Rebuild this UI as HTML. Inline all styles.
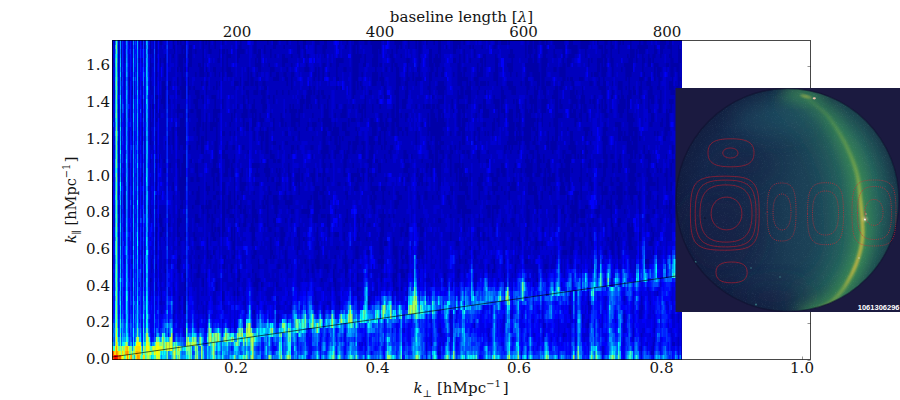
<!DOCTYPE html>
<html><head><meta charset="utf-8"><title>power spectrum</title>
<style>
html,body{margin:0;padding:0;background:#fff;}
body{width:900px;height:400px;overflow:hidden;}
svg{display:block;}
text{font-family:"DejaVu Serif","Liberation Serif",serif;font-size:14px;fill:#141414;}
.lb{font-size:14.5px;}
.it{font-style:italic;}
.sm{font-size:9.8px;}
.id{font-family:"Liberation Sans","DejaVu Sans",sans-serif;font-size:7.5px;fill:#fff;font-weight:bold;}
</style></head><body>
<svg width="900" height="400" viewBox="0 0 900 400">
<defs>
<filter id="hb" x="0" y="0" width="100%" height="100%" filterUnits="userSpaceOnUse"><feGaussianBlur stdDeviation="0.3 0.5"/></filter>
<filter id="b6" x="-30%" y="-30%" width="160%" height="160%"><feGaussianBlur stdDeviation="6"/></filter>
<filter id="b3" x="-30%" y="-30%" width="160%" height="160%"><feGaussianBlur stdDeviation="2.5"/></filter>
<filter id="b2" x="-30%" y="-30%" width="160%" height="160%"><feGaussianBlur stdDeviation="1.6"/></filter>
<filter id="b1" x="-30%" y="-30%" width="160%" height="160%"><feGaussianBlur stdDeviation="1"/></filter>
<filter id="b12" x="-50%" y="-50%" width="200%" height="200%"><feGaussianBlur stdDeviation="12"/></filter>
<filter id="grain" x="0" y="0" width="100%" height="100%">
<feTurbulence type="fractalNoise" baseFrequency="0.9" numOctaves="2" seed="3" result="t"/>
<feColorMatrix in="t" type="matrix" values="0 0 0 0 0.55  0 0 0 0 0.8  0 0 0 0 0.85  0 0 0 1.1 -0.62"/>
</filter>
<linearGradient id="coreg" gradientUnits="userSpaceOnUse" x1="0" y1="95" x2="0" y2="318">
<stop offset="0" stop-color="#6aa84a" stop-opacity="0.25"/><stop offset="0.3" stop-color="#8cb244" stop-opacity="0.7"/><stop offset="0.5" stop-color="#a8b840" stop-opacity="0.95"/><stop offset="0.8" stop-color="#a8b840" stop-opacity="0.9"/><stop offset="1" stop-color="#7aa848" stop-opacity="0.4"/>
</linearGradient>
<linearGradient id="hotg" gradientUnits="userSpaceOnUse" x1="0" y1="176" x2="0" y2="290">
<stop offset="0" stop-color="#dcb040" stop-opacity="0"/><stop offset="0.35" stop-color="#dcb040" stop-opacity="0.85"/><stop offset="0.8" stop-color="#dcb040" stop-opacity="0.8"/><stop offset="1" stop-color="#dcb040" stop-opacity="0"/>
</linearGradient>
<linearGradient id="glow1" gradientUnits="userSpaceOnUse" x1="0" y1="90" x2="0" y2="318">
<stop offset="0" stop-color="#2c7a5c" stop-opacity="0.28"/><stop offset="0.45" stop-color="#2c7a5c" stop-opacity="0.55"/><stop offset="1" stop-color="#2c7a5c" stop-opacity="0.5"/>
</linearGradient>
<linearGradient id="glow2" gradientUnits="userSpaceOnUse" x1="0" y1="90" x2="0" y2="318">
<stop offset="0" stop-color="#3f9052" stop-opacity="0.45"/><stop offset="0.45" stop-color="#3f9052" stop-opacity="0.78"/><stop offset="1" stop-color="#3f9052" stop-opacity="0.7"/>
</linearGradient>
<clipPath id="sky"><circle cx="787.5" cy="200" r="111.5"/></clipPath>
<clipPath id="inset"><rect x="675.5" y="88" width="224.5" height="224"/></clipPath>
<clipPath id="hm"><rect x="112" y="40" width="570" height="320"/></clipPath>
<linearGradient id="skyl" gradientUnits="userSpaceOnUse" x1="676" y1="0" x2="900" y2="0">
<stop offset="0" stop-color="#14234a"/><stop offset="0.33" stop-color="#172f4e"/><stop offset="0.62" stop-color="#1c4458"/><stop offset="0.82" stop-color="#20565e"/><stop offset="1" stop-color="#1c4a58"/>
</linearGradient>
<radialGradient id="skyg" gradientUnits="userSpaceOnUse" cx="787.5" cy="200" r="112">
<stop offset="0" stop-color="#101838" stop-opacity="0"/><stop offset="0.8" stop-color="#101838" stop-opacity="0"/><stop offset="1" stop-color="#101838" stop-opacity="0.55"/>
</radialGradient>
</defs>
<rect width="900" height="400" fill="#fff"/>
<g clip-path="url(#hm)">
<rect x="112" y="40" width="570" height="320" fill="#0000bd"/>
<g fill="none" filter="url(#hb)">
<g stroke-width="1.1">
<path stroke="#0000a8" d="M114.5 90v5M121.5 49v9M121.5 77v4M121.5 109v4M121.5 118v4M124.5 195v5M124.5 205v4M129.5 77v13M129.5 163v5M129.5 182v4M132.5 86v9M132.5 127v9M142.5 40v5M142.5 99v19M142.5 127v18M142.5 173v4M142.5 259v5M142.5 273v5M150.5 40v14M150.5 58v32M150.5 104v41M150.5 159v4M150.5 209v5M150.5 278v4M152.5 104v5M153.5 104v14M155.5 95v4M155.5 241v5M156.5 40v46M156.5 95v18M156.5 118v4M156.5 131v23M156.5 159v32M156.5 195v5M156.5 205v4M156.5 218v5M156.5 227v28M156.5 264v5M157.5 95v4M159.5 109v9M159.5 154v9M159.5 214v9M160.5 40v5M160.5 58v9M160.5 214v13M160.5 232v5M161.5 40v5M161.5 99v5M161.5 218v9M161.5 232v5"/>
<path stroke="#0000d1" d="M113.5 58v9M114.5 49v14M114.5 67v14M114.5 104v9M114.5 122v14M114.5 141v4M114.5 150v41M114.5 205v9M114.5 227v19M114.5 255v14M114.5 273v5M118.5 67v5M118.5 77v9M118.5 99v10M118.5 113v9M118.5 131v5M118.5 145v5M118.5 159v14M118.5 177v32M118.5 214v4M118.5 223v23M118.5 250v5M118.5 264v5M119.5 45v13M119.5 118v9M119.5 154v9M119.5 205v18M121.5 81v9M121.5 131v5M121.5 150v13M121.5 182v4M121.5 191v9M121.5 205v4M121.5 218v19M121.5 246v9M121.5 269v4M121.5 291v5M123.5 163v5M123.5 173v13M123.5 195v10M124.5 40v9M124.5 63v9M124.5 90v19M124.5 122v5M124.5 136v18M124.5 159v18M124.5 214v13M124.5 241v5M124.5 259v5M125.5 54v9M125.5 113v5M125.5 122v5M125.5 177v5M125.5 186v32M128.5 77v9M128.5 163v5M129.5 40v9M129.5 54v18M129.5 99v5M129.5 118v4M129.5 127v4M129.5 154v5M129.5 200v18M129.5 227v5M129.5 246v4M129.5 264v9M129.5 291v5M131.5 40v14M131.5 67v5M131.5 90v28M131.5 168v9M131.5 259v5M132.5 72v9M132.5 145v5M132.5 191v4M132.5 214v9M132.5 227v5M132.5 246v4M132.5 255v4M132.5 264v5M132.5 278v4M132.5 291v5M132.5 305v5M134.5 72v5M134.5 81v18M134.5 141v13M134.5 214v9M134.5 227v10M136.5 63v9M136.5 173v4M136.5 182v4M136.5 195v5M138.5 58v5M138.5 77v4M139.5 49v9M139.5 63v14M139.5 90v9M139.5 104v18M139.5 141v13M139.5 159v32M139.5 209v14M139.5 232v5M139.5 241v5M139.5 250v5M141.5 40v5M141.5 58v5M141.5 81v9M141.5 99v5M141.5 122v32M141.5 168v9M141.5 182v4M141.5 195v10M141.5 250v5M142.5 63v4M142.5 191v4M142.5 200v5M142.5 209v5M142.5 218v5M142.5 227v5M142.5 237v9M142.5 264v5M142.5 287v23M142.5 319v9M144.5 40v5M144.5 99v23M144.5 131v19M144.5 154v19M144.5 191v4M144.5 200v9M144.5 241v14M145.5 40v18M145.5 63v4M145.5 113v9M145.5 131v19M145.5 154v19M145.5 191v4M145.5 205v4M148.5 45v13M148.5 118v13M148.5 136v5M148.5 186v5M148.5 200v5M148.5 214v4M148.5 223v18M149.5 45v9M149.5 67v10M149.5 90v55M149.5 186v5M150.5 223v4M150.5 237v4M150.5 246v32M150.5 296v5M151.5 40v9M151.5 54v9M151.5 77v4M151.5 95v27M151.5 127v4M151.5 150v4M151.5 159v27M151.5 191v9M151.5 205v9M151.5 218v5M151.5 246v4M151.5 255v4M151.5 273v5M151.5 282v9M152.5 40v9M152.5 58v5M152.5 67v19M152.5 95v4M152.5 127v14M152.5 150v36M152.5 205v18M152.5 232v5M152.5 241v14M152.5 259v5M152.5 269v27M153.5 58v5M153.5 67v19M153.5 127v14M153.5 145v5M153.5 186v46M153.5 237v9M153.5 250v9M153.5 269v4M155.5 127v4M155.5 145v9M155.5 159v4M155.5 168v14M155.5 195v10M155.5 209v18M155.5 255v9M155.5 278v4M155.5 291v5M155.5 301v4M156.5 278v4M156.5 291v5M156.5 301v4M157.5 54v4M157.5 63v9M157.5 77v18M157.5 122v37M157.5 163v23M157.5 191v18M157.5 214v13M157.5 232v23M157.5 269v13M157.5 287v9M158.5 113v5M159.5 168v5M159.5 177v18M159.5 200v5M159.5 227v5M159.5 246v4M159.5 282v5M159.5 291v5M159.5 301v4M160.5 81v14M160.5 154v14M160.5 177v5M160.5 186v9M160.5 200v5M160.5 291v10M160.5 305v9M161.5 63v4M161.5 77v4M161.5 113v5M161.5 159v23M161.5 186v5M161.5 195v10M161.5 237v13M161.5 269v4M161.5 282v5M161.5 305v5"/>
<path stroke="#0000e6" d="M112.5 58v5M112.5 81v5M112.5 90v5M112.5 154v5M113.5 40v18M113.5 67v55M113.5 127v32M113.5 163v10M113.5 177v5M113.5 205v22M113.5 237v4M113.5 255v9M114.5 191v14M114.5 246v9M114.5 269v4M114.5 278v23M118.5 246v4M118.5 255v9M118.5 269v18M119.5 40v5M119.5 58v37M119.5 104v14M119.5 127v27M119.5 163v19M119.5 186v9M119.5 200v5M119.5 232v14M121.5 255v14M121.5 273v5M121.5 287v4M121.5 296v9M123.5 40v59M123.5 118v23M123.5 145v18M123.5 168v5M123.5 186v9M123.5 205v9M123.5 218v14M124.5 232v9M124.5 255v4M124.5 264v5M124.5 287v4M125.5 40v14M125.5 63v32M125.5 99v14M125.5 118v4M125.5 127v18M125.5 150v9M125.5 163v14M125.5 182v4M125.5 218v14M125.5 259v5M128.5 40v5M128.5 49v14M128.5 67v10M128.5 86v18M128.5 113v5M128.5 127v36M128.5 168v50M128.5 237v4M129.5 223v4M129.5 237v9M129.5 250v14M129.5 273v9M129.5 287v4M129.5 296v18M129.5 319v4M131.5 54v13M131.5 72v18M131.5 118v23M131.5 154v14M131.5 177v9M131.5 195v5M131.5 205v13M131.5 232v23M132.5 296v9M132.5 310v9M134.5 40v23M134.5 67v5M134.5 77v4M134.5 99v14M134.5 118v23M134.5 154v14M134.5 173v41M134.5 223v4M134.5 237v27M134.5 287v9M136.5 45v4M136.5 54v9M136.5 72v27M136.5 109v32M136.5 168v5M136.5 177v5M136.5 186v9M136.5 200v5M136.5 209v14M136.5 269v4M138.5 40v18M138.5 63v14M138.5 81v14M138.5 118v13M138.5 136v27M138.5 168v5M138.5 177v9M138.5 191v4M138.5 209v5M138.5 223v4M138.5 246v4M139.5 246v4M139.5 255v14M139.5 282v5M141.5 45v13M141.5 63v18M141.5 90v9M141.5 104v18M141.5 154v14M141.5 186v9M141.5 205v13M141.5 232v5M141.5 241v9M141.5 255v9M141.5 273v14M142.5 310v4M142.5 328v9M144.5 49v23M144.5 77v22M144.5 122v9M144.5 150v4M144.5 173v18M144.5 195v5M144.5 209v5M144.5 227v14M144.5 255v18M145.5 58v5M145.5 67v37M145.5 109v4M145.5 122v9M145.5 150v4M145.5 173v18M145.5 195v10M145.5 209v5M145.5 227v5M145.5 246v4M145.5 273v9M148.5 40v5M148.5 58v14M148.5 81v5M148.5 90v28M148.5 131v5M148.5 141v22M148.5 168v18M148.5 191v9M148.5 218v5M148.5 241v5M148.5 269v18M149.5 40v5M149.5 54v13M149.5 77v13M149.5 145v41M149.5 191v41M149.5 237v4M149.5 246v9M149.5 269v18M149.5 291v10M150.5 173v4M150.5 301v13M150.5 319v14M151.5 186v5M151.5 200v5M151.5 232v14M151.5 250v5M151.5 291v5M151.5 314v23M152.5 186v19M152.5 223v9M152.5 237v4M152.5 296v32M152.5 333v4M153.5 246v4M153.5 259v10M153.5 273v55M153.5 333v4M155.5 296v5M155.5 305v9M155.5 333v4M156.5 191v4M156.5 296v5M156.5 305v5M157.5 186v5M157.5 209v5M157.5 255v14M157.5 282v5M158.5 49v5M158.5 72v9M158.5 95v4M158.5 145v9M158.5 159v4M158.5 195v5M158.5 218v5M159.5 287v4M159.5 296v5M159.5 305v18M160.5 314v14M161.5 314v5"/>
<path stroke="#0000fa" d="M112.5 54v4M112.5 63v18M112.5 86v4M112.5 95v23M112.5 136v18M112.5 159v18M112.5 191v27M112.5 227v5M112.5 246v4M112.5 264v5M113.5 159v4M113.5 173v4M113.5 182v23M113.5 227v10M113.5 241v14M113.5 264v5M113.5 273v9M114.5 301v13M118.5 95v4M118.5 287v18M118.5 310v9M119.5 99v5M119.5 223v9M119.5 246v13M119.5 264v9M121.5 186v5M121.5 282v5M121.5 305v9M123.5 99v5M123.5 113v5M123.5 141v4M123.5 214v4M123.5 232v9M123.5 246v18M123.5 287v4M123.5 296v5M124.5 269v18M124.5 291v19M124.5 314v5M125.5 95v4M125.5 145v5M125.5 159v4M125.5 232v14M125.5 255v4M125.5 264v5M128.5 45v4M128.5 63v4M128.5 109v4M128.5 118v9M128.5 218v14M128.5 241v14M128.5 259v19M128.5 287v4M128.5 296v5M129.5 49v5M129.5 104v5M129.5 122v5M129.5 218v5M129.5 232v5M129.5 314v5M129.5 328v5M130.5 77v4M130.5 127v4M131.5 141v4M131.5 150v4M131.5 186v9M131.5 200v5M131.5 218v14M131.5 255v4M131.5 264v27M131.5 305v5M132.5 319v4M132.5 337v5M134.5 63v4M134.5 113v5M134.5 168v5M134.5 264v23M134.5 296v5M134.5 314v5M136.5 40v5M136.5 49v5M136.5 99v10M136.5 141v4M136.5 150v18M136.5 205v4M136.5 223v9M136.5 237v22M136.5 264v5M136.5 273v18M136.5 296v5M138.5 95v23M138.5 131v5M138.5 163v5M138.5 173v4M138.5 186v5M138.5 195v14M138.5 214v9M138.5 227v14M138.5 250v5M138.5 259v10M139.5 99v5M139.5 301v4M139.5 319v4M140.5 72v14M140.5 122v14M140.5 141v4M140.5 150v4M140.5 177v5M141.5 223v9M141.5 237v4M141.5 264v9M141.5 287v27M141.5 319v9M142.5 49v9M142.5 67v14M142.5 186v5M142.5 205v4M142.5 314v5M142.5 337v5M144.5 223v4M144.5 273v9M144.5 287v4M145.5 104v5M145.5 218v9M145.5 232v14M145.5 250v5M145.5 264v9M145.5 282v14M148.5 163v5M148.5 246v4M148.5 255v14M148.5 287v4M148.5 296v5M149.5 232v5M149.5 241v5M149.5 255v14M149.5 287v4M149.5 301v4M149.5 310v4M149.5 319v4M150.5 227v10M150.5 241v5M150.5 314v5M151.5 154v5M151.5 296v9M151.5 310v4M151.5 337v5M152.5 328v5M153.5 328v5M155.5 154v5M155.5 163v5M155.5 314v5M155.5 323v10M156.5 310v9M157.5 296v14M157.5 314v5M158.5 40v9M158.5 54v18M158.5 81v14M158.5 99v14M158.5 118v27M158.5 154v5M158.5 163v10M158.5 177v5M158.5 191v4M158.5 200v18M158.5 223v18M158.5 250v5M158.5 259v19M158.5 287v4M159.5 173v4M159.5 323v10M160.5 168v9M160.5 182v4M161.5 67v10M161.5 182v4M161.5 319v9"/>
<path stroke="#000fff" d="M112.5 40v5M112.5 122v5M112.5 131v5M112.5 177v5M112.5 186v5M112.5 218v9M112.5 232v14M112.5 250v14M112.5 269v4M112.5 287v4M113.5 269v4M113.5 282v9M113.5 296v23M114.5 314v5M118.5 305v5M118.5 319v9M119.5 95v4M119.5 182v4M119.5 259v5M119.5 273v5M119.5 282v9M119.5 310v4M121.5 314v5M122.5 122v5M122.5 145v5M122.5 163v5M122.5 173v9M123.5 264v23M123.5 291v5M123.5 301v9M124.5 246v9M124.5 310v4M125.5 269v22M128.5 232v5M128.5 255v4M128.5 278v9M128.5 291v5M128.5 301v9M128.5 319v4M129.5 282v5M129.5 323v5M129.5 333v4M130.5 40v9M130.5 54v23M130.5 81v41M130.5 131v14M130.5 163v23M130.5 218v5M130.5 227v5M130.5 241v14M130.5 259v10M131.5 291v10M131.5 310v4M132.5 323v5M132.5 342v4M134.5 305v9M134.5 319v9M135.5 49v5M135.5 67v5M135.5 95v4M135.5 131v10M135.5 173v4M135.5 191v18M135.5 214v9M136.5 259v5M136.5 291v5M138.5 241v5M138.5 255v4M138.5 278v9M138.5 291v5M139.5 291v5M140.5 40v9M140.5 58v14M140.5 86v4M140.5 95v14M140.5 113v9M140.5 136v5M140.5 145v5M140.5 154v9M140.5 168v9M140.5 182v27M140.5 223v4M140.5 250v5M141.5 314v5M144.5 72v5M144.5 282v5M144.5 291v5M145.5 214v4M145.5 296v5M145.5 310v9M148.5 72v9M148.5 86v4M148.5 291v5M148.5 305v5M149.5 305v5M150.5 333v4M151.5 223v9M151.5 305v5M152.5 337v5M153.5 337v5M154.5 104v5M154.5 150v4M155.5 191v4M155.5 319v4M156.5 319v9M157.5 319v9M158.5 173v4M158.5 182v9M158.5 241v9M158.5 255v4M158.5 278v9M158.5 291v5"/>
<path stroke="#0024ff" d="M112.5 45v9M112.5 127v4M112.5 273v14M112.5 291v10M112.5 310v4M113.5 122v5M113.5 291v5M113.5 319v4M114.5 319v4M119.5 195v5M119.5 305v5M119.5 314v5M121.5 278v4M121.5 319v4M121.5 333v4M122.5 40v27M122.5 72v5M122.5 86v13M122.5 113v9M122.5 127v9M122.5 141v4M122.5 150v4M122.5 168v5M122.5 182v4M122.5 209v5M122.5 223v4M123.5 104v9M123.5 241v5M123.5 310v9M124.5 319v4M125.5 291v19M125.5 314v9M128.5 104v5M128.5 310v9M128.5 323v5M130.5 49v5M130.5 122v5M130.5 145v18M130.5 186v14M130.5 205v13M130.5 223v4M130.5 232v9M130.5 255v4M130.5 269v22M130.5 305v9M131.5 145v5M131.5 301v4M131.5 314v9M132.5 328v9M134.5 328v5M134.5 337v5M135.5 45v4M135.5 54v13M135.5 72v5M135.5 81v14M135.5 99v32M135.5 141v18M135.5 163v10M135.5 177v14M135.5 209v5M135.5 223v36M135.5 269v4M135.5 278v4M135.5 296v5M136.5 145v5M136.5 232v5M136.5 301v4M138.5 269v9M138.5 287v4M138.5 296v9M139.5 269v13M139.5 287v4M139.5 305v14M140.5 49v9M140.5 90v5M140.5 163v5M140.5 209v9M140.5 227v23M140.5 255v4M140.5 264v5M140.5 287v4M141.5 218v5M141.5 328v9M142.5 342v4M143.5 109v4M143.5 127v4M143.5 136v5M143.5 159v4M144.5 214v9M144.5 296v5M144.5 319v4M145.5 301v9M145.5 319v9M148.5 250v5M148.5 301v4M148.5 310v4M148.5 319v4M149.5 314v5M149.5 323v5M150.5 337v5M154.5 40v9M154.5 72v14M154.5 109v18M154.5 136v5M154.5 145v5M154.5 182v9M154.5 232v5M154.5 250v5M154.5 273v5M158.5 296v14M158.5 314v5M160.5 328v9M161.5 328v5"/>
<path stroke="#0038ff" d="M112.5 118v4M112.5 182v4M112.5 301v9M112.5 314v9M114.5 323v5M114.5 337v5M118.5 328v9M119.5 278v4M119.5 319v9M121.5 328v5M122.5 67v5M122.5 77v9M122.5 99v5M122.5 136v5M122.5 154v9M122.5 186v23M122.5 214v9M122.5 227v28M122.5 269v4M122.5 301v4M124.5 323v5M125.5 246v9M125.5 310v4M127.5 49v5M127.5 77v4M127.5 131v5M127.5 145v5M128.5 328v5M129.5 337v5M130.5 291v14M130.5 314v5M131.5 328v9M134.5 333v4M135.5 40v5M135.5 159v4M135.5 259v10M135.5 273v5M135.5 282v14M135.5 301v4M135.5 310v4M136.5 305v5M138.5 305v5M138.5 314v5M139.5 296v5M139.5 323v5M140.5 259v5M140.5 273v14M140.5 291v23M141.5 337v5M143.5 40v9M143.5 63v4M143.5 86v9M143.5 99v10M143.5 113v5M143.5 122v5M143.5 131v5M143.5 154v5M143.5 173v13M143.5 200v5M143.5 223v4M143.5 232v5M143.5 241v9M144.5 310v9M144.5 323v10M145.5 255v9M148.5 323v5M149.5 328v5M151.5 342v4M154.5 54v18M154.5 86v18M154.5 127v9M154.5 141v4M154.5 173v9M154.5 205v4M154.5 227v5M154.5 237v13M154.5 255v4M154.5 269v4M154.5 278v4M154.5 291v5M157.5 310v4M158.5 310v4M158.5 319v14M159.5 333v4M161.5 333v4"/>
<path stroke="#004dff" d="M113.5 328v5M114.5 333v4M114.5 342v4M119.5 291v14M119.5 328v9M121.5 337v5M122.5 109v4M122.5 255v14M122.5 273v5M122.5 287v14M122.5 305v9M123.5 319v4M123.5 328v5M124.5 328v5M125.5 323v10M127.5 40v9M127.5 54v9M127.5 67v5M127.5 81v9M127.5 95v23M127.5 122v9M127.5 136v9M127.5 150v18M127.5 177v5M127.5 191v9M127.5 209v23M127.5 237v9M127.5 250v5M127.5 259v5M128.5 333v4M129.5 342v4M130.5 200v5M130.5 319v4M130.5 333v4M131.5 323v5M131.5 337v5M134.5 301v4M135.5 77v4M135.5 305v5M135.5 323v10M136.5 310v13M138.5 310v4M138.5 319v9M139.5 328v5M140.5 109v4M140.5 218v5M140.5 314v9M143.5 49v14M143.5 67v5M143.5 118v4M143.5 141v13M143.5 163v10M143.5 186v14M143.5 205v4M143.5 227v5M143.5 237v4M143.5 250v14M144.5 301v4M145.5 328v5M148.5 314v5M149.5 333v4M154.5 49v5M154.5 154v19M154.5 200v5M154.5 214v13M154.5 259v10M154.5 282v9M154.5 296v18M154.5 333v4M155.5 337v5"/>
<path stroke="#0061ff" d="M113.5 323v5M113.5 337v5M114.5 328v5M117.5 63v9M117.5 95v9M117.5 109v4M117.5 168v9M117.5 191v9M121.5 323v5M121.5 342v4M122.5 104v5M122.5 278v9M123.5 323v5M125.5 333v4M127.5 63v4M127.5 72v5M127.5 90v5M127.5 118v4M127.5 168v9M127.5 182v9M127.5 200v9M127.5 232v5M127.5 246v4M127.5 255v4M128.5 342v4M130.5 323v10M133.5 45v4M133.5 141v4M135.5 314v9M135.5 333v4M136.5 323v5M139.5 333v4M140.5 269v4M140.5 323v5M142.5 346v5M143.5 95v4M143.5 209v14M143.5 264v23M144.5 305v5M144.5 333v4M148.5 328v5M154.5 195v5M154.5 209v5M154.5 323v5M154.5 337v5M156.5 328v5M157.5 328v5"/>
<path stroke="#0075ff" d="M112.5 323v19M113.5 333v4M115.5 40v5M117.5 45v4M117.5 54v9M117.5 72v5M117.5 81v5M117.5 90v5M117.5 104v5M117.5 113v18M117.5 141v4M117.5 150v4M117.5 159v4M117.5 177v14M117.5 205v9M117.5 223v4M117.5 232v5M122.5 314v5M123.5 333v4M126.5 45v4M126.5 77v4M126.5 150v4M126.5 186v5M127.5 264v14M127.5 282v9M130.5 337v5M133.5 72v5M133.5 81v18M133.5 131v10M133.5 200v5M133.5 269v9M134.5 342v4M135.5 337v5M136.5 328v5M137.5 150v4M143.5 72v14M143.5 287v4M144.5 337v5M147.5 49v5M147.5 95v4M147.5 163v5M147.5 186v5M147.5 232v5M154.5 191v4M154.5 314v9M154.5 328v5M156.5 333v4"/>
<path stroke="#008aff" d="M113.5 342v4M115.5 49v5M115.5 122v9M115.5 145v5M117.5 40v5M117.5 49v5M117.5 77v4M117.5 86v4M117.5 145v5M117.5 154v5M117.5 163v5M117.5 200v5M117.5 214v9M117.5 227v5M117.5 241v23M117.5 278v4M118.5 337v5M120.5 49v5M120.5 77v9M120.5 90v5M120.5 205v4M122.5 319v4M124.5 333v4M126.5 40v5M126.5 49v9M126.5 86v4M126.5 104v5M126.5 118v9M126.5 136v5M126.5 168v5M126.5 182v4M126.5 209v9M126.5 255v4M127.5 278v4M127.5 301v13M128.5 337v5M132.5 346v5M133.5 40v5M133.5 49v9M133.5 109v4M133.5 122v9M133.5 145v9M133.5 159v9M133.5 177v5M133.5 195v5M133.5 209v5M133.5 241v5M133.5 250v5M133.5 291v5M136.5 333v4M137.5 58v5M137.5 86v4M137.5 109v4M137.5 136v5M137.5 145v5M137.5 159v4M137.5 168v18M137.5 191v4M140.5 328v5M141.5 342v4M143.5 291v5M143.5 301v4M146.5 45v4M146.5 54v4M146.5 122v5M146.5 136v5M147.5 40v5M147.5 58v5M147.5 67v10M147.5 109v4M147.5 118v4M147.5 127v4M147.5 136v5M147.5 159v4M147.5 177v5M147.5 205v4M147.5 214v4M147.5 223v4M147.5 241v5M150.5 342v4M153.5 342v4M160.5 337v5M161.5 355v5"/>
<path stroke="#009eff" d="M115.5 90v9M115.5 136v9M115.5 150v9M115.5 177v5M115.5 237v4M115.5 259v5M117.5 136v5M117.5 237v4M117.5 264v14M117.5 282v5M117.5 291v23M119.5 337v9M120.5 40v9M120.5 54v4M120.5 67v5M120.5 86v4M120.5 109v9M120.5 122v5M120.5 159v4M120.5 173v4M120.5 195v5M120.5 209v14M120.5 232v14M120.5 255v4M122.5 323v10M123.5 337v5M125.5 337v5M126.5 58v5M126.5 67v5M126.5 81v5M126.5 99v5M126.5 109v9M126.5 127v9M126.5 141v4M126.5 154v5M126.5 163v5M126.5 173v4M126.5 195v14M126.5 218v5M126.5 227v5M126.5 237v9M127.5 328v5M130.5 342v4M131.5 342v4M133.5 63v9M133.5 77v4M133.5 99v5M133.5 154v5M133.5 168v5M133.5 182v13M133.5 214v4M133.5 227v14M133.5 259v10M133.5 278v4M133.5 287v4M133.5 323v5M137.5 49v9M137.5 63v9M137.5 81v5M137.5 95v4M137.5 104v5M137.5 127v9M137.5 141v4M137.5 154v5M137.5 195v5M137.5 209v9M137.5 223v4M137.5 269v18M138.5 328v9M143.5 305v9M145.5 333v9M146.5 81v5M146.5 90v9M146.5 104v5M146.5 127v4M146.5 150v4M146.5 186v9M146.5 227v5M146.5 246v4M147.5 45v4M147.5 54v4M147.5 63v4M147.5 81v5M147.5 99v5M147.5 113v5M147.5 122v5M147.5 131v5M147.5 154v5M147.5 168v9M147.5 182v4M147.5 200v5M147.5 209v5M147.5 218v5M147.5 227v5M147.5 237v4M147.5 246v4M147.5 255v4M147.5 273v5M147.5 282v9M152.5 342v4M158.5 333v4"/>
<path stroke="#00b2ff" d="M115.5 45v4M115.5 54v4M115.5 67v10M115.5 99v14M115.5 118v4M115.5 182v13M115.5 200v14M115.5 218v9M115.5 255v4M115.5 287v4M117.5 131v5M117.5 287v4M117.5 314v5M120.5 58v5M120.5 104v5M120.5 118v4M120.5 131v10M120.5 145v5M120.5 154v5M120.5 168v5M120.5 177v5M120.5 191v4M120.5 250v5M120.5 264v5M120.5 273v5M120.5 291v5M122.5 333v4M124.5 337v5M126.5 63v4M126.5 72v5M126.5 90v9M126.5 145v5M126.5 177v5M126.5 191v4M126.5 223v4M126.5 232v5M126.5 246v4M126.5 259v14M126.5 278v4M127.5 291v5M127.5 314v14M133.5 58v5M133.5 104v5M133.5 113v9M133.5 173v4M133.5 205v4M133.5 218v9M133.5 255v4M133.5 282v5M133.5 296v18M133.5 319v4M134.5 355v5M137.5 40v9M137.5 72v9M137.5 99v5M137.5 113v14M137.5 186v5M137.5 205v4M137.5 218v5M137.5 227v5M137.5 255v4M137.5 264v5M137.5 287v9M139.5 337v5M143.5 296v5M146.5 40v5M146.5 49v5M146.5 58v9M146.5 77v4M146.5 86v4M146.5 109v13M146.5 131v5M146.5 141v9M146.5 154v14M146.5 195v32M146.5 232v5M146.5 259v5M146.5 273v5M146.5 287v4M147.5 77v4M147.5 104v5M147.5 141v13M147.5 191v9M147.5 259v10M147.5 278v4M147.5 291v5M148.5 333v4M157.5 333v4"/>
<path stroke="#00c7ff" d="M115.5 58v9M115.5 77v13M115.5 113v5M115.5 131v5M115.5 159v18M115.5 214v4M115.5 227v10M115.5 264v9M115.5 282v5M115.5 296v5M117.5 319v9M118.5 342v4M120.5 63v4M120.5 72v5M120.5 95v9M120.5 141v4M120.5 163v5M120.5 200v5M120.5 223v9M120.5 246v4M120.5 259v5M120.5 269v4M120.5 282v9M120.5 296v5M122.5 337v5M126.5 159v4M126.5 250v5M126.5 273v5M126.5 287v4M126.5 314v5M127.5 296v5M133.5 246v4M133.5 314v5M137.5 90v5M137.5 163v5M137.5 246v4M137.5 259v5M137.5 310v4M140.5 333v4M142.5 351v4M143.5 319v4M146.5 67v10M146.5 168v9M146.5 182v4M146.5 255v4M146.5 282v5M147.5 90v5M147.5 269v4M147.5 296v18M151.5 355v5M154.5 342v4M161.5 337v5M161.5 351v4"/>
<path stroke="#00dbff" d="M115.5 195v5M115.5 241v14M115.5 273v9M120.5 127v4M120.5 305v14M126.5 282v5M126.5 310v4M126.5 319v4M127.5 333v4M133.5 337v5M137.5 232v5M137.5 250v5M137.5 296v5M137.5 305v5M137.5 314v9M140.5 337v5M143.5 323v5M144.5 342v4M146.5 99v5M146.5 237v9M146.5 264v9M146.5 278v4M146.5 291v5M147.5 86v4M147.5 319v4M160.5 355v5"/>
<path stroke="#00f0ff" d="M115.5 291v5M115.5 301v9M120.5 150v4M120.5 186v5M120.5 278v4M120.5 301v4M120.5 328v5M122.5 342v4M126.5 301v9M126.5 328v9M133.5 342v4M137.5 200v5M137.5 237v4M143.5 314v5M143.5 333v4M145.5 342v4M146.5 177v5M146.5 250v5M146.5 296v9M146.5 314v5M147.5 250v5M147.5 323v5M149.5 337v5M152.5 355v5M153.5 355v5M159.5 337v5"/>
<path stroke="#05fffa" d="M112.5 342v4M115.5 319v4M117.5 333v4M120.5 182v4M123.5 342v4M126.5 291v5M126.5 323v5M127.5 337v5M133.5 328v9M135.5 342v4M137.5 241v5M137.5 301v4M137.5 323v5M143.5 337v5M146.5 305v9M146.5 323v5"/>
<path stroke="#1affe5" d="M113.5 346v5M114.5 346v5M115.5 310v9M117.5 328v5M120.5 319v9M124.5 342v4M126.5 296v5M141.5 355v5M143.5 328v5M145.5 355v5M146.5 319v4M147.5 314v5M160.5 351v4"/>
<path stroke="#2effd1" d="M115.5 323v10M116.5 54v4M116.5 168v5M120.5 333v9M126.5 337v5M132.5 351v4M141.5 346v5M155.5 355v5"/>
<path stroke="#42ffbd" d="M115.5 333v4M116.5 118v4M116.5 232v5M120.5 342v4M124.5 355v5M141.5 351v4M143.5 342v4M145.5 351v4M146.5 328v5M147.5 328v5M150.5 346v5M151.5 346v5M152.5 351v4"/>
<path stroke="#57ffa8" d="M115.5 337v5M116.5 40v5M116.5 67v10M116.5 99v5M116.5 122v5M116.5 182v4M116.5 209v5M116.5 218v5M116.5 259v5M117.5 337v5M119.5 346v5M121.5 346v5M125.5 355v5M129.5 355v5M132.5 355v5M133.5 346v5M137.5 328v5M142.5 355v5M150.5 355v5M153.5 351v4M157.5 337v5"/>
<path stroke="#6bff94" d="M115.5 342v4M116.5 49v5M116.5 58v9M116.5 77v4M116.5 86v9M116.5 104v9M116.5 150v9M116.5 186v5M116.5 195v14M116.5 214v4M116.5 227v5M116.5 237v4M116.5 255v4M116.5 264v5M116.5 273v5M118.5 346v5M125.5 342v4M127.5 342v4M129.5 351v4M130.5 351v4M131.5 346v5M133.5 355v5M136.5 337v5M137.5 333v4M144.5 346v9M145.5 346v5M146.5 355v5M154.5 355v5M155.5 342v4M158.5 337v5"/>
<path stroke="#80ff80" d="M116.5 45v4M116.5 81v5M116.5 95v4M116.5 113v5M116.5 127v4M116.5 136v14M116.5 159v9M116.5 173v9M116.5 191v4M116.5 223v4M116.5 241v14M116.5 269v4M116.5 278v18M116.5 301v4M121.5 351v4M123.5 346v5M129.5 346v5M130.5 346v5M134.5 346v5M140.5 355v5M149.5 342v4M149.5 355v5M151.5 351v4M156.5 337v5M160.5 342v4M161.5 342v4"/>
<path stroke="#94ff6b" d="M116.5 131v5M116.5 296v5M116.5 305v18M134.5 351v4M135.5 355v5M146.5 333v4M148.5 337v5M159.5 342v4"/>
<path stroke="#a8ff57" d="M117.5 342v4M120.5 346v5M124.5 346v9M138.5 337v5M143.5 351v4M146.5 351v4M147.5 333v4M147.5 351v9M152.5 346v5"/>
<path stroke="#bdff42" d="M112.5 346v5M116.5 323v5M126.5 342v4M131.5 351v4M133.5 351v4M143.5 346v5M146.5 337v5M148.5 355v5M149.5 346v9M155.5 346v9"/>
<path stroke="#d1ff2e" d="M116.5 328v5M122.5 346v5M123.5 355v5M137.5 337v5M140.5 342v4M147.5 337v5M148.5 342v4M154.5 346v5M158.5 355v5M159.5 355v5M160.5 346v5"/>
<path stroke="#e5ff1a" d="M116.5 333v4M117.5 346v5M119.5 351v4M120.5 351v4M123.5 351v4M128.5 346v5M136.5 342v4M146.5 342v4M147.5 342v4M148.5 351v4M150.5 351v4M153.5 346v5M156.5 342v4M156.5 355v5M157.5 342v4M157.5 355v5M158.5 342v4M158.5 351v4M159.5 346v9M161.5 346v5"/>
<path stroke="#faff05" d="M115.5 346v5M122.5 355v5M126.5 355v5M128.5 355v5M139.5 342v4M147.5 346v5M148.5 346v5M154.5 351v4M156.5 346v9M157.5 346v9M158.5 346v5"/>
<path stroke="#fff000" d="M116.5 337v5M135.5 346v5M137.5 342v4M138.5 342v4M140.5 346v5M146.5 346v5"/>
<path stroke="#ffdb00" d="M114.5 351v4M115.5 351v4M116.5 342v4M118.5 351v4M121.5 355v5M122.5 351v4M125.5 346v5M135.5 351v4M136.5 346v5M136.5 355v5M137.5 346v5M138.5 346v5M139.5 346v5M140.5 351v4M143.5 355v5M144.5 355v5"/>
<path stroke="#ffc700" d="M126.5 346v5M128.5 351v4M130.5 355v5M138.5 351v4M139.5 351v4"/>
<path stroke="#ffb300" d="M125.5 351v4M127.5 346v5M136.5 351v4M137.5 351v4M139.5 355v5"/>
<path stroke="#ff9e00" d="M116.5 346v5M117.5 351v4M126.5 351v4M131.5 355v5M137.5 355v5M138.5 355v5"/>
<path stroke="#ff8a00" d="M116.5 351v4M118.5 355v5M127.5 351v9"/>
<path stroke="#ff7500" d="M112.5 355v5"/>
<path stroke="#ff6100" d="M112.5 351v4M113.5 351v4M119.5 355v5M120.5 355v5"/>
<path stroke="#ff4c00" d="M113.5 355v5"/>
<path stroke="#ff2400" d="M117.5 355v5"/>
<path stroke="#ff0f00" d="M114.5 355v5M116.5 355v5"/>
<path stroke="#fa0000" d="M115.5 355v5"/>
</g>
<g stroke-width="1.6">
<path stroke="#0000a8" d="M162.8 81v23M162.8 227v5M164.2 58v19M164.2 81v28M164.2 159v4M164.2 168v5M165.8 54v23M165.8 86v4M165.8 141v4M165.8 168v5M165.8 269v4M168.8 81v9M168.8 95v9M168.8 136v9M168.8 223v4M170.2 81v5M170.2 163v5M173.2 40v9M173.2 54v4M173.2 127v23M173.2 182v9M173.2 195v5M174.8 45v9M177.8 40v5M177.8 67v5M177.8 77v9M177.8 90v5M177.8 104v14M177.8 127v9M177.8 159v9M177.8 218v19M177.8 259v10M179.2 54v13M179.2 90v5M179.2 104v9M179.2 127v23M179.2 159v32M179.2 209v18M179.2 232v5M179.2 241v5M179.2 255v18M179.2 296v5M180.8 40v5M180.8 54v18M180.8 86v4M180.8 109v4M180.8 118v27M180.8 177v23M180.8 205v4M180.8 218v5M180.8 237v4M180.8 259v5M182.2 45v54M182.2 109v4M182.2 118v27M182.2 163v46M183.8 45v4M183.8 54v4M183.8 77v22M183.8 109v41M183.8 154v46M185.2 40v23M185.2 67v5M185.2 81v18M185.2 127v23M185.2 154v32M185.2 232v5M185.2 273v18M185.2 296v18M188.2 54v4M188.2 63v9M188.2 77v18M188.2 113v5M189.8 45v22M189.8 86v4M189.8 145v5M191.2 45v22M191.2 109v4M191.2 159v4M191.2 177v5M191.2 264v5M192.8 109v4M192.8 177v5M192.8 191v4M192.8 205v4M194.2 86v4M194.2 99v5M194.2 127v4M194.2 232v9M195.8 49v5M195.8 72v5M195.8 90v5M195.8 99v10M195.8 163v10M195.8 200v5M195.8 214v9M195.8 237v4M197.2 90v28M197.2 122v14M197.2 141v9M197.2 163v19M197.2 191v14M197.2 214v9M197.2 246v4M197.2 273v5M198.8 63v4M198.8 90v9M198.8 109v36M198.8 177v5M198.8 186v19M198.8 218v5M198.8 246v4M198.8 255v4M198.8 264v14M200.2 63v14M200.2 109v18M201.8 67v10M201.8 81v5M201.8 95v4M201.8 136v18M201.8 205v4M203.2 40v37M203.2 95v9M203.2 122v9M203.2 136v18M203.2 159v4M203.2 205v9M203.2 278v9M206.2 40v5M206.2 67v5M206.2 81v14M206.2 113v28M206.2 182v9M206.2 200v9M206.2 273v5M207.8 72v5M207.8 81v5M207.8 186v9M207.8 205v18M207.8 237v22M209.2 40v14M209.2 186v5M209.2 200v9M209.2 214v4M210.8 49v5M210.8 122v9M210.8 200v9M210.8 255v4M212.2 95v4M212.2 122v9M212.2 168v9M212.2 214v23M213.8 67v5M213.8 86v4M213.8 95v4M213.8 109v18M213.8 159v32M213.8 195v5M213.8 218v5M213.8 232v9M213.8 250v5M215.2 40v9M215.2 67v10M215.2 95v23M215.2 122v5M215.2 141v32M215.2 195v5M215.2 205v9M215.2 227v5M215.2 237v4M216.8 81v9M216.8 109v54M216.8 168v5M216.8 177v5M216.8 191v4M216.8 282v9M218.2 58v5M218.2 109v4M218.2 118v4M218.2 168v18M218.2 191v4M218.2 200v9M218.2 227v5M219.8 49v14M219.8 72v5M219.8 81v5M219.8 109v4M219.8 200v5M219.8 227v10M222.8 40v5M222.8 49v32M222.8 99v10M222.8 131v5M222.8 150v9M222.8 182v55M222.8 291v10M224.2 49v5M224.2 131v5M224.2 150v9M224.2 173v4M224.2 182v13M224.2 200v32M224.2 255v14M225.8 145v5M225.8 154v23M225.8 255v4M227.2 49v28M227.2 141v9M227.2 154v23M227.2 209v5M228.8 54v4M228.8 67v10M228.8 159v9M228.8 195v19M230.2 54v4M230.2 67v10M230.2 122v5M230.2 131v5M230.2 191v18M230.2 214v4M231.8 72v5M231.8 113v9M231.8 163v14M231.8 205v4M231.8 214v4M231.8 227v14M231.8 264v9M233.2 145v5M233.2 159v4M233.2 168v9M233.2 214v4M233.2 241v9M233.2 255v4M234.8 81v9M234.8 109v9M234.8 131v5M234.8 145v5M234.8 154v9M234.8 177v32M234.8 218v5M234.8 227v32M234.8 291v5M236.2 81v5M237.8 49v14M237.8 81v5M237.8 104v5M237.8 127v4M237.8 195v5M237.8 278v4M237.8 287v9M239.2 45v13M239.2 205v4M239.2 223v4M239.2 269v13M240.8 40v14M240.8 77v9M240.8 173v18M240.8 200v14M242.2 49v5M242.2 113v5M242.2 145v5M242.2 168v9M242.2 182v13M243.8 49v5M243.8 86v4M243.8 95v32M243.8 145v5M243.8 182v9M243.8 209v5M243.8 223v4M245.2 81v5M245.2 104v14M245.2 182v4M245.2 205v22M246.8 81v5M246.8 90v5M246.8 109v9M246.8 122v9M246.8 214v4M248.2 67v19M248.2 90v14M248.2 122v9M248.2 150v4M251.2 72v14M251.2 109v4M251.2 223v9M252.8 77v9M252.8 104v27M252.8 163v5M252.8 200v46M252.8 255v4M252.8 269v4M254.2 40v14M254.2 90v5M254.2 99v14M254.2 118v9M254.2 131v10M254.2 163v5M254.2 191v4M254.2 200v18M254.2 227v14M254.2 250v9M254.2 282v5M254.2 310v4M255.8 40v14M255.8 58v9M255.8 81v5M255.8 90v5M255.8 109v18M255.8 163v5M255.8 173v4M255.8 182v4M255.8 209v14M255.8 250v5M255.8 273v14M257.2 54v4M257.2 63v4M257.2 72v5M257.2 81v14M257.2 163v14M257.2 182v4M257.2 214v9M257.2 278v13M258.8 49v23M258.8 163v5M258.8 173v4M258.8 182v4M258.8 259v10M258.8 278v4M260.2 49v23M260.2 113v9M260.2 127v9M261.8 90v5M261.8 99v5M261.8 118v9M261.8 131v19M261.8 282v5M263.2 81v5M263.2 90v23M263.2 118v4M263.2 131v10M263.2 200v9M264.8 45v9M264.8 81v32M264.8 168v5M264.8 195v5M264.8 205v4M264.8 223v4M266.2 86v4M266.2 104v5M266.2 131v23M266.2 163v14M266.2 200v5M266.2 259v5M267.8 40v5M267.8 127v27M267.8 159v23M267.8 195v32M269.2 63v4M269.2 95v4M269.2 168v9M269.2 186v9M269.2 227v5M270.8 49v9M270.8 67v10M270.8 113v5M270.8 150v9M270.8 191v4M270.8 227v5M270.8 237v22M272.2 67v5M272.2 154v5M272.2 177v5M272.2 250v5M273.8 40v9M273.8 67v5M273.8 77v4M273.8 95v9M273.8 118v13M273.8 141v4M273.8 154v9M273.8 177v5M273.8 195v10M273.8 218v5M273.8 255v4M275.2 40v9M275.2 54v4M275.2 77v4M275.2 141v4M275.2 159v4M275.2 195v19M275.2 218v9M275.2 232v5M276.8 40v5M276.8 72v9M276.8 90v5M276.8 168v5M276.8 182v9M276.8 195v23M276.8 282v5M278.2 72v9M278.2 159v4M278.2 173v4M278.2 182v4M278.2 200v5M278.2 264v5M279.8 145v5M279.8 159v4M279.8 168v18M279.8 264v5M281.2 113v14M281.2 227v19M282.8 54v13M282.8 90v5M282.8 118v9M282.8 227v19M284.2 45v4M284.2 54v13M284.2 72v5M284.2 195v5M284.2 232v5M285.8 58v5M285.8 72v9M285.8 109v4M285.8 122v5M285.8 131v5M285.8 141v4M285.8 191v14M285.8 218v5M285.8 250v14M287.2 40v5M287.2 58v5M287.2 67v5M287.2 77v9M287.2 131v5M287.2 141v4M287.2 200v5M287.2 264v5M288.8 90v5M288.8 154v5M288.8 163v14M288.8 200v9M290.2 104v9M290.2 173v18M290.2 195v10M291.8 54v4M291.8 63v4M291.8 72v18M291.8 109v18M291.8 145v9M291.8 195v10M291.8 209v5M291.8 218v5M293.2 72v5M293.2 104v23M293.2 136v5M293.2 145v5M293.2 209v5M294.8 109v22M296.2 109v4M296.2 118v4M296.2 127v4M296.2 173v13M297.8 40v14M297.8 118v4M297.8 145v5M297.8 173v9M297.8 227v10M297.8 246v9M299.2 45v13M299.2 109v18M299.2 131v10M299.2 168v27M299.2 227v23M300.8 99v14M302.2 95v18M302.2 173v9M302.2 209v5M303.8 40v9M303.8 99v5M303.8 209v5M303.8 237v4M305.2 40v5M305.2 49v9M305.2 67v5M305.2 209v5M305.2 259v5M306.8 63v9M306.8 95v14M306.8 127v4M306.8 209v5M308.2 54v4M308.2 67v5M308.2 90v19M308.2 122v5M308.2 200v18M308.2 269v4M309.8 86v18M309.8 200v5M309.8 209v5M311.2 90v5M311.2 104v5M311.2 145v5M311.2 173v4M311.2 195v5M312.8 113v5M312.8 122v5M312.8 136v5M312.8 145v5M312.8 154v5M312.8 173v9M312.8 264v9M314.2 72v9M314.2 86v9M314.2 122v9M314.2 168v18M314.2 191v32M315.8 40v14M315.8 67v10M315.8 122v5M315.8 186v37M315.8 246v4M315.8 259v5M317.2 40v5M317.2 95v4M317.2 186v37M317.2 227v23M317.2 255v14M318.8 40v5M318.8 67v14M318.8 90v19M318.8 118v4M318.8 173v4M318.8 186v5M318.8 200v14M318.8 241v28M320.2 173v4M320.2 191v4M320.2 205v4M321.8 90v5M321.8 150v4M321.8 191v4M321.8 214v4M321.8 278v4M323.2 45v9M323.2 63v18M323.2 90v9M323.2 118v91M323.2 214v4M324.8 40v18M324.8 63v4M324.8 95v4M324.8 104v55M324.8 163v14M324.8 186v5M324.8 195v14M324.8 214v4M324.8 264v5M326.2 40v9M326.2 109v18M326.2 131v5M326.2 145v9M326.2 255v4M326.2 264v5M327.8 99v28M327.8 145v9M327.8 177v5M327.8 214v13M327.8 264v9M329.2 72v5M329.2 95v4M329.2 118v13M329.2 154v5M329.2 177v5M329.2 200v5M329.2 214v23M330.8 63v4M330.8 118v13M330.8 136v5M330.8 163v5M332.2 131v5M333.8 127v9M333.8 269v13M335.2 113v5M335.2 122v23M335.2 150v9M335.2 209v5M335.2 232v5M335.2 255v4M335.2 264v5M335.2 278v13M336.8 58v23M336.8 86v4M336.8 104v5M336.8 127v27M336.8 232v5M336.8 246v4M338.2 58v9M338.2 77v4M338.2 127v9M338.2 145v9M338.2 182v4M338.2 232v5M338.2 246v4M339.8 58v5M339.8 136v14M339.8 182v4M339.8 301v4M341.2 58v5M341.2 86v4M341.2 113v5M342.8 58v5M342.8 109v9M342.8 122v9M342.8 136v5M344.2 67v5M344.2 104v14M344.2 122v9M344.2 150v27M344.2 223v4M344.2 232v9M344.2 259v5M345.8 45v4M345.8 67v5M345.8 104v14M345.8 122v14M345.8 154v14M345.8 173v4M345.8 182v4M345.8 191v4M345.8 218v5M345.8 250v28M347.2 40v5M347.2 131v5M347.2 150v9M347.2 191v9M347.2 209v14M347.2 264v9M348.8 118v9M348.8 131v5M348.8 141v13M350.2 141v4M351.8 118v4M351.8 173v9M353.2 45v54M353.2 104v5M353.2 118v4M353.2 141v13M353.2 163v5M353.2 173v9M353.2 259v5M354.8 40v55M354.8 118v4M354.8 141v13M354.8 173v4M354.8 186v5M356.2 40v5M356.2 54v27M356.2 127v4M356.2 136v14M356.2 173v4M356.2 182v9M356.2 246v13M357.8 40v50M357.8 131v14M357.8 168v23M357.8 214v9M357.8 232v9M357.8 246v13M357.8 273v9M357.8 287v4M359.2 54v9M359.2 104v9M359.2 173v9M359.2 218v14M359.2 237v4M360.8 54v4M360.8 81v5M360.8 109v4M360.8 118v4M360.8 177v5M362.2 72v5M362.2 86v4M362.2 104v18M362.2 141v4M362.2 150v9M362.2 168v5M362.2 214v4M363.8 63v4M363.8 104v5M363.8 141v18M363.8 168v14M363.8 214v13M365.2 40v5M365.2 54v13M365.2 95v23M366.8 40v5M366.8 237v4M368.2 159v4M368.2 168v14M368.2 223v4M368.2 250v5M368.2 301v4M369.8 90v5M369.8 136v9M369.8 150v18M369.8 173v4M369.8 223v4M371.2 40v5M371.2 90v5M371.2 118v9M371.2 136v32M371.2 173v18M371.2 195v10M372.8 40v14M372.8 58v9M372.8 72v14M372.8 104v9M372.8 118v41M372.8 177v5M372.8 186v9M372.8 200v9M374.2 40v27M374.2 72v14M374.2 122v14M374.2 141v4M374.2 186v28M375.8 40v46M375.8 122v14M375.8 159v4M375.8 173v4M375.8 186v5M375.8 195v5M377.2 40v27M377.2 72v9M377.2 99v5M377.2 159v4M377.2 186v5M378.8 40v9M378.8 136v9M378.8 163v10M378.8 259v5M380.2 40v14M380.2 63v4M380.2 77v4M380.2 104v5M380.2 113v14M380.2 131v14M380.2 163v10M380.2 214v4M380.2 223v4M380.2 232v23M380.2 259v5M381.8 63v4M381.8 72v14M381.8 113v18M381.8 145v5M381.8 186v5M381.8 214v55M381.8 273v9M383.2 77v9M383.2 122v9M383.2 186v19M383.2 209v28M383.2 250v5M383.2 259v5M384.8 86v13M384.8 127v23M384.8 154v5M384.8 186v5M384.8 200v5M384.8 214v4M384.8 241v5M386.2 67v5M386.2 95v4M386.2 118v13M386.2 141v4M386.2 159v4M386.2 177v5M386.2 241v5M387.8 113v5M387.8 122v5M389.2 150v4M389.2 191v4M389.2 214v4M389.2 223v4M390.8 54v4M390.8 145v14M392.2 49v23M392.2 109v27M392.2 145v5M393.8 58v5M393.8 104v32M393.8 214v4M393.8 237v18M393.8 273v14M395.2 40v5M395.2 63v4M395.2 90v5M395.2 118v4M395.2 200v9M395.2 246v13M395.2 264v5M395.2 273v5M396.8 40v14M396.8 63v64M396.8 191v4M396.8 200v9M396.8 246v36M396.8 287v4M398.2 40v9M398.2 67v69M398.2 191v14M399.8 40v5M399.8 77v9M399.8 127v4M399.8 195v5M401.2 40v9M401.2 54v4M401.2 113v5M401.2 127v4M401.2 195v5M401.2 227v10M401.2 250v9M401.2 269v9M401.2 287v4M402.8 99v10M402.8 131v5M402.8 177v5M402.8 227v5M402.8 246v9M402.8 259v5M402.8 269v9M404.2 99v10M404.2 150v13M404.2 168v5M404.2 218v5M404.2 273v5M405.8 81v5M405.8 90v19M405.8 113v9M405.8 127v4M405.8 150v9M405.8 163v10M405.8 186v5M405.8 232v5M405.8 255v4M407.2 58v41M407.2 113v5M407.2 127v9M407.2 154v5M407.2 163v10M407.2 177v5M407.2 223v14M407.2 250v14M407.2 269v4M408.8 40v9M408.8 58v5M408.8 77v4M408.8 163v5M408.8 173v9M408.8 223v4M411.8 154v5M413.2 72v9M416.2 40v9M416.2 77v9M416.2 104v5M416.2 131v14M416.2 173v4M417.8 67v5M417.8 77v4M417.8 168v9M417.8 182v4M417.8 191v9M417.8 223v4M417.8 255v4M419.2 40v41M419.2 177v9M419.2 195v14M419.2 223v4M419.2 241v18M420.8 40v14M420.8 58v5M420.8 77v4M420.8 173v9M420.8 218v19M420.8 241v14M422.2 122v5M422.2 159v4M422.2 173v13M422.2 218v5M422.2 227v10M422.2 241v18M423.8 104v5M423.8 227v5M423.8 250v5M425.2 191v9M426.8 40v5M426.8 104v5M426.8 163v10M426.8 182v4M426.8 191v9M428.2 86v4M428.2 104v5M428.2 113v23M428.2 141v9M428.2 163v5M429.8 49v18M429.8 72v23M429.8 104v5M429.8 127v4M429.8 145v14M431.2 49v32M431.2 109v32M431.2 150v9M431.2 163v14M432.8 63v9M432.8 95v4M432.8 104v32M432.8 154v14M432.8 195v5M434.2 40v5M434.2 58v5M434.2 104v5M434.2 113v23M435.8 54v13M435.8 72v5M435.8 118v50M437.2 54v23M437.2 86v4M437.2 104v5M437.2 122v55M437.2 191v4M438.8 40v14M438.8 58v9M438.8 81v14M438.8 99v42M438.8 145v5M438.8 163v28M438.8 195v5M438.8 218v5M440.2 40v23M440.2 81v14M440.2 99v5M440.2 109v45M440.2 159v27M440.2 218v5M441.8 72v5M441.8 81v14M441.8 99v5M441.8 109v4M441.8 118v18M441.8 141v4M441.8 150v4M441.8 159v4M443.2 67v10M443.2 81v23M443.2 113v14M443.2 131v5M443.2 141v4M443.2 150v9M444.8 86v4M444.8 122v5M444.8 273v9M446.2 45v4M447.8 195v5M449.2 154v5M449.2 195v10M450.8 131v5M450.8 145v32M450.8 186v5M450.8 200v9M450.8 214v4M450.8 232v9M452.2 99v10M452.2 150v4M452.2 186v9M453.8 40v14M453.8 58v5M453.8 72v5M453.8 109v4M455.2 40v14M455.2 58v5M455.2 145v5M455.2 163v10M456.8 40v9M456.8 163v19M456.8 241v5M458.2 40v5M458.2 63v23M458.2 90v37M458.2 131v5M458.2 163v5M458.2 195v19M458.2 218v5M458.2 241v5M458.2 269v9M459.8 40v9M459.8 54v32M459.8 95v4M459.8 104v32M459.8 141v9M459.8 154v37M459.8 195v19M459.8 255v9M459.8 269v4M461.2 72v27M461.2 104v5M461.2 127v4M461.2 168v14M461.2 186v5M461.2 195v14M462.8 77v4M462.8 86v13M462.8 104v9M462.8 118v27M462.8 150v4M462.8 163v10M462.8 177v14M462.8 195v23M464.2 40v5M464.2 49v14M464.2 67v14M464.2 104v41M464.2 150v4M464.2 173v18M464.2 195v37M465.8 67v5M465.8 77v4M465.8 90v5M465.8 118v4M465.8 177v18M465.8 205v9M465.8 250v5M465.8 259v5M467.2 77v18M467.2 104v5M467.2 118v4M467.2 150v4M467.2 177v5M467.2 186v14M467.2 209v5M468.8 86v18M468.8 150v9M468.8 195v5M468.8 209v5M468.8 218v5M470.2 45v4M470.2 58v5M470.2 81v23M470.2 173v9M470.2 209v5M470.2 246v4M473.2 45v4M474.8 49v9M474.8 77v4M474.8 131v14M474.8 200v5M474.8 250v9M476.2 77v9M476.2 113v5M476.2 200v5M477.8 63v23M477.8 90v5M477.8 127v4M477.8 150v9M477.8 182v4M477.8 227v10M479.2 72v5M479.2 86v4M479.2 104v9M479.2 127v14M479.2 150v13M479.2 177v23M479.2 214v9M479.2 227v23M480.8 58v5M480.8 67v10M480.8 81v5M480.8 104v5M480.8 173v18M482.2 45v4M482.2 58v19M482.2 81v5M482.2 173v9M482.2 186v5M483.8 54v4M483.8 81v5M483.8 99v19M483.8 122v5M483.8 218v5M483.8 232v9M485.2 54v13M485.2 81v5M485.2 90v5M485.2 99v19M485.2 122v5M485.2 131v5M486.8 109v9M486.8 159v4M486.8 205v4M488.2 81v5M488.2 109v9M488.2 131v5M488.2 150v4M488.2 159v4M488.2 191v9M488.2 205v13M488.2 237v4M488.2 264v9M489.8 195v5M489.8 205v13M491.2 173v4M492.8 122v14M492.8 173v18M492.8 205v22M492.8 269v4M494.2 45v4M494.2 72v9M494.2 95v9M494.2 118v13M494.2 177v5M494.2 186v9M494.2 205v4M494.2 227v5M494.2 259v14M495.8 40v9M495.8 54v27M495.8 99v10M495.8 177v5M495.8 186v5M495.8 205v4M497.2 40v5M497.2 58v28M497.2 99v10M497.2 118v4M497.2 168v23M497.2 195v19M498.8 99v28M498.8 168v9M498.8 182v4M498.8 195v5M498.8 205v4M501.8 40v5M501.8 86v27M501.8 163v10M501.8 186v5M501.8 223v4M503.2 40v5M503.2 90v14M503.2 109v4M503.2 163v14M503.2 218v5M504.8 40v5M504.8 95v4M504.8 109v9M504.8 145v9M504.8 168v9M504.8 191v4M504.8 223v4M504.8 259v5M504.8 273v5M506.2 40v5M506.2 145v5M507.8 63v4M507.8 81v5M507.8 141v4M509.2 40v5M509.2 54v4M509.2 63v9M509.2 81v9M509.2 109v41M509.2 182v4M509.2 191v9M510.8 49v9M510.8 63v14M510.8 81v9M510.8 109v36M510.8 150v4M510.8 186v5M512.2 49v23M512.2 81v14M512.2 109v41M512.2 182v9M512.2 218v5M512.2 237v4M513.8 54v4M513.8 86v9M513.8 99v5M513.8 122v23M513.8 168v5M513.8 177v14M513.8 218v9M515.2 86v9M515.2 141v4M515.2 163v5M515.2 182v9M515.2 205v9M515.2 264v9M516.8 72v5M516.8 99v19M516.8 122v5M516.8 131v14M518.2 104v9M518.2 122v9M518.2 136v5M518.2 150v4M518.2 237v4M518.2 255v4M519.8 109v41M519.8 232v14M521.2 81v5M521.2 136v5M521.2 168v5M521.2 177v5M524.2 127v14M525.8 40v18M525.8 63v4M525.8 77v9M525.8 99v46M525.8 159v4M525.8 168v5M525.8 259v5M527.2 63v32M527.2 109v41M527.2 154v23M527.2 200v41M527.2 259v5M528.8 45v9M528.8 58v19M528.8 81v9M528.8 113v37M528.8 159v18M528.8 182v13M528.8 200v5M528.8 209v18M530.2 40v32M530.2 95v9M530.2 109v32M530.2 150v4M530.2 163v32M531.8 40v14M531.8 58v14M531.8 95v18M531.8 118v9M531.8 150v4M531.8 159v36M533.2 63v14M533.2 99v5M533.2 118v13M533.2 141v4M533.2 150v9M533.2 182v4M533.2 191v4M534.8 40v9M534.8 54v27M534.8 86v27M534.8 118v4M534.8 127v4M534.8 136v9M534.8 182v23M536.2 40v41M536.2 90v23M536.2 131v5M536.2 145v5M536.2 173v4M536.2 186v23M536.2 237v13M537.8 40v5M537.8 63v32M537.8 118v23M537.8 145v32M537.8 195v19M537.8 218v5M537.8 241v5M537.8 278v4M539.2 72v14M539.2 154v23M540.8 159v4M540.8 168v5M540.8 205v4M542.2 40v5M542.2 58v32M542.2 99v28M542.2 191v9M542.2 227v5M542.2 241v5M543.8 40v55M543.8 99v14M543.8 154v9M543.8 177v9M543.8 227v5M545.2 45v32M545.2 86v27M545.2 168v23M545.2 264v5M546.8 40v5M546.8 49v5M546.8 58v9M546.8 81v5M546.8 99v5M546.8 141v4M546.8 163v5M546.8 264v5M548.2 81v5M548.2 131v19M548.2 159v14M548.2 177v9M549.8 81v5M549.8 122v5M549.8 159v27M549.8 191v4M551.2 141v9M551.2 177v5M551.2 186v9M552.8 95v4M552.8 136v18M552.8 173v9M554.2 40v5M554.2 49v9M554.2 67v5M554.2 90v9M554.2 118v9M554.2 141v9M554.2 173v9M554.2 186v5M554.2 205v4M554.2 214v4M555.8 40v9M555.8 54v4M555.8 67v5M555.8 86v64M555.8 205v18M555.8 255v4M557.2 40v9M557.2 86v55M558.8 40v9M558.8 113v5M560.2 40v9M560.2 67v10M560.2 86v4M560.2 99v10M560.2 113v5M560.2 159v4M560.2 168v14M560.2 186v9M561.8 40v9M561.8 67v10M561.8 81v9M561.8 104v5M561.8 113v5M561.8 163v32M561.8 209v5M563.2 40v46M563.2 150v9M563.2 168v5M563.2 182v13M563.2 205v9M563.2 241v5M563.2 250v5M564.8 45v13M564.8 63v18M564.8 150v4M564.8 159v4M564.8 168v9M564.8 186v9M564.8 214v9M564.8 232v14M564.8 250v5M566.2 154v28M566.2 250v5M567.8 58v9M567.8 77v4M567.8 127v4M567.8 154v28M567.8 195v10M569.2 40v9M569.2 54v13M569.2 145v5M569.2 154v37M570.8 40v9M570.8 54v9M570.8 77v4M570.8 90v9M570.8 104v14M570.8 131v19M570.8 154v9M570.8 205v4M570.8 214v4M570.8 246v9M570.8 259v5M570.8 310v4M572.2 40v18M572.2 77v9M572.2 90v19M572.2 113v5M572.2 131v23M572.2 168v5M572.2 200v27M572.2 232v23M573.8 45v13M573.8 81v23M573.8 109v9M573.8 141v13M573.8 205v18M573.8 232v18M575.2 45v9M575.2 95v9M575.2 109v18M575.2 145v14M575.2 191v23M576.8 45v9M576.8 90v5M576.8 99v10M576.8 118v4M576.8 191v32M578.2 154v5M578.2 191v4M578.2 214v4M579.8 77v4M579.8 113v5M579.8 177v5M579.8 241v5M581.2 40v9M581.2 77v4M581.2 95v27M581.2 150v9M581.2 163v37M581.2 209v9M581.2 223v4M581.2 241v14M582.8 40v9M582.8 77v4M582.8 86v18M582.8 209v9M582.8 223v4M584.2 40v9M584.2 95v18M584.2 127v4M584.2 209v9M584.2 223v4M584.2 232v5M585.8 40v18M585.8 104v9M585.8 127v14M585.8 145v14M585.8 205v4M587.2 40v9M587.2 113v9M587.2 127v9M587.2 150v4M587.2 173v4M587.2 205v4M588.8 40v5M588.8 58v9M588.8 127v4M588.8 163v5M588.8 301v4M590.2 81v5M590.2 99v5M590.2 141v4M590.2 159v9M590.2 177v9M590.2 223v4M590.2 232v9M591.8 58v5M591.8 72v5M591.8 81v5M591.8 131v5M591.8 182v9M591.8 237v9M593.2 99v5M593.2 218v5M594.8 72v5M594.8 95v14M596.2 72v5M596.2 209v5M597.8 40v5M597.8 58v19M597.8 81v5M597.8 209v9M599.2 45v4M599.2 58v14M599.2 77v13M599.2 104v5M599.2 163v5M599.2 182v4M599.2 205v9M600.8 45v4M600.8 58v5M600.8 86v4M600.8 163v5M600.8 182v4M602.2 45v32M602.2 86v9M602.2 99v14M602.2 136v5M602.2 177v28M603.8 54v4M603.8 67v32M603.8 109v4M603.8 127v32M603.8 163v19M603.8 191v4M605.2 40v37M605.2 81v37M605.2 122v55M605.2 186v9M605.2 223v4M605.2 250v5M606.8 40v5M606.8 49v5M606.8 58v5M606.8 67v5M606.8 104v5M606.8 113v5M606.8 127v4M606.8 136v9M606.8 154v14M606.8 186v9M606.8 200v9M606.8 250v5M608.2 200v9M608.2 237v4M609.8 205v4M611.2 40v27M611.2 95v4M611.2 109v4M611.2 154v5M611.2 177v9M611.2 195v32M611.2 241v9M612.8 45v4M612.8 58v19M612.8 81v5M612.8 90v9M612.8 154v5M612.8 163v10M612.8 182v4M612.8 191v4M612.8 223v32M614.2 163v5M614.2 191v4M615.8 122v5M615.8 232v9M617.2 122v5M617.2 177v5M617.2 186v9M617.2 200v5M617.2 232v5M617.2 241v5M618.8 40v14M618.8 81v9M618.8 95v4M618.8 104v9M618.8 122v19M618.8 159v14M618.8 177v5M618.8 186v23M618.8 218v9M618.8 237v22M620.2 40v5M620.2 81v9M620.2 99v19M620.2 122v19M620.2 154v19M620.2 182v27M620.2 218v5M621.8 67v5M621.8 81v37M621.8 131v5M621.8 163v5M621.8 182v23M623.2 40v5M623.2 95v18M623.2 136v5M624.8 63v4M624.8 99v10M624.8 131v10M624.8 191v4M624.8 209v5M626.2 63v18M626.2 86v4M626.2 136v5M627.8 54v4M627.8 63v14M627.8 95v27M627.8 136v18M627.8 223v9M629.2 58v51M629.2 113v41M629.2 159v9M629.2 173v9M629.2 186v9M629.2 223v27M630.8 40v37M630.8 90v9M630.8 113v23M630.8 141v59M630.8 227v23M632.2 49v23M632.2 113v28M632.2 145v14M632.2 163v42M632.2 223v14M632.2 246v4M633.8 49v9M633.8 86v9M633.8 118v4M633.8 127v4M633.8 136v14M633.8 163v32M633.8 232v5M635.2 90v5M635.2 127v32M635.2 163v10M635.2 177v5M635.2 186v9M636.8 49v14M636.8 127v27M636.8 191v4M638.2 45v4M638.2 173v4M638.2 195v5M639.8 40v14M639.8 77v4M639.8 86v13M639.8 136v5M639.8 154v5M639.8 173v4M639.8 191v23M639.8 232v9M641.2 45v9M641.2 77v18M641.2 99v5M642.8 45v27M642.8 77v4M644.2 40v14M644.2 58v5M644.2 72v5M644.2 145v9M645.8 40v9M645.8 154v5M645.8 259v5M647.2 45v4M647.2 81v5M647.2 154v5M647.2 168v9M647.2 182v9M647.2 195v10M647.2 214v9M647.2 259v5M648.8 54v13M648.8 77v9M648.8 90v23M648.8 150v59M648.8 214v9M648.8 259v5M650.2 58v9M650.2 77v22M650.2 109v4M650.2 122v5M650.2 154v9M650.2 173v13M650.2 191v9M650.2 241v5M651.8 86v18M651.8 113v14M651.8 177v9M651.8 227v5M651.8 237v9M653.2 54v9M653.2 95v9M653.2 113v9M653.2 182v4M653.2 209v5M653.2 232v9M653.2 250v5M654.8 45v13M654.8 63v18M654.8 131v5M654.8 182v4M654.8 209v5M656.2 49v5M656.2 63v4M656.2 163v5M657.8 63v14M657.8 86v4M657.8 131v5M657.8 168v5M657.8 177v14M657.8 195v14M659.2 67v23M659.2 99v14M660.8 40v18M660.8 67v5M660.8 77v4M660.8 90v23M660.8 122v5M660.8 168v5M660.8 218v5M662.2 40v14M662.2 118v9M663.8 40v9M663.8 136v5M665.2 40v5M665.2 127v14M665.2 173v4M666.8 63v4M666.8 109v27M666.8 154v5M666.8 168v23M666.8 205v4M668.2 45v4M668.2 63v4M668.2 113v18M669.8 40v9M669.8 54v4M669.8 81v9M669.8 99v5M669.8 109v4M669.8 127v4M669.8 200v14M671.2 40v37M671.2 81v14M671.2 99v14M671.2 163v14M671.2 182v9M671.2 200v9M671.2 214v9M672.8 58v37M672.8 99v5M672.8 145v9M672.8 159v4M674.2 63v4M674.2 90v5M675.8 63v4M675.8 195v19M677.2 63v9M677.2 86v18M677.2 109v13M677.2 154v5M677.2 168v18M677.2 195v10M677.2 209v5M678.8 45v96M678.8 154v5M678.8 168v18M678.8 195v28M678.8 232v5M678.8 241v5M678.8 250v5M678.8 269v4M680.2 49v14M680.2 77v4M680.2 109v18M680.2 195v23M680.2 237v4"/>
<path stroke="#0000d1" d="M162.8 45v4M162.8 63v14M162.8 113v5M162.8 182v9M162.8 200v5M162.8 237v45M162.8 287v4M162.8 301v13M164.2 40v5M164.2 49v5M164.2 136v14M164.2 191v14M164.2 218v9M164.2 232v5M164.2 241v18M164.2 273v18M164.2 301v4M165.8 40v5M165.8 49v5M165.8 136v5M165.8 195v10M165.8 218v5M165.8 237v4M165.8 246v13M165.8 287v4M168.8 67v5M168.8 118v4M168.8 159v4M168.8 191v9M168.8 205v4M168.8 250v9M168.8 264v5M168.8 287v9M170.2 40v9M170.2 54v18M170.2 95v4M170.2 118v13M170.2 186v14M170.2 205v9M170.2 227v5M170.2 237v22M170.2 264v5M170.2 291v5M171.8 40v9M171.8 63v4M171.8 95v23M171.8 122v5M171.8 145v9M171.8 168v5M171.8 191v36M171.8 232v14M171.8 250v5M173.2 63v4M173.2 77v9M173.2 95v4M173.2 104v5M173.2 218v5M173.2 259v5M173.2 269v13M173.2 296v5M173.2 305v9M173.2 319v4M173.2 333v4M174.8 77v4M174.8 86v4M174.8 118v4M174.8 177v14M174.8 241v5M174.8 250v5M174.8 259v14M174.8 278v9M174.8 296v14M174.8 314v9M176.2 40v46M176.2 99v10M176.2 113v5M176.2 127v4M176.2 159v4M176.2 195v10M176.2 214v23M176.2 246v4M176.2 264v5M177.8 273v46M179.2 314v14M180.8 301v4M180.8 310v13M182.2 241v32M183.8 241v14M183.8 259v5M183.8 269v4M183.8 278v4M183.8 314v14M183.8 333v4M185.2 209v5M185.2 250v5M185.2 259v10M185.2 319v4M185.2 328v9M188.2 40v9M188.2 122v14M188.2 141v4M188.2 154v14M188.2 218v9M188.2 232v14M188.2 250v14M188.2 278v13M188.2 296v5M188.2 319v4M189.8 95v14M189.8 118v4M189.8 136v5M189.8 154v5M189.8 191v4M189.8 246v9M189.8 264v14M189.8 282v5M191.2 136v5M191.2 168v5M191.2 237v9M191.2 282v5M192.8 77v9M192.8 136v5M192.8 159v4M192.8 168v5M192.8 218v14M192.8 237v4M192.8 246v4M192.8 255v27M192.8 287v9M194.2 54v4M194.2 77v4M194.2 250v5M194.2 259v5M194.2 269v4M194.2 291v19M195.8 269v4M195.8 287v27M197.2 223v4M197.2 310v4M197.2 319v9M198.8 159v4M198.8 227v5M198.8 305v5M198.8 314v9M198.8 328v5M200.2 40v9M200.2 154v9M200.2 173v4M200.2 205v13M200.2 227v5M200.2 237v9M200.2 278v36M201.8 154v5M201.8 173v4M201.8 227v5M201.8 246v4M201.8 264v9M201.8 287v4M201.8 296v5M201.8 305v9M203.2 237v4M203.2 259v14M203.2 296v9M203.2 314v5M204.8 49v9M204.8 63v9M204.8 81v23M204.8 109v13M204.8 145v9M204.8 163v5M204.8 173v32M204.8 214v27M204.8 250v5M204.8 264v5M204.8 273v28M204.8 305v9M206.2 296v5M206.2 319v14M207.8 54v4M207.8 95v4M207.8 104v5M207.8 150v4M207.8 168v5M207.8 269v9M207.8 282v19M207.8 305v5M207.8 314v5M209.2 54v4M209.2 63v9M209.2 77v13M209.2 99v5M209.2 113v9M209.2 150v4M209.2 232v18M209.2 264v5M209.2 296v5M210.8 58v5M210.8 72v5M210.8 150v13M210.8 246v4M210.8 269v13M210.8 291v5M212.2 40v5M212.2 141v4M212.2 241v14M212.2 259v10M212.2 273v5M212.2 291v10M212.2 314v5M213.8 58v5M213.8 241v5M213.8 255v9M213.8 273v5M213.8 305v14M215.2 241v5M215.2 278v4M215.2 305v14M216.8 218v9M216.8 241v5M216.8 250v9M216.8 291v14M216.8 310v4M218.2 90v9M218.2 218v5M218.2 246v32M218.2 291v5M218.2 301v4M219.8 145v5M219.8 159v4M219.8 168v5M219.8 259v5M219.8 269v9M219.8 291v5M221.2 40v5M221.2 49v5M221.2 58v9M221.2 72v9M221.2 99v5M221.2 109v4M221.2 191v4M221.2 200v14M221.2 218v19M221.2 246v9M222.8 269v9M222.8 305v5M222.8 319v4M224.2 77v4M224.2 237v9M224.2 282v9M224.2 301v4M224.2 310v4M225.8 40v5M225.8 72v9M225.8 122v5M225.8 218v9M225.8 237v9M225.8 269v4M225.8 282v9M225.8 305v9M227.2 95v18M227.2 182v13M227.2 218v14M227.2 246v4M227.2 255v4M227.2 291v5M227.2 305v9M228.8 77v4M228.8 99v10M228.8 182v4M228.8 223v4M228.8 232v9M228.8 264v18M230.2 141v4M230.2 177v5M230.2 223v14M230.2 241v18M230.2 273v9M230.2 287v14M230.2 305v23M231.8 45v4M231.8 63v4M231.8 81v5M231.8 95v4M231.8 136v9M231.8 278v4M231.8 287v9M233.2 77v9M233.2 95v4M233.2 104v5M233.2 209v5M233.2 269v4M233.2 296v5M234.8 63v4M234.8 264v9M234.8 301v18M234.8 328v5M236.2 49v14M236.2 67v10M236.2 86v23M236.2 113v5M236.2 122v14M236.2 141v27M236.2 182v4M236.2 191v9M236.2 205v18M236.2 227v19M236.2 250v5M236.2 259v5M236.2 278v18M237.8 86v4M237.8 150v13M237.8 168v5M237.8 177v14M237.8 218v9M237.8 246v4M237.8 255v4M237.8 301v4M237.8 310v9M239.2 154v5M239.2 200v5M239.2 227v10M239.2 246v4M239.2 259v10M239.2 287v4M239.2 296v5M240.8 104v5M240.8 118v4M240.8 131v5M240.8 145v9M240.8 163v5M240.8 214v4M240.8 237v4M240.8 246v9M240.8 269v4M240.8 278v9M240.8 291v10M242.2 67v28M242.2 104v5M242.2 127v9M242.2 214v9M242.2 246v4M242.2 264v18M242.2 287v9M242.2 301v4M243.8 232v5M243.8 241v5M243.8 269v9M243.8 296v5M243.8 305v5M245.2 67v5M245.2 131v5M245.2 154v5M245.2 195v5M245.2 232v5M245.2 241v5M245.2 250v5M245.2 269v9M245.2 291v5M245.2 310v4M246.8 49v5M246.8 99v5M246.8 168v14M246.8 186v5M246.8 227v19M246.8 255v4M246.8 264v5M246.8 273v14M246.8 310v4M248.2 177v5M248.2 200v5M248.2 223v50M249.8 45v22M249.8 104v5M249.8 118v32M249.8 182v13M249.8 200v5M249.8 209v5M249.8 223v4M249.8 232v41M251.2 40v18M251.2 118v9M251.2 131v37M251.2 173v18M251.2 246v4M251.2 264v14M251.2 282v5M252.8 40v5M252.8 67v5M252.8 159v4M252.8 186v5M252.8 287v14M252.8 305v5M252.8 314v5M254.2 72v5M254.2 301v9M254.2 319v9M255.8 127v4M255.8 232v5M255.8 301v18M257.2 122v23M257.2 232v9M257.2 246v4M257.2 296v5M258.8 77v4M258.8 127v4M258.8 223v27M258.8 291v10M258.8 305v5M260.2 86v4M260.2 150v13M260.2 182v23M260.2 214v9M260.2 232v14M260.2 255v9M260.2 269v9M260.2 282v9M261.8 49v14M261.8 72v5M261.8 154v5M261.8 186v14M261.8 209v5M261.8 218v5M261.8 227v14M261.8 255v9M261.8 269v13M261.8 291v10M263.2 54v4M263.2 63v4M263.2 72v5M263.2 154v5M263.2 182v4M263.2 191v4M263.2 227v5M263.2 241v5M263.2 259v5M263.2 269v13M263.2 287v14M263.2 305v5M264.8 127v4M264.8 282v5M264.8 291v5M264.8 301v4M264.8 310v4M266.2 58v5M266.2 72v9M266.2 118v4M266.2 186v5M266.2 227v5M266.2 237v4M266.2 246v4M266.2 282v9M266.2 296v5M266.2 305v5M267.8 72v9M267.8 86v9M267.8 99v14M267.8 118v4M267.8 237v4M267.8 282v5M267.8 301v4M269.2 104v18M269.2 259v14M269.2 301v4M269.2 314v5M270.8 122v5M270.8 264v14M270.8 282v5M270.8 301v4M272.2 40v5M272.2 109v4M272.2 122v5M272.2 131v5M272.2 145v5M272.2 168v5M272.2 205v4M272.2 264v5M272.2 282v5M272.2 301v4M273.8 264v5M273.8 291v5M273.8 301v9M275.2 63v4M275.2 177v5M275.2 237v9M275.2 259v10M275.2 273v5M275.2 282v5M276.8 99v5M276.8 227v5M276.8 246v9M276.8 259v5M276.8 291v5M276.8 301v4M276.8 314v9M278.2 54v4M278.2 150v9M278.2 214v4M278.2 227v5M278.2 237v4M278.2 246v13M278.2 291v5M278.2 310v4M279.8 40v5M279.8 122v5M279.8 195v5M279.8 209v9M279.8 269v18M279.8 291v14M279.8 314v5M281.2 67v5M281.2 209v5M281.2 218v5M281.2 250v9M281.2 269v4M281.2 278v9M281.2 291v10M281.2 305v5M282.8 77v4M282.8 131v5M282.8 141v9M282.8 154v14M282.8 173v4M282.8 182v13M282.8 255v4M282.8 269v27M282.8 305v5M284.2 99v19M284.2 150v13M284.2 168v5M284.2 177v14M284.2 246v4M284.2 264v14M284.2 282v14M284.2 301v13M285.8 177v5M285.8 237v9M285.8 273v14M285.8 310v4M287.2 173v4M287.2 182v13M287.2 209v5M287.2 232v9M287.2 287v4M287.2 296v18M288.8 49v5M288.8 127v9M288.8 191v4M288.8 218v19M288.8 246v13M288.8 269v4M288.8 278v13M288.8 296v5M288.8 305v9M290.2 40v5M290.2 67v5M290.2 131v5M290.2 214v4M290.2 227v5M290.2 246v13M290.2 264v9M290.2 278v27M290.2 310v4M291.8 49v5M291.8 232v32M291.8 278v9M291.8 291v10M291.8 305v5M293.2 95v4M293.2 159v14M293.2 177v5M293.2 186v9M293.2 223v23M293.2 250v28M294.8 67v5M294.8 81v5M294.8 163v5M294.8 191v4M294.8 250v9M296.2 63v4M296.2 72v5M296.2 95v4M296.2 136v5M296.2 150v9M296.2 163v5M296.2 200v5M296.2 209v28M296.2 255v4M296.2 269v18M297.8 58v5M297.8 67v14M297.8 90v5M297.8 99v5M297.8 163v5M297.8 200v5M297.8 209v18M297.8 287v14M299.2 250v5M299.2 259v5M299.2 291v5M300.8 63v4M300.8 72v5M300.8 81v9M300.8 145v5M300.8 182v4M300.8 218v5M300.8 250v5M300.8 282v9M302.2 49v9M302.2 63v4M302.2 77v9M302.2 141v13M302.2 205v4M302.2 269v9M303.8 63v4M303.8 90v5M303.8 113v5M303.8 141v27M303.8 223v4M303.8 232v5M303.8 241v9M303.8 264v18M305.2 90v9M305.2 141v4M305.2 154v5M305.2 163v5M305.2 173v9M305.2 186v5M305.2 232v5M305.2 250v5M305.2 273v5M306.8 49v5M306.8 141v4M306.8 154v9M306.8 168v9M306.8 182v9M306.8 250v5M306.8 287v9M308.2 49v5M308.2 150v4M308.2 159v4M308.2 168v5M308.2 227v5M308.2 237v4M308.2 246v13M308.2 282v9M309.8 45v9M309.8 63v4M309.8 72v9M309.8 118v4M309.8 127v4M309.8 150v4M309.8 159v4M309.8 218v9M309.8 250v5M309.8 259v23M311.2 45v13M311.2 63v9M311.2 77v9M311.2 127v4M311.2 182v9M311.2 205v4M311.2 214v4M311.2 237v4M311.2 250v9M311.2 273v5M312.8 40v32M312.8 186v5M312.8 200v9M312.8 223v14M312.8 241v18M312.8 278v4M314.2 54v4M314.2 154v5M314.2 237v4M314.2 282v5M314.2 296v5M315.8 163v5M315.8 223v9M315.8 269v9M315.8 282v9M315.8 305v9M317.2 54v9M317.2 81v9M317.2 131v5M317.2 168v14M317.2 273v14M317.2 291v10M317.2 305v5M318.8 58v5M318.8 145v9M318.8 273v14M318.8 291v14M320.2 54v13M320.2 81v5M320.2 141v9M320.2 159v14M320.2 227v10M320.2 241v5M320.2 291v10M320.2 346v5M321.8 104v14M321.8 122v5M321.8 168v5M321.8 227v5M321.8 237v4M321.8 246v4M321.8 269v9M321.8 287v4M323.2 241v5M323.2 255v4M323.2 301v4M323.2 314v5M324.8 232v5M324.8 282v23M324.8 310v4M326.2 72v5M326.2 168v5M326.2 227v10M326.2 241v5M326.2 282v14M326.2 301v4M327.8 58v14M327.8 81v5M327.8 131v5M327.8 168v5M327.8 186v5M327.8 278v9M327.8 291v10M329.2 131v5M329.2 141v4M329.2 250v9M329.2 273v9M329.2 291v10M329.2 305v5M330.8 81v5M330.8 200v5M330.8 227v5M330.8 237v9M330.8 269v9M330.8 296v5M332.2 54v9M332.2 81v5M332.2 90v32M332.2 150v13M332.2 182v4M332.2 200v9M332.2 214v9M332.2 232v14M332.2 259v19M332.2 282v5M333.8 40v5M333.8 77v9M333.8 90v19M333.8 118v4M333.8 159v27M333.8 191v4M333.8 205v13M333.8 227v5M333.8 259v5M333.8 287v4M335.2 45v13M335.2 77v9M335.2 191v4M335.2 200v5M335.2 223v9M335.2 296v18M336.8 118v4M336.8 195v5M336.8 214v4M336.8 227v5M336.8 305v5M338.2 168v5M338.2 205v4M338.2 227v5M338.2 255v18M338.2 278v4M338.2 291v5M338.2 305v5M339.8 81v5M339.8 104v5M339.8 168v5M339.8 218v23M339.8 259v10M339.8 278v4M339.8 291v5M341.2 40v18M341.2 81v5M341.2 104v5M341.2 150v4M341.2 159v4M341.2 214v32M341.2 250v19M341.2 273v5M341.2 282v5M342.8 45v4M342.8 72v9M342.8 150v9M342.8 241v5M342.8 250v5M342.8 273v14M342.8 291v5M344.2 81v9M344.2 186v5M344.2 200v5M344.2 269v22M345.8 287v4M347.2 95v4M347.2 168v5M347.2 177v5M347.2 237v4M347.2 250v5M347.2 287v4M348.8 77v4M348.8 95v9M348.8 109v9M348.8 168v5M348.8 182v4M348.8 191v4M348.8 237v22M348.8 269v9M348.8 282v5M350.2 40v14M350.2 58v9M350.2 72v27M350.2 109v4M350.2 159v4M350.2 173v9M350.2 186v9M350.2 223v9M350.2 246v23M351.8 214v4M351.8 227v19M351.8 250v9M351.8 269v4M351.8 287v4M353.2 200v5M353.2 214v4M353.2 232v5M353.2 264v9M353.2 278v4M353.2 287v4M354.8 99v5M354.8 191v4M354.8 200v5M354.8 259v5M354.8 269v4M354.8 282v5M354.8 291v5M356.2 109v9M356.2 205v4M356.2 227v10M356.2 259v37M357.8 122v5M357.8 301v4M359.2 77v4M359.2 122v5M359.2 131v5M359.2 159v4M359.2 200v5M359.2 259v5M359.2 269v4M359.2 282v5M359.2 291v5M359.2 301v9M359.2 342v4M360.8 45v4M360.8 77v4M360.8 95v4M360.8 127v9M360.8 159v9M360.8 173v4M360.8 186v19M360.8 223v4M360.8 241v5M360.8 255v4M360.8 269v4M360.8 282v5M360.8 291v10M362.2 95v4M362.2 127v4M362.2 205v4M362.2 259v14M362.2 282v14M362.2 342v4M363.8 49v5M363.8 77v9M363.8 90v9M363.8 127v4M363.8 250v19M363.8 273v5M365.2 67v10M365.2 81v5M365.2 127v14M365.2 163v5M365.2 173v18M365.2 214v4M365.2 223v9M365.2 246v4M365.2 342v4M366.8 63v9M366.8 77v18M366.8 122v37M366.8 163v28M366.8 209v14M366.8 246v4M368.2 63v4M368.2 81v5M368.2 118v4M368.2 127v4M368.2 195v14M368.2 214v4M368.2 232v5M368.2 264v5M368.2 278v4M369.8 77v4M369.8 99v5M369.8 205v9M369.8 255v14M369.8 273v23M371.2 214v4M371.2 241v5M371.2 269v4M371.2 278v13M371.2 296v5M372.8 95v4M372.8 246v9M372.8 273v9M372.8 291v5M374.2 282v9M374.2 296v5M375.8 113v5M375.8 136v5M375.8 214v13M375.8 259v10M375.8 291v5M377.2 113v5M377.2 136v5M377.2 150v4M377.2 205v13M377.2 223v9M377.2 237v4M377.2 264v5M377.2 278v4M378.8 90v9M378.8 118v4M378.8 127v4M378.8 182v4M378.8 205v4M378.8 218v5M378.8 227v10M378.8 273v5M380.2 186v5M380.2 205v4M380.2 282v14M381.8 86v9M381.8 159v4M381.8 287v4M383.2 40v5M383.2 58v14M383.2 95v9M383.2 269v4M383.2 278v9M384.8 45v18M384.8 173v4M384.8 209v5M384.8 246v18M384.8 273v5M386.2 49v5M386.2 58v5M386.2 77v4M386.2 246v27M386.2 282v9M387.8 54v4M387.8 77v13M387.8 104v5M387.8 173v4M387.8 182v4M387.8 232v5M387.8 246v13M387.8 273v5M387.8 287v4M389.2 40v9M389.2 58v5M389.2 67v5M389.2 86v4M389.2 104v5M389.2 118v4M389.2 131v5M389.2 177v9M389.2 209v5M389.2 232v5M389.2 255v4M389.2 282v5M390.8 86v9M390.8 104v5M390.8 118v4M390.8 177v9M390.8 200v14M390.8 232v27M390.8 273v5M392.2 177v5M392.2 218v9M392.2 264v9M392.2 282v5M392.2 296v5M393.8 154v9M393.8 177v5M393.8 186v14M393.8 223v9M393.8 291v5M395.2 54v4M395.2 141v9M395.2 154v9M395.2 177v9M395.2 195v5M395.2 209v5M395.2 223v4M396.8 150v9M396.8 296v5M398.2 150v4M398.2 177v9M398.2 273v14M398.2 291v10M399.8 109v4M399.8 141v9M399.8 173v4M399.8 182v4M399.8 223v4M399.8 241v5M399.8 250v19M401.2 72v5M401.2 141v4M401.2 163v5M401.2 173v4M401.2 241v5M401.2 291v10M402.8 72v5M402.8 159v4M402.8 237v9M402.8 291v10M404.2 40v9M404.2 77v4M404.2 255v4M404.2 264v5M404.2 282v5M404.2 328v5M405.8 40v5M405.8 49v9M405.8 67v5M405.8 264v5M405.8 282v5M405.8 291v5M407.2 104v5M407.2 209v5M408.8 49v9M408.8 95v14M408.8 118v4M408.8 186v28M408.8 241v14M410.2 54v4M410.2 67v5M410.2 90v19M410.2 113v5M410.2 122v9M410.2 154v9M410.2 205v22M411.8 99v5M411.8 118v4M411.8 127v4M411.8 141v4M411.8 177v14M411.8 223v4M411.8 241v5M411.8 250v14M411.8 269v4M413.2 49v14M413.2 86v4M413.2 109v4M413.2 163v5M413.2 173v9M413.2 186v23M413.2 214v9M413.2 232v14M413.2 250v5M413.2 269v9M414.8 49v9M414.8 67v5M414.8 113v18M414.8 145v5M414.8 159v4M414.8 168v5M414.8 191v4M414.8 200v14M416.2 58v14M416.2 118v4M416.2 182v4M416.2 223v4M416.2 250v5M417.8 95v4M417.8 122v5M417.8 145v9M417.8 232v5M417.8 241v5M417.8 259v5M419.2 104v5M419.2 122v5M419.2 145v5M419.2 154v5M419.2 264v5M419.2 273v5M419.2 282v5M420.8 81v14M420.8 113v9M420.8 127v18M420.8 154v5M420.8 168v5M420.8 259v10M422.2 54v18M422.2 81v14M422.2 136v18M422.2 195v10M422.2 264v5M423.8 45v13M423.8 67v10M423.8 118v4M423.8 136v5M423.8 145v9M423.8 168v5M423.8 177v5M423.8 205v9M423.8 269v18M425.2 40v14M425.2 58v19M425.2 95v9M425.2 118v4M425.2 136v23M425.2 173v9M425.2 209v9M425.2 227v5M425.2 237v9M425.2 250v5M425.2 259v5M426.8 49v9M426.8 67v5M426.8 99v5M426.8 150v9M426.8 209v14M426.8 264v14M426.8 282v14M426.8 342v9M428.2 49v5M428.2 95v4M428.2 177v5M428.2 186v5M428.2 214v4M428.2 227v5M428.2 241v32M428.2 282v5M429.8 177v14M429.8 223v9M429.8 241v5M429.8 250v28M429.8 282v5M429.8 291v5M431.2 99v5M431.2 269v13M431.2 319v4M431.2 333v9M432.8 141v4M432.8 246v9M432.8 259v5M432.8 269v18M434.2 90v5M434.2 182v9M434.2 205v9M434.2 218v5M434.2 227v10M434.2 250v14M435.8 81v5M435.8 95v4M435.8 173v4M435.8 205v9M435.8 227v5M435.8 241v18M435.8 264v9M435.8 282v5M437.2 205v4M437.2 255v18M437.2 278v9M438.8 205v4M438.8 227v5M438.8 250v28M438.8 282v5M438.8 328v5M438.8 346v5M440.2 232v9M440.2 269v4M440.2 282v5M440.2 323v5M440.2 333v4M440.2 342v4M440.2 351v4M441.8 182v23M441.8 209v9M441.8 237v4M441.8 246v27M441.8 333v4M443.2 186v9M443.2 214v4M443.2 241v5M443.2 282v5M443.2 342v4M444.8 45v4M444.8 54v4M444.8 63v4M444.8 72v5M444.8 95v14M444.8 113v5M444.8 159v4M444.8 168v5M444.8 177v14M444.8 195v10M444.8 241v5M446.2 54v18M446.2 113v5M446.2 154v19M446.2 182v13M446.2 218v5M446.2 227v5M446.2 259v5M447.8 40v5M447.8 54v4M447.8 63v14M447.8 81v14M447.8 113v14M447.8 131v5M447.8 145v5M447.8 168v5M447.8 182v13M447.8 214v18M447.8 259v10M447.8 273v9M447.8 287v4M449.2 40v9M449.2 54v41M449.2 104v14M449.2 127v4M449.2 186v5M449.2 218v14M449.2 241v18M449.2 269v4M450.8 58v5M450.8 67v19M450.8 90v5M450.8 241v5M450.8 269v4M450.8 310v4M450.8 319v18M452.2 54v9M452.2 86v9M452.2 141v4M452.2 241v14M452.2 269v4M452.2 278v4M452.2 314v5M452.2 328v9M453.8 113v5M453.8 182v4M453.8 191v14M453.8 218v14M453.8 241v9M455.2 99v5M455.2 109v27M455.2 205v4M455.2 250v14M455.2 282v5M456.8 109v4M456.8 127v4M456.8 150v4M456.8 250v9M456.8 282v5M456.8 310v4M458.2 291v5M459.8 223v4M459.8 232v5M461.2 49v5M461.2 154v9M461.2 218v9M461.2 232v18M461.2 255v4M461.2 264v9M462.8 63v4M462.8 154v5M462.8 237v18M462.8 264v9M464.2 246v4M464.2 278v9M465.8 99v5M465.8 113v5M465.8 127v4M465.8 237v4M465.8 269v13M467.2 40v5M467.2 54v9M467.2 122v9M467.2 141v4M467.2 232v5M468.8 40v5M468.8 141v4M468.8 227v10M468.8 241v5M468.8 259v5M468.8 269v4M470.2 122v9M470.2 250v5M470.2 259v5M471.8 49v9M471.8 67v14M471.8 86v4M471.8 104v37M471.8 145v14M471.8 163v10M471.8 177v5M471.8 186v14M471.8 214v13M471.8 241v5M473.2 72v5M473.2 104v9M473.2 122v9M473.2 141v9M473.2 218v9M473.2 232v5M473.2 241v9M473.2 255v4M474.8 67v5M474.8 99v5M474.8 109v4M474.8 145v9M474.8 227v5M474.8 241v5M474.8 269v4M474.8 287v4M476.2 40v5M476.2 95v4M476.2 136v5M476.2 214v4M476.2 241v9M476.2 264v9M476.2 282v5M477.8 54v4M477.8 118v4M477.8 214v4M477.8 246v4M477.8 255v4M477.8 264v18M479.2 40v5M479.2 255v9M479.2 269v9M480.8 40v5M480.8 54v4M480.8 109v13M480.8 141v4M480.8 163v5M480.8 205v13M480.8 223v4M480.8 241v5M480.8 250v9M480.8 269v4M482.2 109v4M482.2 118v4M482.2 127v4M482.2 150v4M482.2 200v9M482.2 214v4M482.2 223v4M482.2 241v5M482.2 250v9M482.2 269v9M483.8 145v9M483.8 163v5M483.8 182v4M483.8 246v9M483.8 259v5M483.8 305v5M485.2 95v4M485.2 150v4M485.2 163v5M485.2 186v9M485.2 227v5M485.2 241v9M485.2 255v4M486.8 40v9M486.8 67v10M486.8 90v5M486.8 99v5M486.8 141v9M486.8 168v5M486.8 177v5M486.8 186v9M486.8 200v5M486.8 227v10M486.8 241v9M486.8 255v4M486.8 264v5M488.2 72v5M488.2 99v5M488.2 173v4M488.2 182v4M488.2 255v9M488.2 278v9M488.2 328v5M488.2 337v5M489.8 90v5M489.8 99v5M489.8 177v9M489.8 223v14M489.8 250v14M489.8 273v5M489.8 328v5M489.8 337v5M491.2 40v9M491.2 90v9M491.2 136v9M491.2 154v5M491.2 182v4M491.2 191v4M491.2 227v14M491.2 255v4M491.2 264v18M492.8 40v5M492.8 86v4M492.8 141v4M492.8 237v9M492.8 250v5M492.8 264v5M492.8 278v4M494.2 136v9M494.2 159v4M494.2 241v14M494.2 273v5M495.8 141v4M495.8 232v5M495.8 241v5M495.8 250v14M495.8 273v5M497.2 150v4M497.2 218v5M497.2 237v13M497.2 259v28M498.8 45v4M498.8 54v4M498.8 63v4M498.8 136v9M498.8 150v9M498.8 214v27M498.8 246v4M498.8 259v10M500.2 49v18M500.2 72v5M500.2 127v18M500.2 150v9M500.2 209v14M500.2 232v5M500.2 241v9M501.8 72v5M501.8 150v9M501.8 241v9M501.8 264v14M503.2 77v9M503.2 127v4M503.2 273v9M503.2 319v14M504.8 72v5M504.8 81v5M504.8 122v5M504.8 205v4M504.8 287v4M504.8 314v9M506.2 77v4M506.2 99v5M506.2 113v5M506.2 127v9M506.2 154v9M506.2 205v9M506.2 232v14M506.2 269v9M506.2 282v5M507.8 45v4M507.8 104v9M507.8 122v5M507.8 131v5M507.8 159v23M507.8 186v5M507.8 200v23M507.8 232v5M507.8 241v9M509.2 177v5M509.2 214v9M509.2 237v27M509.2 269v4M509.2 278v9M510.8 200v5M510.8 209v9M510.8 232v5M510.8 250v9M510.8 269v13M510.8 314v5M512.2 205v4M512.2 250v5M512.2 264v9M512.2 278v13M512.2 310v9M513.8 241v9M513.8 255v23M515.2 131v5M515.2 173v4M515.2 278v4M516.8 159v4M516.8 214v9M516.8 246v9M516.8 269v9M518.2 159v4M518.2 173v9M518.2 186v5M518.2 195v5M518.2 214v13M518.2 264v9M519.8 58v5M519.8 95v4M519.8 104v5M519.8 154v9M519.8 195v10M519.8 255v4M519.8 264v5M521.2 40v5M521.2 95v18M521.2 145v5M521.2 159v4M521.2 209v5M521.2 223v18M521.2 250v5M521.2 264v5M521.2 351v4M522.8 40v5M522.8 63v18M522.8 95v9M522.8 109v9M522.8 122v5M522.8 131v5M522.8 141v13M522.8 173v4M522.8 191v27M522.8 223v14M522.8 314v5M524.2 63v4M524.2 72v5M524.2 95v4M524.2 177v5M524.2 186v5M524.2 195v10M524.2 218v19M524.2 241v5M524.2 264v5M525.8 269v4M527.2 246v4M527.2 269v13M528.8 77v4M528.8 269v9M530.2 77v4M530.2 232v5M530.2 255v4M530.2 269v4M530.2 278v4M531.8 77v9M531.8 232v9M531.8 246v18M531.8 269v9M533.2 173v4M533.2 214v18M533.2 237v4M533.2 246v4M533.2 255v4M533.2 278v4M533.2 319v4M533.2 333v4M534.8 159v4M534.8 223v9M534.8 273v14M534.8 333v4M536.2 113v5M537.8 227v5M537.8 255v4M537.8 282v5M539.2 45v9M539.2 58v5M539.2 90v9M539.2 109v4M539.2 122v23M539.2 191v9M539.2 209v18M539.2 310v4M539.2 319v4M540.8 54v4M540.8 113v5M540.8 122v9M540.8 136v5M540.8 186v5M540.8 209v5M540.8 218v14M540.8 246v13M542.2 173v4M542.2 250v5M542.2 259v14M542.2 310v9M543.8 246v9M543.8 273v5M543.8 319v4M543.8 328v5M543.8 337v5M545.2 131v5M545.2 227v5M545.2 237v4M545.2 246v13M545.2 273v5M545.2 323v5M546.8 214v4M546.8 227v19M546.8 250v5M546.8 269v4M546.8 278v4M546.8 291v5M548.2 63v4M548.2 72v5M548.2 90v5M548.2 218v23M548.2 246v9M548.2 269v4M549.8 72v5M549.8 195v5M549.8 237v4M549.8 246v23M551.2 40v5M551.2 99v10M551.2 113v5M551.2 159v9M551.2 200v5M551.2 227v10M551.2 246v4M551.2 255v9M551.2 269v4M551.2 337v5M552.8 58v5M552.8 77v4M552.8 104v5M552.8 163v10M552.8 223v9M552.8 237v4M552.8 246v9M554.2 232v5M554.2 241v5M555.8 77v4M555.8 237v9M555.8 264v5M557.2 150v4M557.2 163v19M557.2 186v14M557.2 223v4M557.2 246v13M557.2 337v5M558.8 58v9M558.8 81v5M558.8 136v5M558.8 145v14M558.8 163v5M558.8 177v5M558.8 191v9M558.8 205v4M558.8 319v18M560.2 58v5M560.2 209v23M560.2 250v9M560.2 264v5M561.8 122v5M561.8 136v5M561.8 246v4M561.8 282v5M563.2 259v19M563.2 337v5M564.8 328v5M566.2 40v5M566.2 54v4M566.2 113v5M566.2 186v5M566.2 195v5M566.2 205v9M566.2 218v9M566.2 259v10M566.2 333v4M567.8 40v5M567.8 49v5M567.8 131v5M567.8 214v9M567.8 232v9M567.8 255v4M567.8 323v5M569.2 99v5M569.2 232v5M569.2 264v5M569.2 296v5M569.2 323v5M570.8 86v4M570.8 177v5M570.8 195v5M570.8 227v5M570.8 291v5M570.8 301v4M570.8 319v23M572.2 282v5M572.2 319v4M573.8 250v14M575.2 58v5M575.2 81v5M575.2 223v4M575.2 232v5M575.2 241v9M575.2 319v14M575.2 337v9M576.8 58v5M576.8 81v5M576.8 141v4M576.8 232v5M576.8 241v9M576.8 264v5M578.2 54v4M578.2 63v4M578.2 81v5M578.2 122v9M578.2 246v4M578.2 255v4M578.2 269v4M579.8 49v5M579.8 63v4M579.8 81v5M579.8 95v4M579.8 104v5M579.8 127v4M579.8 200v9M579.8 218v5M579.8 232v5M579.8 255v4M579.8 264v5M581.2 227v10M581.2 264v5M582.8 141v4M582.8 163v5M582.8 186v5M582.8 232v5M582.8 250v14M582.8 296v5M582.8 305v5M582.8 323v5M582.8 333v4M584.2 63v4M584.2 86v4M584.2 159v4M584.2 186v5M584.2 255v14M584.2 314v5M584.2 333v9M585.8 72v9M585.8 182v9M585.8 218v5M585.8 237v9M585.8 255v4M585.8 305v9M585.8 323v5M585.8 333v4M587.2 77v4M587.2 168v5M587.2 182v9M587.2 195v5M587.2 214v4M587.2 223v41M587.2 296v9M587.2 319v4M587.2 328v9M588.8 54v4M588.8 109v4M588.8 141v4M588.8 191v14M588.8 259v10M588.8 314v5M588.8 333v4M590.2 45v4M590.2 118v4M590.2 195v5M590.2 205v4M590.2 214v4M590.2 255v18M590.2 301v4M590.2 310v4M591.8 95v4M591.8 154v5M591.8 209v5M591.8 250v9M591.8 269v4M593.2 40v9M593.2 77v4M593.2 118v18M593.2 141v4M593.2 150v4M593.2 168v5M593.2 177v5M593.2 191v4M593.2 209v9M593.2 227v14M593.2 250v5M593.2 264v5M594.8 45v4M594.8 77v9M594.8 118v18M594.8 141v13M594.8 159v9M594.8 214v4M596.2 40v14M596.2 113v41M596.2 177v23M596.2 205v4M596.2 227v5M597.8 104v14M597.8 255v18M599.2 95v4M599.2 127v9M599.2 141v13M599.2 218v5M599.2 232v18M599.2 255v9M599.2 319v4M600.8 95v4M600.8 113v41M600.8 195v5M600.8 214v4M600.8 223v9M600.8 241v5M602.2 122v5M602.2 159v4M602.2 227v14M602.2 246v9M602.2 259v5M602.2 314v14M602.2 346v9M603.8 205v4M603.8 223v4M603.8 237v13M603.8 255v9M603.8 346v9M605.2 241v5M605.2 255v4M605.2 278v4M605.2 296v14M606.8 81v5M606.8 296v5M608.2 58v5M608.2 67v10M608.2 81v5M608.2 99v14M608.2 118v9M608.2 218v19M608.2 246v13M609.8 63v14M609.8 86v13M609.8 136v9M609.8 186v5M609.8 218v19M611.2 145v5M611.2 278v9M612.8 214v4M612.8 259v5M612.8 273v14M614.2 77v13M614.2 95v23M614.2 127v4M614.2 173v4M614.2 200v5M614.2 214v13M614.2 259v5M615.8 40v9M615.8 86v9M615.8 99v19M615.8 141v22M615.8 205v4M615.8 214v4M615.8 223v4M615.8 241v23M615.8 319v4M617.2 63v4M617.2 72v5M617.2 209v9M617.2 255v4M620.2 259v5M620.2 269v4M621.8 223v4M621.8 232v5M621.8 250v19M623.2 122v5M623.2 145v5M623.2 154v14M623.2 223v9M623.2 237v4M623.2 296v5M623.2 314v5M623.2 323v10M623.2 337v9M624.8 145v9M624.8 168v5M624.8 223v9M624.8 237v4M624.8 246v4M624.8 259v5M624.8 301v4M624.8 310v4M624.8 323v10M626.2 173v9M626.2 186v5M626.2 195v5M626.2 218v23M626.2 250v5M627.8 45v4M627.8 205v4M627.8 214v4M627.8 246v9M629.2 209v9M629.2 255v9M630.8 269v4M632.2 259v14M632.2 310v4M632.2 337v5M633.8 223v4M633.8 259v19M633.8 291v37M633.8 337v5M635.2 63v4M635.2 104v9M635.2 195v5M635.2 214v4M635.2 232v9M635.2 269v4M636.8 81v14M636.8 99v10M636.8 195v19M636.8 218v9M636.8 232v9M636.8 246v4M638.2 54v4M638.2 109v18M638.2 182v9M638.2 209v5M639.8 259v5M639.8 305v5M641.2 150v4M641.2 214v4M641.2 241v5M641.2 250v9M641.2 291v5M641.2 337v9M641.2 351v4M642.8 95v4M642.8 154v14M642.8 173v41M642.8 223v4M642.8 296v9M642.8 310v9M642.8 328v9M644.2 90v5M644.2 99v32M644.2 136v5M644.2 177v9M644.2 191v4M644.2 218v14M644.2 328v5M645.8 63v4M645.8 77v4M645.8 90v5M645.8 109v9M645.8 122v9M645.8 209v5M645.8 232v27M645.8 264v5M647.2 49v5M647.2 109v22M647.2 223v9M647.2 237v13M647.2 287v4M647.2 342v4M648.8 145v5M648.8 237v4M648.8 246v4M648.8 287v14M648.8 314v5M650.2 246v4M650.2 259v5M650.2 291v10M650.2 305v14M650.2 333v4M651.8 40v5M651.8 218v5M651.8 246v9M651.8 259v5M651.8 346v5M653.2 77v4M653.2 150v4M653.2 173v4M653.2 191v4M653.2 218v9M653.2 255v4M653.2 310v4M653.2 328v5M653.2 337v5M654.8 104v5M654.8 163v10M654.8 191v9M654.8 205v4M654.8 214v13M654.8 237v18M654.8 291v5M654.8 314v14M654.8 333v4M654.8 342v4M656.2 40v5M656.2 95v27M656.2 136v5M656.2 145v5M656.2 154v5M656.2 191v9M656.2 209v5M656.2 218v14M656.2 237v4M656.2 291v5M657.8 104v5M657.8 150v4M657.8 214v4M657.8 246v4M657.8 259v5M659.2 49v5M659.2 145v5M659.2 237v13M659.2 259v5M659.2 287v4M660.8 141v4M660.8 246v4M660.8 255v9M660.8 282v5M662.2 81v5M662.2 131v14M662.2 209v5M662.2 223v9M662.2 241v14M663.8 67v19M663.8 104v9M663.8 159v14M663.8 186v14M663.8 218v9M663.8 232v14M665.2 54v9M665.2 67v5M665.2 77v36M665.2 163v5M665.2 186v9M665.2 200v5M665.2 214v4M665.2 223v9M665.2 237v22M666.8 255v23M666.8 301v4M668.2 67v5M668.2 150v18M668.2 195v10M668.2 218v5M668.2 241v5M668.2 305v5M668.2 323v5M669.8 145v5M669.8 154v5M669.8 241v5M671.2 113v9M671.2 127v4M671.2 136v5M671.2 150v9M671.2 241v9M671.2 296v5M671.2 314v5M671.2 328v9M672.8 40v5M672.8 113v9M672.8 127v14M672.8 186v9M672.8 223v9M672.8 241v5M672.8 287v27M672.8 319v9M672.8 333v9M674.2 77v9M674.2 131v14M674.2 154v5M674.2 182v23M674.2 218v14M674.2 314v14M675.8 72v9M675.8 131v23M675.8 182v4M675.8 218v5M675.8 227v5M677.2 237v4M677.2 255v4M677.2 282v5M677.2 305v5M677.2 314v9M677.2 337v9M678.8 282v5M678.8 301v4M678.8 310v4M678.8 323v14M678.8 346v9M680.2 45v4M680.2 141v13M680.2 182v9M680.2 250v14M680.2 305v14M680.2 328v5"/>
<path stroke="#0000e6" d="M162.8 282v5M162.8 291v10M162.8 314v5M164.2 296v5M164.2 305v9M165.8 291v19M168.8 269v4M168.8 278v4M170.2 200v5M170.2 269v22M171.8 227v5M171.8 246v4M171.8 255v9M171.8 282v5M173.2 301v4M173.2 323v5M176.2 86v13M176.2 118v4M176.2 131v28M176.2 163v23M176.2 191v4M176.2 205v9M176.2 237v9M176.2 250v14M176.2 269v13M176.2 291v23M177.8 319v14M179.2 328v5M180.8 323v5M182.2 278v4M182.2 296v14M182.2 314v5M182.2 323v5M183.8 209v5M185.2 314v5M185.2 323v5M188.2 269v9M188.2 301v4M188.2 310v9M189.8 278v4M189.8 287v9M189.8 305v18M191.2 287v9M191.2 305v5M191.2 319v4M192.8 241v5M192.8 296v5M194.2 310v13M195.8 314v9M197.2 314v5M197.2 328v5M200.2 314v5M201.8 314v5M203.2 86v4M203.2 319v9M204.8 77v4M204.8 104v5M204.8 168v5M204.8 241v9M204.8 255v9M204.8 269v4M204.8 301v4M204.8 314v5M204.8 323v5M206.2 145v5M206.2 163v5M207.8 63v4M207.8 99v5M207.8 141v4M207.8 278v4M207.8 310v4M207.8 319v4M209.2 287v9M210.8 282v9M212.2 278v4M212.2 287v4M212.2 301v9M212.2 319v9M213.8 282v5M213.8 319v4M216.8 305v5M216.8 314v5M218.2 296v5M218.2 310v9M219.8 296v9M219.8 310v4M219.8 319v4M221.2 45v4M221.2 54v4M221.2 81v18M221.2 104v5M221.2 113v18M221.2 136v5M221.2 145v5M221.2 154v37M221.2 195v5M221.2 214v4M221.2 237v9M221.2 255v4M221.2 264v5M221.2 278v13M222.8 323v5M224.2 314v9M225.8 291v14M225.8 314v5M227.2 296v9M227.2 314v5M228.8 291v10M228.8 305v23M230.2 301v4M230.2 328v5M231.8 296v9M231.8 310v13M233.2 301v4M233.2 310v9M236.2 40v9M236.2 63v4M236.2 118v4M236.2 136v5M236.2 168v5M236.2 177v5M236.2 186v5M236.2 246v4M236.2 255v4M236.2 264v5M236.2 273v5M236.2 296v9M236.2 310v18M239.2 250v5M239.2 301v4M239.2 310v4M240.8 255v9M240.8 287v4M240.8 301v9M242.2 296v5M242.2 305v5M243.8 319v9M245.2 314v14M246.8 259v5M246.8 269v4M246.8 287v23M248.2 278v13M248.2 301v4M249.8 150v9M249.8 278v4M251.2 287v14M252.8 301v4M252.8 319v9M254.2 67v5M254.2 177v5M255.8 150v4M255.8 319v9M258.8 122v5M258.8 141v4M258.8 310v9M260.2 291v10M263.2 301v4M263.2 310v4M264.8 278v4M264.8 287v4M264.8 296v5M266.2 301v4M266.2 310v4M267.8 305v5M269.2 282v5M269.2 305v9M272.2 296v5M272.2 305v14M272.2 342v4M273.8 310v9M273.8 346v5M275.2 287v9M276.8 63v4M276.8 218v5M276.8 241v5M276.8 310v4M278.2 323v5M279.8 310v4M281.2 191v4M281.2 301v4M281.2 310v9M282.8 296v9M282.8 310v4M284.2 278v4M284.2 296v5M285.8 287v14M285.8 305v5M287.2 177v5M287.2 291v5M287.2 314v5M288.8 301v4M291.8 287v4M291.8 310v4M293.2 246v4M293.2 278v4M294.8 232v5M294.8 264v23M296.2 259v10M296.2 287v4M297.8 337v5M299.2 77v4M299.2 296v5M300.8 291v5M300.8 305v5M302.2 282v14M303.8 282v9M305.2 282v9M306.8 45v4M306.8 282v5M306.8 296v9M306.8 333v4M308.2 77v4M308.2 173v4M309.8 237v4M309.8 255v4M309.8 282v5M309.8 337v14M311.2 218v9M311.2 232v5M311.2 241v9M311.2 278v4M311.2 346v9M312.8 237v4M312.8 282v9M312.8 296v9M314.2 305v9M315.8 99v5M317.2 287v4M317.2 310v9M318.8 287v4M318.8 305v5M320.2 269v9M320.2 287v4M320.2 337v9M321.8 291v19M323.2 232v9M324.8 77v4M324.8 314v5M326.2 296v5M326.2 305v5M327.8 54v4M327.8 333v4M330.8 278v4M330.8 310v4M332.2 278v4M332.2 287v4M333.8 291v10M335.2 195v5M335.2 314v5M336.8 54v4M336.8 200v5M336.8 223v4M336.8 310v4M338.2 40v5M338.2 49v5M338.2 81v5M338.2 310v4M339.8 310v4M341.2 278v4M341.2 287v4M341.2 301v4M342.8 287v4M342.8 296v14M344.2 291v10M344.2 333v9M345.8 291v10M345.8 333v4M347.2 86v9M347.2 296v5M348.8 232v5M348.8 287v9M350.2 273v14M351.8 291v5M353.2 99v5M353.2 205v4M353.2 296v9M354.8 264v5M354.8 273v9M354.8 287v4M357.8 305v5M360.8 259v5M360.8 342v9M362.2 296v5M363.8 278v13M363.8 296v5M363.8 337v5M365.2 250v5M365.2 259v5M365.2 333v9M365.2 346v5M366.8 255v9M368.2 282v14M368.2 305v5M369.8 81v5M369.8 214v4M371.2 301v4M371.2 351v4M372.8 168v5M372.8 296v5M374.2 154v9M374.2 168v5M374.2 301v4M378.8 278v18M380.2 90v5M380.2 296v9M383.2 287v4M384.8 282v5M384.8 319v9M384.8 342v9M386.2 278v4M386.2 291v5M387.8 264v9M387.8 278v4M389.2 241v14M389.2 259v10M389.2 273v9M389.2 287v4M390.8 259v14M390.8 278v9M392.2 287v4M392.2 328v5M393.8 296v9M395.2 291v5M396.8 136v5M396.8 145v5M396.8 323v10M398.2 141v4M399.8 273v28M401.2 159v4M401.2 301v4M402.8 86v4M402.8 163v5M402.8 301v4M402.8 328v5M402.8 342v4M404.2 63v4M404.2 72v5M404.2 177v9M404.2 287v9M404.2 342v4M405.8 63v4M405.8 301v4M407.2 296v9M408.8 273v5M408.8 323v19M410.2 232v9M410.2 255v18M411.8 232v9M411.8 264v5M411.8 273v5M411.8 319v4M413.2 223v9M413.2 246v4M413.2 255v14M413.2 278v4M414.8 163v5M414.8 173v18M414.8 195v5M414.8 214v9M416.2 227v14M416.2 246v4M416.2 255v4M416.2 264v5M417.8 237v4M417.8 269v18M419.2 113v9M419.2 127v4M419.2 287v4M420.8 269v9M420.8 282v5M422.2 269v18M423.8 287v4M425.2 232v5M425.2 246v4M425.2 255v4M425.2 264v5M425.2 278v4M426.8 328v14M426.8 351v4M428.2 287v9M429.8 287v4M429.8 337v5M431.2 95v4M431.2 227v5M431.2 323v10M434.2 246v4M434.2 269v9M435.8 287v4M437.2 287v4M438.8 287v4M438.8 310v18M438.8 342v4M438.8 355v5M440.2 273v9M440.2 287v9M440.2 310v4M440.2 319v4M440.2 337v5M440.2 346v5M441.8 232v5M441.8 241v5M441.8 273v5M441.8 328v5M441.8 337v5M443.2 278v4M443.2 333v9M444.8 109v4M444.8 291v5M444.8 333v9M446.2 287v4M447.8 282v5M449.2 259v10M449.2 273v5M450.8 54v4M450.8 250v5M450.8 273v5M450.8 282v5M450.8 337v14M452.2 264v5M452.2 273v5M452.2 287v4M452.2 319v9M452.2 337v5M453.8 250v5M453.8 264v9M453.8 278v4M455.2 104v5M455.2 287v9M456.8 314v9M456.8 337v9M458.2 287v4M458.2 296v5M459.8 282v19M461.2 250v5M461.2 273v9M462.8 273v9M465.8 282v5M467.2 168v5M467.2 278v4M470.2 264v5M471.8 182v4M471.8 232v9M471.8 246v4M473.2 278v4M473.2 323v5M474.8 291v5M479.2 278v4M480.8 232v5M480.8 273v5M480.8 314v23M482.2 246v4M482.2 278v4M482.2 310v4M482.2 323v10M483.8 310v4M483.8 323v14M485.2 259v14M486.8 250v5M486.8 259v5M486.8 269v4M486.8 328v5M488.2 67v5M488.2 305v5M488.2 323v5M488.2 342v4M489.8 45v9M489.8 278v4M489.8 323v5M489.8 333v4M491.2 250v5M491.2 282v5M491.2 305v14M491.2 323v5M492.8 282v5M495.8 278v4M497.2 323v5M498.8 255v4M498.8 269v9M498.8 282v5M500.2 250v5M500.2 264v18M500.2 319v4M500.2 328v5M501.8 250v5M501.8 278v4M501.8 323v14M501.8 342v4M503.2 305v5M503.2 314v5M503.2 333v4M503.2 342v4M504.8 77v4M504.8 323v5M506.2 255v14M506.2 278v4M507.8 237v4M509.2 264v5M509.2 273v5M510.8 282v5M510.8 310v4M512.2 296v14M512.2 328v5M512.2 337v5M513.8 278v4M513.8 337v5M515.2 282v5M516.8 278v4M519.8 269v4M521.2 255v9M521.2 269v4M521.2 310v23M521.2 337v5M522.8 237v18M522.8 310v4M522.8 323v5M524.2 305v5M524.2 323v5M525.8 278v4M527.2 333v9M528.8 241v5M528.8 333v4M530.2 282v5M531.8 278v4M531.8 319v4M533.2 291v5M533.2 301v9M533.2 314v5M533.2 323v10M533.2 346v5M534.8 209v5M534.8 287v4M534.8 337v5M536.2 282v5M537.8 305v9M537.8 342v9M539.2 227v14M539.2 323v10M539.2 337v9M540.8 232v9M540.8 259v10M540.8 319v4M542.2 273v5M542.2 301v9M542.2 319v9M542.2 333v9M543.8 278v4M543.8 301v18M545.2 278v4M545.2 328v5M546.8 209v5M546.8 282v5M548.2 273v5M548.2 282v5M548.2 323v10M549.8 241v5M549.8 269v4M549.8 323v10M551.2 241v5M551.2 333v4M552.8 232v5M552.8 241v5M552.8 269v4M554.2 81v5M554.2 269v9M554.2 282v5M554.2 319v4M554.2 328v9M555.8 301v4M555.8 319v14M557.2 227v5M557.2 237v9M557.2 319v18M557.2 342v4M558.8 182v9M558.8 209v18M558.8 232v9M558.8 314v5M558.8 337v9M560.2 246v4M560.2 259v5M560.2 269v4M560.2 323v10M561.8 54v4M561.8 131v5M561.8 273v5M561.8 287v4M561.8 305v5M561.8 323v14M561.8 342v4M563.2 90v9M563.2 287v4M563.2 305v9M563.2 323v10M564.8 141v4M564.8 278v4M564.8 287v4M564.8 314v14M564.8 337v5M566.2 45v4M566.2 86v4M566.2 269v13M566.2 305v5M566.2 314v14M566.2 337v5M567.8 259v5M567.8 273v5M569.2 191v4M569.2 301v4M569.2 314v5M569.2 328v14M570.8 342v13M572.2 63v4M572.2 159v4M572.2 182v9M572.2 273v9M572.2 287v4M572.2 305v14M573.8 159v4M573.8 186v5M573.8 264v5M573.8 287v4M575.2 250v5M575.2 291v28M575.2 333v4M576.8 250v14M576.8 269v4M576.8 291v10M576.8 310v4M576.8 319v4M576.8 337v5M578.2 259v5M578.2 273v5M579.8 259v5M579.8 269v4M581.2 273v5M581.2 301v9M582.8 264v5M582.8 291v5M582.8 301v4M582.8 310v4M582.8 328v5M582.8 337v5M584.2 269v4M584.2 291v23M584.2 319v9M585.8 259v5M585.8 301v4M585.8 314v9M585.8 328v5M585.8 337v5M587.2 67v5M587.2 141v4M587.2 264v5M587.2 291v5M587.2 305v5M587.2 314v5M587.2 337v9M588.8 273v5M588.8 328v5M588.8 337v18M590.2 113v5M590.2 273v5M591.8 273v5M593.2 255v9M594.8 168v5M594.8 177v18M594.8 200v9M594.8 227v5M596.2 232v5M596.2 241v5M597.8 99v5M597.8 136v9M597.8 273v5M597.8 296v5M599.2 250v5M599.2 264v5M599.2 296v5M599.2 310v4M599.2 323v5M600.8 218v5M600.8 232v9M600.8 323v5M602.2 310v4M602.2 328v9M602.2 355v5M603.8 269v4M603.8 296v14M603.8 333v4M605.2 259v19M605.2 282v5M605.2 333v9M606.8 259v5M606.8 287v4M606.8 301v13M606.8 333v9M608.2 259v5M609.8 250v5M611.2 255v9M611.2 269v4M612.8 99v10M612.8 136v9M612.8 264v9M614.2 269v9M615.8 264v5M615.8 310v9M617.2 259v5M620.2 273v5M620.2 282v5M621.8 58v5M623.2 241v9M623.2 291v5M623.2 301v4M623.2 310v4M623.2 319v4M623.2 333v4M623.2 346v14M624.8 241v5M624.8 250v9M624.8 264v5M624.8 291v5M624.8 337v9M626.2 296v9M626.2 314v9M626.2 328v5M629.2 45v4M629.2 264v5M629.2 278v4M630.8 99v10M630.8 310v4M632.2 273v5M632.2 301v9M632.2 314v5M632.2 323v14M633.8 63v9M633.8 278v4M633.8 346v5M635.2 273v5M636.8 214v4M636.8 227v5M636.8 255v4M638.2 214v13M638.2 232v14M638.2 310v13M639.8 118v13M639.8 264v5M639.8 291v5M639.8 301v4M639.8 319v18M639.8 346v5M641.2 72v5M641.2 127v9M641.2 246v4M641.2 282v9M641.2 319v14M641.2 355v5M642.8 218v5M642.8 227v10M642.8 282v14M642.8 323v5M642.8 337v9M644.2 186v5M644.2 195v23M644.2 232v5M644.2 291v10M644.2 305v9M644.2 323v5M644.2 333v4M645.8 291v5M645.8 333v4M645.8 342v4M647.2 291v5M647.2 314v14M647.2 333v9M647.2 346v5M648.8 278v4M648.8 301v13M648.8 319v9M648.8 333v9M650.2 319v9M650.2 337v18M651.8 63v4M651.8 72v9M651.8 163v5M651.8 291v28M651.8 337v9M653.2 259v5M653.2 291v5M653.2 305v5M653.2 314v14M653.2 333v4M653.2 355v5M654.8 109v4M654.8 296v5M654.8 305v9M656.2 214v4M656.2 241v5M656.2 323v5M657.8 45v4M657.8 159v4M657.8 264v5M657.8 287v4M659.2 45v4M659.2 136v5M659.2 154v5M659.2 264v5M659.2 291v5M660.8 136v5M660.8 264v18M660.8 287v9M660.8 314v14M660.8 337v14M662.2 255v9M662.2 269v9M663.8 200v5M663.8 227v5M663.8 246v9M665.2 218v5M666.8 72v5M666.8 305v5M668.2 246v9M668.2 301v4M668.2 310v4M668.2 319v4M668.2 328v5M669.8 246v9M669.8 328v5M671.2 255v4M671.2 287v9M671.2 310v4M671.2 337v14M672.8 232v9M672.8 282v5M672.8 328v5M672.8 346v5M674.2 241v5M674.2 287v14M674.2 305v9M674.2 333v9M674.2 346v5M675.8 223v4M675.8 232v5M675.8 241v5M675.8 282v5M675.8 291v10M675.8 314v14M675.8 337v9M677.2 259v5M677.2 269v4M677.2 278v4M677.2 287v14M677.2 310v4M677.2 323v14M677.2 346v5M678.8 145v5M680.2 287v18M680.2 319v9M680.2 333v13"/>
<path stroke="#0000fa" d="M162.8 191v9M164.2 291v5M168.8 200v5M168.8 305v18M168.8 333v4M170.2 296v5M171.8 118v4M171.8 269v13M171.8 287v9M173.2 86v4M173.2 264v5M173.2 328v5M173.2 337v5M174.8 255v4M174.8 323v14M176.2 282v9M176.2 314v9M176.2 328v5M179.2 333v4M182.2 273v5M182.2 310v4M182.2 319v4M182.2 328v9M183.8 264v5M186.8 67v5M188.2 136v5M188.2 264v5M188.2 305v5M188.2 323v5M189.8 296v9M189.8 323v5M191.2 296v9M191.2 310v9M192.8 305v5M194.2 45v4M194.2 323v5M195.8 323v5M200.2 319v9M201.8 241v5M201.8 323v5M203.2 241v5M204.8 319v4M204.8 328v5M206.2 168v5M207.8 145v5M209.2 58v5M209.2 269v18M209.2 301v9M210.8 296v14M210.8 314v5M212.2 150v9M212.2 310v4M215.2 319v4M216.8 319v4M218.2 305v5M218.2 319v4M219.8 150v4M219.8 163v5M219.8 305v5M219.8 314v5M219.8 323v5M221.2 131v5M221.2 141v4M221.2 150v4M221.2 259v5M221.2 269v4M221.2 291v10M221.2 310v4M222.8 259v5M222.8 328v5M227.2 237v9M227.2 319v9M228.8 95v4M228.8 109v4M228.8 227v5M228.8 241v9M231.8 49v5M231.8 323v5M233.2 63v4M233.2 319v9M236.2 269v4M236.2 328v5M237.8 173v4M237.8 227v5M237.8 319v9M239.2 145v9M239.2 255v4M239.2 305v5M239.2 314v5M240.8 127v4M240.8 310v4M243.8 195v5M243.8 246v4M243.8 314v5M248.2 40v5M248.2 291v10M249.8 40v5M249.8 159v9M249.8 177v5M249.8 282v5M251.2 168v5M251.2 301v9M255.8 246v4M257.2 305v9M260.2 77v4M260.2 209v5M260.2 223v9M260.2 301v9M261.8 182v4M261.8 223v4M261.8 301v9M263.2 58v5M263.2 159v4M263.2 342v9M264.8 159v4M264.8 314v9M266.2 314v5M267.8 113v5M269.2 319v4M270.8 305v14M272.2 136v5M272.2 346v5M275.2 301v4M275.2 346v5M276.8 323v5M278.2 218v5M278.2 241v5M279.8 191v4M279.8 218v5M279.8 319v4M282.8 177v5M282.8 337v5M287.2 319v4M288.8 314v5M290.2 49v5M293.2 154v5M293.2 173v4M293.2 182v4M293.2 282v5M293.2 296v5M294.8 154v5M294.8 186v5M294.8 223v4M294.8 287v14M296.2 67v5M296.2 291v10M297.8 63v4M297.8 301v4M297.8 342v4M300.8 77v4M300.8 296v5M300.8 310v4M302.2 296v14M303.8 58v5M303.8 291v5M305.2 159v4M305.2 291v5M306.8 305v9M306.8 337v5M308.2 81v5M308.2 154v5M308.2 232v5M308.2 241v5M308.2 328v18M308.2 355v5M309.8 58v5M309.8 154v5M309.8 287v4M309.8 351v9M311.2 58v5M311.2 72v5M311.2 209v5M311.2 333v13M312.8 209v5M312.8 291v5M314.2 58v5M320.2 301v4M320.2 351v9M321.8 127v4M321.8 223v4M321.8 232v5M321.8 310v4M321.8 333v4M323.2 223v4M323.2 246v9M323.2 291v10M326.2 67v5M326.2 77v4M326.2 237v4M326.2 337v5M327.8 77v4M327.8 305v5M327.8 337v9M329.2 191v4M329.2 310v4M330.8 205v9M332.2 209v5M332.2 227v5M332.2 291v10M333.8 195v10M333.8 218v9M333.8 301v4M335.2 40v5M335.2 218v5M336.8 40v14M336.8 218v5M336.8 314v5M336.8 328v5M336.8 337v5M336.8 351v4M338.2 200v5M339.8 214v4M341.2 291v10M341.2 305v5M342.8 81v9M344.2 301v4M344.2 346v9M345.8 328v5M345.8 337v18M347.2 291v5M348.8 54v4M348.8 173v9M350.2 54v4M350.2 182v4M350.2 269v4M351.8 209v5M351.8 296v9M353.2 209v5M354.8 205v4M354.8 214v27M356.2 209v5M359.2 154v5M359.2 346v5M360.8 154v5M360.8 301v9M360.8 328v5M362.2 191v4M362.2 301v9M362.2 328v5M362.2 337v5M362.2 346v5M363.8 291v5M363.8 342v4M365.2 77v4M365.2 255v4M365.2 264v5M365.2 323v10M365.2 351v4M366.8 273v5M366.8 346v5M368.2 122v5M369.8 232v5M369.8 246v4M369.8 305v5M369.8 337v5M371.2 259v10M372.8 255v9M372.8 282v5M372.8 301v4M374.2 223v4M374.2 259v10M375.8 346v5M377.2 118v4M377.2 296v5M378.8 342v4M380.2 99v5M380.2 182v4M381.8 99v5M383.2 45v13M383.2 346v9M384.8 264v9M384.8 278v4M384.8 287v4M384.8 328v14M384.8 351v9M386.2 45v4M387.8 40v9M387.8 58v5M387.8 90v5M387.8 99v5M387.8 291v5M389.2 90v5M389.2 99v5M389.2 173v4M389.2 269v4M390.8 95v9M390.8 173v4M390.8 287v4M392.2 301v4M395.2 136v5M396.8 301v4M396.8 333v9M398.2 145v5M398.2 301v4M398.2 323v10M399.8 177v5M402.8 333v9M402.8 355v5M404.2 67v5M404.2 296v9M404.2 323v5M404.2 333v4M405.8 287v4M405.8 305v5M407.2 305v5M407.2 328v14M408.8 278v9M408.8 342v4M410.2 246v9M410.2 273v9M410.2 323v23M411.8 278v4M411.8 323v5M413.2 182v4M413.2 282v5M414.8 58v5M414.8 223v18M414.8 246v9M416.2 241v5M419.2 150v4M419.2 291v5M420.8 145v9M420.8 278v4M420.8 287v4M422.2 287v4M423.8 58v9M423.8 141v4M425.2 54v4M425.2 77v4M425.2 122v5M425.2 269v4M425.2 328v5M425.2 337v5M426.8 95v4M426.8 296v5M426.8 314v14M426.8 355v5M428.2 337v5M429.8 296v5M429.8 319v4M429.8 328v9M429.8 342v4M431.2 291v5M431.2 314v5M431.2 346v5M434.2 168v14M434.2 278v9M435.8 291v5M437.2 291v5M437.2 314v19M437.2 337v5M437.2 346v9M438.8 333v9M440.2 314v5M440.2 355v5M441.8 291v5M441.8 319v9M441.8 342v4M443.2 195v10M443.2 291v5M443.2 319v9M443.2 346v5M444.8 287v4M444.8 342v4M446.2 72v5M446.2 291v5M446.2 337v5M447.8 58v5M447.8 77v4M447.8 127v4M449.2 314v9M450.8 86v4M450.8 246v4M450.8 278v4M450.8 287v4M452.2 310v4M453.8 273v5M455.2 319v4M456.8 287v9M456.8 346v5M458.2 310v4M458.2 342v4M459.8 237v4M461.2 227v5M464.2 287v4M464.2 301v4M465.8 168v5M467.2 136v5M467.2 282v5M468.8 273v9M470.2 273v14M470.2 328v5M471.8 227v5M471.8 250v9M471.8 323v10M473.2 67v5M473.2 118v4M473.2 150v4M473.2 227v5M473.2 269v9M474.8 104v5M474.8 319v4M474.8 328v5M476.2 145v5M476.2 287v4M477.8 328v9M479.2 54v4M479.2 282v5M479.2 319v18M479.2 355v5M480.8 346v5M480.8 355v5M482.2 145v5M482.2 282v9M482.2 314v9M482.2 342v9M483.8 278v4M483.8 314v9M483.8 337v9M485.2 305v5M485.2 328v5M486.8 95v4M486.8 305v5M486.8 319v9M486.8 333v4M488.2 168v5M488.2 177v5M488.2 314v9M489.8 67v5M489.8 95v4M489.8 159v14M489.8 282v5M489.8 342v4M491.2 49v5M491.2 319v4M491.2 337v5M494.2 109v4M494.2 278v4M495.8 136v5M495.8 282v5M497.2 223v4M497.2 250v9M497.2 287v4M497.2 319v4M497.2 328v9M500.2 323v5M500.2 333v4M501.8 58v9M501.8 301v9M501.8 319v4M501.8 337v5M503.2 58v19M503.2 337v5M503.2 346v5M504.8 305v9M504.8 328v5M506.2 104v9M506.2 118v9M506.2 163v5M507.8 250v9M510.8 264v5M510.8 287v4M510.8 328v5M512.2 291v5M512.2 323v5M512.2 346v5M513.8 250v5M513.8 310v4M516.8 282v5M518.2 163v5M518.2 182v4M518.2 273v5M519.8 99v5M519.8 163v5M519.8 319v9M521.2 150v9M521.2 273v5M521.2 305v5M521.2 333v4M521.2 342v9M522.8 118v4M522.8 255v4M522.8 264v5M522.8 305v5M522.8 319v4M522.8 328v5M522.8 342v9M524.2 67v5M524.2 191v4M524.2 269v4M524.2 310v4M525.8 223v4M527.2 282v5M527.2 310v23M527.2 346v9M528.8 255v4M528.8 346v5M530.2 287v4M531.8 282v5M531.8 314v5M531.8 323v14M533.2 310v4M533.2 337v5M534.8 291v5M534.8 314v9M534.8 328v5M536.2 259v5M536.2 287v4M536.2 305v9M536.2 323v19M536.2 346v5M537.8 259v5M537.8 291v5M537.8 319v23M539.2 54v4M539.2 255v9M539.2 305v5M539.2 314v5M539.2 333v4M540.8 45v9M540.8 131v5M542.2 328v5M542.2 346v5M543.8 342v4M545.2 145v5M545.2 232v5M545.2 333v4M546.8 287v4M546.8 328v5M548.2 45v4M548.2 104v5M548.2 241v5M548.2 278v4M548.2 333v4M549.8 109v4M549.8 273v5M549.8 333v18M551.2 109v4M551.2 323v5M551.2 342v9M552.8 159v4M552.8 333v9M554.2 77v4M554.2 278v4M554.2 287v4M554.2 301v4M554.2 323v5M555.8 232v5M555.8 269v9M555.8 305v5M555.8 314v5M555.8 333v9M557.2 182v4M557.2 259v5M557.2 301v4M557.2 314v5M558.8 241v9M558.8 305v9M558.8 346v14M560.2 319v4M560.2 333v4M560.2 342v9M561.8 278v4M561.8 337v5M561.8 346v5M563.2 278v9M563.2 342v9M564.8 282v5M564.8 305v9M566.2 49v5M566.2 109v4M566.2 301v4M566.2 310v4M566.2 328v5M566.2 342v13M567.8 109v9M567.8 264v9M567.8 305v18M567.8 328v14M569.2 319v4M569.2 342v13M570.8 191v4M570.8 269v4M572.2 191v4M572.2 291v14M573.8 273v5M573.8 282v5M573.8 319v4M575.2 255v4M575.2 287v4M576.8 305v5M576.8 314v5M576.8 333v4M576.8 342v4M578.2 58v5M579.8 54v9M579.8 122v5M581.2 278v13M581.2 296v5M581.2 310v4M582.8 136v5M582.8 150v4M582.8 159v4M582.8 269v4M582.8 342v4M584.2 328v5M584.2 342v13M585.8 264v5M585.8 296v5M585.8 346v9M587.2 72v5M587.2 269v4M587.2 310v4M588.8 278v4M588.8 287v4M590.2 109v4M590.2 200v5M590.2 314v9M591.8 195v14M591.8 214v4M591.8 305v5M593.2 195v14M593.2 269v4M594.8 241v9M594.8 319v18M596.2 168v9M596.2 200v5M596.2 237v4M596.2 246v4M597.8 127v9M597.8 145v9M597.8 291v5M597.8 301v18M599.2 136v5M599.2 269v4M599.2 301v9M599.2 314v5M599.2 328v9M600.8 246v4M600.8 314v9M602.2 264v5M602.2 291v19M602.2 342v4M603.8 232v5M603.8 264v5M603.8 310v13M603.8 342v4M605.2 310v4M605.2 342v13M606.8 264v5M606.8 314v9M606.8 328v5M606.8 342v4M608.2 63v4M608.2 90v9M609.8 255v4M611.2 136v9M611.2 264v5M611.2 273v5M614.2 314v9M615.8 95v4M615.8 209v5M615.8 218v5M615.8 323v10M617.2 264v5M617.2 319v9M618.8 269v4M620.2 278v4M621.8 269v13M621.8 291v10M621.8 305v5M621.8 342v13M623.2 150v4M623.2 255v9M623.2 287v4M623.2 305v5M624.8 287v4M624.8 305v5M624.8 333v4M624.8 346v14M626.2 168v5M626.2 255v14M626.2 310v4M626.2 323v5M627.8 255v4M627.8 301v13M627.8 333v4M629.2 269v9M630.8 273v9M630.8 301v9M630.8 319v4M630.8 337v5M632.2 296v5M632.2 319v4M633.8 218v5M633.8 282v9M633.8 342v4M635.2 218v14M635.2 278v4M635.2 291v5M635.2 314v9M635.2 328v9M636.8 259v5M636.8 310v4M636.8 323v5M638.2 104v5M638.2 227v5M638.2 246v13M638.2 323v10M639.8 269v9M639.8 287v4M639.8 296v5M639.8 337v5M641.2 159v4M641.2 259v10M642.8 127v4M642.8 237v4M642.8 319v4M642.8 346v5M644.2 95v4M644.2 287v4M644.2 301v4M644.2 314v9M644.2 337v9M645.8 319v14M647.2 232v5M647.2 269v4M647.2 282v5M647.2 296v18M648.8 232v5M648.8 282v5M648.8 342v9M650.2 264v5M650.2 287v4M650.2 328v5M651.8 264v5M651.8 319v18M653.2 163v5M653.2 296v9M654.8 301v4M654.8 346v5M656.2 150v4M656.2 246v9M656.2 287v4M656.2 296v5M656.2 314v9M657.8 154v5M657.8 241v5M657.8 273v5M659.2 269v9M659.2 296v5M659.2 342v9M660.8 232v9M660.8 296v14M660.8 351v4M662.2 232v5M662.2 264v5M662.2 282v5M662.2 337v5M663.8 255v4M663.8 282v9M663.8 296v5M665.2 72v5M665.2 195v5M665.2 259v5M665.2 296v9M666.8 195v5M666.8 296v5M666.8 310v4M666.8 323v5M668.2 296v5M668.2 314v5M668.2 342v9M669.8 150v4M669.8 291v10M669.8 314v5M669.8 323v5M671.2 122v5M671.2 259v5M671.2 282v5M671.2 301v4M671.2 319v9M672.8 122v5M672.8 246v4M672.8 351v9M674.2 232v9M674.2 282v5M674.2 301v4M674.2 328v5M675.8 246v9M675.8 287v4M675.8 305v5M675.8 328v5M677.2 264v5M677.2 273v5M677.2 301v4M678.8 355v5M680.2 278v9"/>
<path stroke="#000fff" d="M162.8 319v4M164.2 314v5M165.8 310v9M167.2 63v18M167.2 86v4M167.2 163v5M167.2 173v4M167.2 182v4M167.2 218v5M167.2 259v5M168.8 273v5M168.8 282v5M168.8 296v5M170.2 305v14M173.2 255v4M174.8 337v5M176.2 122v5M176.2 186v5M180.8 328v5M185.2 337v5M186.8 40v5M186.8 58v9M186.8 77v9M186.8 99v5M186.8 141v4M186.8 168v9M186.8 200v5M188.2 246v4M191.2 323v5M192.8 301v4M192.8 310v4M204.8 333v9M206.2 333v4M207.8 323v5M210.8 310v4M212.2 282v5M212.2 328v5M213.8 278v4M213.8 287v4M213.8 323v5M216.8 323v5M221.2 301v9M221.2 319v9M222.8 310v9M222.8 333v4M224.2 323v5M225.8 319v4M228.8 301v4M231.8 305v5M231.8 346v5M233.2 305v5M236.2 173v4M236.2 223v4M237.8 305v5M240.8 264v5M242.2 314v5M243.8 310v4M245.2 246v4M246.8 246v9M249.8 168v9M249.8 287v4M251.2 310v9M258.8 346v5M261.8 310v4M261.8 342v9M261.8 355v5M266.2 319v4M267.8 310v4M270.8 319v4M272.2 319v4M272.2 337v5M272.2 351v4M273.8 296v5M273.8 342v4M273.8 351v4M275.2 305v5M276.8 346v5M281.2 319v4M282.8 314v5M290.2 314v5M291.8 314v5M291.8 346v9M293.2 301v4M294.8 227v5M294.8 259v5M296.2 301v4M297.8 305v9M297.8 333v4M297.8 346v5M300.8 301v4M300.8 346v5M303.8 296v5M305.2 296v9M306.8 342v4M308.2 291v5M308.2 346v9M309.8 227v10M309.8 241v9M309.8 291v5M309.8 328v9M311.2 227v5M311.2 282v14M312.8 346v5M318.8 310v4M318.8 342v4M320.2 305v5M320.2 328v9M321.8 337v5M323.2 319v9M326.2 333v4M326.2 342v13M327.8 328v5M327.8 346v5M329.2 333v4M332.2 223v4M332.2 301v9M333.8 305v5M336.8 333v4M336.8 346v5M338.2 314v5M341.2 337v5M344.2 328v5M345.8 301v4M348.8 342v4M350.2 232v9M354.8 209v5M354.8 296v5M354.8 337v5M356.2 296v5M357.8 310v4M357.8 342v4M359.2 310v4M359.2 323v10M362.2 333v4M363.8 269v4M363.8 301v4M363.8 328v9M365.2 273v5M365.2 355v5M366.8 264v9M366.8 333v13M369.8 342v4M371.2 246v13M371.2 273v5M371.2 333v13M372.8 287v4M372.8 351v4M374.2 333v4M374.2 346v5M375.8 296v5M375.8 342v4M377.2 346v5M378.8 296v5M378.8 333v9M381.8 291v5M383.2 291v5M386.2 328v5M387.8 237v4M387.8 259v5M389.2 237v4M390.8 291v5M395.2 323v5M396.8 305v5M396.8 351v4M398.2 333v9M399.8 319v9M402.8 323v5M402.8 346v9M404.2 314v9M404.2 337v5M404.2 346v5M404.2 355v5M405.8 328v9M407.2 323v5M408.8 351v4M410.2 227v5M410.2 319v4M411.8 227v5M414.8 63v4M416.2 259v5M416.2 269v4M417.8 287v4M419.2 296v5M419.2 319v9M422.2 291v5M423.8 291v5M425.2 273v5M425.2 282v5M425.2 319v9M425.2 333v4M425.2 342v9M428.2 328v5M428.2 342v9M429.8 346v5M431.2 287v4M431.2 355v5M432.8 328v18M435.8 319v4M437.2 342v4M438.8 291v5M441.8 282v5M441.8 314v5M443.2 287v4M443.2 301v4M443.2 314v5M443.2 328v5M443.2 351v4M444.8 323v5M444.8 346v5M446.2 333v4M447.8 291v5M449.2 278v4M449.2 333v4M450.8 255v14M452.2 255v9M452.2 342v4M453.8 282v5M455.2 296v5M456.8 351v4M458.2 301v4M458.2 314v5M458.2 337v5M458.2 346v5M459.8 314v14M459.8 337v5M461.2 314v5M462.8 282v5M464.2 291v5M465.8 319v14M467.2 273v5M467.2 323v5M468.8 282v5M468.8 319v9M470.2 269v4M470.2 287v4M470.2 296v5M470.2 323v5M470.2 333v4M471.8 141v4M471.8 259v5M473.2 282v5M473.2 319v4M476.2 328v5M477.8 282v5M477.8 314v5M477.8 337v5M479.2 314v5M480.8 282v5M480.8 310v4M480.8 337v9M480.8 351v4M482.2 305v5M482.2 333v4M482.2 355v5M483.8 282v5M485.2 273v5M485.2 310v4M485.2 319v9M485.2 333v9M486.8 273v5M486.8 337v5M488.2 310v4M488.2 346v5M489.8 314v9M491.2 328v9M491.2 342v4M492.8 305v9M494.2 282v5M495.8 287v4M497.2 227v10M497.2 310v9M498.8 250v5M498.8 287v4M498.8 314v28M500.2 255v4M500.2 310v9M500.2 337v9M501.8 255v9M501.8 310v9M503.2 301v4M503.2 310v4M504.8 291v5M504.8 333v4M504.8 351v4M506.2 250v5M507.8 259v14M509.2 287v4M510.8 291v10M510.8 305v5M510.8 319v9M512.2 319v4M512.2 342v4M513.8 282v5M513.8 305v5M513.8 342v4M515.2 287v4M515.2 310v4M515.2 337v5M516.8 287v4M519.8 273v5M519.8 305v5M519.8 314v5M519.8 342v4M521.2 301v4M521.2 355v5M522.8 259v5M522.8 333v9M524.2 314v9M525.8 273v5M525.8 296v5M525.8 305v5M525.8 323v5M525.8 337v5M527.2 301v9M527.2 342v4M527.2 355v5M528.8 282v14M528.8 305v14M528.8 323v10M530.2 273v5M530.2 291v5M533.2 287v4M533.2 296v5M533.2 342v4M533.2 351v4M534.8 305v9M534.8 323v5M534.8 342v13M536.2 301v4M536.2 314v9M536.2 342v4M537.8 287v4M537.8 301v4M539.2 264v5M539.2 273v9M539.2 301v4M539.2 346v5M540.8 310v4M540.8 323v5M540.8 337v9M542.2 278v4M542.2 296v5M542.2 342v4M543.8 296v5M543.8 346v5M545.2 301v13M545.2 319v4M546.8 305v5M546.8 323v5M548.2 287v9M548.2 319v4M548.2 337v5M549.8 278v9M549.8 319v4M551.2 237v4M551.2 273v5M551.2 319v4M551.2 328v5M552.8 273v5M552.8 301v4M552.8 319v9M554.2 305v14M554.2 337v9M555.8 278v4M555.8 342v4M557.2 232v5M557.2 264v5M557.2 305v9M558.8 250v5M558.8 301v4M560.2 273v14M560.2 305v5M560.2 314v5M561.8 296v5M561.8 310v9M563.2 301v4M563.2 314v9M564.8 342v9M566.2 287v4M567.8 278v4M567.8 346v9M569.2 269v4M570.8 355v5M572.2 269v4M572.2 323v5M572.2 333v4M573.8 278v4M575.2 259v10M575.2 346v9M576.8 273v5M576.8 301v4M576.8 323v10M579.8 273v5M581.2 328v14M582.8 346v5M585.8 269v4M585.8 291v5M585.8 342v4M587.2 287v4M587.2 346v9M588.8 282v5M588.8 355v5M590.2 278v4M590.2 296v5M591.8 278v4M594.8 173v4M594.8 195v5M594.8 301v9M596.2 250v5M596.2 301v9M597.8 319v4M597.8 328v5M599.2 291v5M599.2 337v5M600.8 250v5M600.8 296v5M600.8 346v5M602.2 255v4M602.2 269v4M602.2 337v5M603.8 227v5M603.8 278v4M603.8 291v5M603.8 323v10M603.8 337v5M603.8 355v5M605.2 291v5M605.2 314v9M605.2 328v5M606.8 269v4M606.8 291v5M606.8 323v5M606.8 346v9M608.2 296v9M608.2 333v4M612.8 319v4M614.2 310v4M614.2 323v10M615.8 305v5M615.8 333v4M617.2 310v9M617.2 333v4M621.8 282v9M621.8 301v4M621.8 323v5M621.8 337v5M621.8 355v5M623.2 264v5M626.2 269v4M626.2 305v5M626.2 333v4M627.8 278v4M627.8 287v4M627.8 296v5M627.8 314v5M627.8 328v5M629.2 305v9M630.8 314v5M630.8 323v5M632.2 278v4M632.2 287v9M632.2 342v9M635.2 305v9M635.2 323v5M636.8 314v9M636.8 333v4M638.2 259v5M638.2 291v5M638.2 301v9M638.2 333v4M639.8 278v9M639.8 342v4M639.8 351v4M642.8 241v5M644.2 237v4M644.2 282v5M645.8 287v4M645.8 296v5M645.8 310v9M645.8 337v5M647.2 328v5M647.2 351v4M648.8 269v4M648.8 328v5M650.2 282v5M651.8 269v4M651.8 287v4M651.8 355v5M653.2 264v5M654.8 287v4M656.2 301v9M656.2 328v14M657.8 269v4M657.8 310v9M657.8 323v5M659.2 282v5M659.2 301v4M659.2 314v5M660.8 310v4M660.8 328v9M662.2 237v4M662.2 278v4M662.2 287v4M662.2 323v5M662.2 342v4M663.8 291v5M663.8 337v5M665.2 282v14M665.2 305v5M665.2 323v5M665.2 337v5M666.8 287v4M666.8 319v4M668.2 287v9M668.2 333v4M669.8 301v13M669.8 319v4M669.8 333v4M672.8 278v4M674.2 246v4M674.2 351v4M675.8 237v4M675.8 301v4M675.8 310v4M675.8 333v4M675.8 346v5M677.2 351v4M680.2 264v5M680.2 346v5"/>
<path stroke="#0024ff" d="M162.8 323v5M165.8 319v4M165.8 328v5M167.2 40v5M167.2 49v14M167.2 81v5M167.2 90v19M167.2 113v5M167.2 127v4M167.2 136v23M167.2 168v5M167.2 177v5M167.2 186v14M167.2 205v9M167.2 223v9M167.2 237v9M167.2 264v23M168.8 301v4M168.8 328v5M171.8 264v5M171.8 296v5M171.8 314v5M176.2 323v5M177.8 333v4M186.8 45v13M186.8 72v5M186.8 86v13M186.8 104v5M186.8 113v5M186.8 122v14M186.8 145v5M186.8 182v4M186.8 191v9M186.8 205v4M186.8 232v5M186.8 241v5M186.8 255v4M186.8 278v4M186.8 287v9M188.2 328v5M189.8 328v5M191.2 328v5M195.8 328v5M197.2 333v4M198.8 333v4M201.8 319v4M204.8 342v4M206.2 337v9M209.2 310v4M210.8 319v4M215.2 323v5M221.2 273v5M221.2 314v5M231.8 328v5M233.2 328v5M236.2 305v5M240.8 314v5M242.2 310v4M246.8 314v5M248.2 305v9M249.8 296v5M257.2 346v5M261.8 314v5M261.8 337v5M261.8 351v4M263.2 314v5M263.2 351v9M267.8 314v5M273.8 319v4M275.2 296v5M276.8 342v4M282.8 342v9M284.2 314v5M291.8 319v4M293.2 291v5M293.2 346v9M294.8 301v4M296.2 305v5M299.2 310v4M300.8 314v5M300.8 342v4M300.8 351v4M303.8 301v4M308.2 296v5M312.8 305v5M314.2 346v5M315.8 314v5M315.8 346v5M318.8 314v5M318.8 346v5M321.8 328v5M321.8 342v4M324.8 351v4M326.2 310v4M326.2 328v5M327.8 310v4M329.2 337v5M335.2 328v9M336.8 342v4M338.2 328v5M342.8 310v4M344.2 305v5M344.2 342v4M344.2 355v5M345.8 305v9M345.8 323v5M347.2 301v4M348.8 296v5M350.2 241v5M350.2 287v4M353.2 305v5M354.8 301v4M356.2 301v9M357.8 328v5M357.8 337v5M357.8 346v5M359.2 333v9M359.2 351v4M360.8 333v9M360.8 351v4M362.2 351v4M363.8 346v9M365.2 278v4M366.8 278v4M366.8 323v10M369.8 333v4M371.2 305v5M371.2 346v5M372.8 333v4M374.2 342v4M375.8 301v4M375.8 333v9M377.2 342v4M378.8 319v14M378.8 346v5M380.2 305v5M380.2 314v5M381.8 301v4M381.8 346v5M383.2 328v5M383.2 342v4M383.2 355v5M384.8 291v5M386.2 323v5M389.2 291v5M389.2 328v5M392.2 323v5M392.2 333v13M393.8 323v10M393.8 342v4M395.2 296v5M396.8 310v4M396.8 342v9M398.2 342v9M399.8 301v4M402.8 305v5M402.8 314v9M404.2 305v9M405.8 296v5M405.8 323v5M405.8 337v9M407.2 342v4M408.8 319v4M408.8 346v5M410.2 241v5M410.2 346v9M411.8 282v9M411.8 328v9M411.8 351v4M413.2 323v14M414.8 241v5M414.8 323v5M416.2 273v5M420.8 328v5M422.2 319v14M422.2 355v5M423.8 323v5M423.8 337v5M425.2 287v4M425.2 351v4M428.2 319v9M428.2 333v4M429.8 301v4M429.8 314v5M429.8 323v5M431.2 296v5M431.2 351v4M432.8 287v4M432.8 323v5M434.2 287v4M435.8 296v5M435.8 323v5M437.2 310v4M437.2 333v4M440.2 305v5M441.8 278v4M441.8 287v4M441.8 351v4M443.2 296v5M443.2 310v4M444.8 296v5M444.8 328v5M444.8 351v4M446.2 296v5M447.8 296v5M449.2 310v4M449.2 323v5M449.2 342v4M450.8 291v5M450.8 351v4M452.2 291v5M452.2 346v5M453.8 255v9M453.8 287v9M455.2 305v5M455.2 314v5M455.2 323v5M455.2 342v9M456.8 355v5M458.2 305v5M458.2 319v4M458.2 351v4M459.8 301v13M459.8 342v13M461.2 282v5M461.2 310v4M461.2 319v9M464.2 305v5M465.8 314v5M467.2 314v5M467.2 328v5M468.8 291v5M468.8 314v5M470.2 291v5M470.2 301v4M471.8 342v4M473.2 328v5M473.2 342v4M474.8 314v5M474.8 333v4M474.8 342v4M476.2 314v5M476.2 323v5M476.2 333v4M477.8 287v4M477.8 310v4M477.8 323v5M479.2 287v9M479.2 337v5M479.2 346v9M480.8 278v4M480.8 287v4M482.2 291v5M482.2 351v4M483.8 346v9M485.2 314v5M485.2 342v4M486.8 310v9M488.2 287v4M489.8 305v5M489.8 346v5M491.2 287v4M491.2 346v9M492.8 314v14M495.8 310v4M495.8 333v9M497.2 337v5M497.2 346v5M498.8 342v4M500.2 259v5M500.2 282v5M501.8 346v9M503.2 282v5M503.2 351v4M504.8 296v9M504.8 337v14M507.8 273v5M510.8 301v4M510.8 346v5M512.2 333v4M513.8 287v4M513.8 314v5M513.8 333v4M513.8 346v5M515.2 305v5M515.2 333v4M516.8 319v4M519.8 282v9M519.8 301v4M519.8 310v4M519.8 328v14M522.8 269v4M522.8 351v4M524.2 328v5M524.2 342v4M525.8 319v4M525.8 333v4M527.2 287v4M527.2 296v5M528.8 301v4M528.8 319v4M528.8 337v9M530.2 310v18M531.8 287v4M531.8 310v4M531.8 346v5M534.8 301v4M536.2 291v5M536.2 351v4M537.8 314v5M537.8 351v4M539.2 269v4M539.2 291v10M540.8 269v4M540.8 314v5M540.8 333v4M542.2 282v5M542.2 291v5M543.8 287v4M545.2 282v9M546.8 301v4M546.8 319v4M548.2 305v5M548.2 342v4M549.8 351v4M551.2 278v4M551.2 351v4M552.8 278v4M552.8 305v14M552.8 328v5M552.8 342v4M552.8 351v4M554.2 296v5M555.8 296v5M555.8 310v4M555.8 346v5M557.2 273v5M557.2 346v9M558.8 227v5M558.8 255v4M558.8 296v5M560.2 337v5M561.8 301v4M561.8 319v4M564.8 301v4M566.2 291v10M566.2 355v5M567.8 342v4M569.2 291v5M572.2 328v5M572.2 337v5M573.8 269v4M573.8 323v5M573.8 333v4M576.8 278v4M576.8 287v4M576.8 346v5M578.2 278v4M581.2 291v5M581.2 314v14M582.8 355v5M584.2 273v5M584.2 355v5M587.2 355v5M591.8 310v4M593.2 323v5M594.8 232v9M594.8 250v5M594.8 296v5M594.8 310v9M594.8 337v9M596.2 255v4M596.2 291v10M596.2 310v9M597.8 278v4M597.8 323v5M597.8 337v5M599.2 342v9M600.8 291v5M600.8 301v4M600.8 328v9M602.2 287v4M603.8 273v5M603.8 282v5M605.2 323v5M606.8 278v9M608.2 287v4M608.2 305v23M608.2 337v5M608.2 346v9M609.8 259v5M609.8 282v5M611.2 323v5M612.8 323v5M614.2 282v5M614.2 305v5M615.8 269v4M615.8 337v5M617.2 296v9M617.2 328v5M617.2 337v5M620.2 291v5M620.2 301v9M621.8 328v9M623.2 250v5M626.2 342v4M627.8 259v14M627.8 319v4M627.8 346v5M629.2 301v4M630.8 328v5M630.8 342v4M633.8 351v9M635.2 287v4M635.2 296v5M636.8 291v5M636.8 328v5M636.8 337v5M638.2 287v4M638.2 342v9M639.8 355v5M641.2 269v4M642.8 214v4M642.8 255v4M642.8 264v14M642.8 351v9M645.8 301v9M645.8 346v5M648.8 273v5M650.2 278v4M651.8 273v5M651.8 282v5M653.2 269v4M654.8 255v4M654.8 351v4M656.2 310v4M656.2 342v4M657.8 296v14M657.8 328v5M657.8 342v4M659.2 305v9M659.2 323v10M662.2 291v5M662.2 314v5M662.2 346v9M663.8 259v5M663.8 278v4M663.8 314v5M663.8 323v14M663.8 342v4M665.2 310v13M665.2 328v9M665.2 342v4M666.8 282v5M666.8 314v5M666.8 342v9M668.2 255v4M668.2 269v4M668.2 282v5M668.2 337v5M668.2 351v4M669.8 282v9M669.8 337v14M669.8 355v5M671.2 305v5M672.8 250v5M674.2 278v4M674.2 355v5M675.8 255v4M675.8 278v4M680.2 351v4"/>
<path stroke="#0038ff" d="M164.2 319v4M167.2 45v4M167.2 109v4M167.2 118v9M167.2 131v5M167.2 159v4M167.2 200v5M167.2 214v4M167.2 232v5M167.2 250v9M167.2 287v9M170.2 301v4M179.2 337v5M180.8 333v4M183.8 337v5M185.2 342v4M186.8 109v4M186.8 118v4M186.8 136v5M186.8 150v18M186.8 177v5M186.8 186v5M186.8 214v4M186.8 223v9M186.8 237v4M186.8 246v9M186.8 259v19M186.8 282v5M186.8 296v5M192.8 314v5M192.8 351v4M201.8 328v5M203.2 328v9M203.2 342v4M213.8 328v5M216.8 351v4M218.2 323v5M221.2 328v5M221.2 351v4M233.2 346v5M240.8 351v4M243.8 328v5M249.8 301v4M251.2 319v4M257.2 314v5M258.8 319v4M258.8 351v4M260.2 310v4M263.2 319v4M263.2 337v5M267.8 337v5M270.8 346v5M276.8 328v5M282.8 333v4M282.8 351v4M285.8 314v5M291.8 342v4M293.2 305v5M293.2 342v4M296.2 342v4M297.8 314v5M297.8 351v9M299.2 342v9M302.2 310v4M302.2 342v9M303.8 342v4M305.2 305v5M306.8 328v5M306.8 346v5M306.8 355v5M308.2 301v9M308.2 314v5M308.2 323v5M309.8 296v5M311.2 296v5M311.2 328v5M311.2 355v5M321.8 314v5M321.8 346v9M323.2 328v9M324.8 319v4M324.8 337v5M326.2 355v5M329.2 314v5M329.2 342v4M330.8 314v5M330.8 337v5M335.2 337v5M335.2 346v9M336.8 355v5M338.2 319v4M339.8 337v5M341.2 333v4M341.2 346v5M342.8 337v5M342.8 346v5M344.2 323v5M347.2 310v4M347.2 342v4M348.8 337v5M351.8 337v5M353.2 337v5M354.8 305v5M354.8 342v4M357.8 314v5M357.8 333v4M359.2 355v5M360.8 355v5M362.2 323v5M365.2 282v5M366.8 351v4M369.8 351v4M372.8 323v5M372.8 342v9M374.2 305v5M374.2 337v5M374.2 351v4M375.8 328v5M375.8 351v4M377.2 301v4M377.2 333v9M378.8 351v4M380.2 342v4M381.8 296v5M383.2 323v5M386.2 333v4M386.2 342v9M387.8 296v5M387.8 328v5M392.2 305v5M392.2 346v5M393.8 305v5M393.8 333v4M393.8 346v5M395.2 301v4M395.2 328v18M396.8 314v5M396.8 355v5M398.2 319v4M399.8 328v14M402.8 310v4M404.2 351v4M405.8 310v4M405.8 346v5M407.2 319v4M408.8 287v4M411.8 314v5M411.8 337v9M413.2 287v4M413.2 319v4M417.8 291v5M419.2 301v4M420.8 291v5M420.8 319v9M422.2 333v18M423.8 319v4M423.8 328v9M425.2 314v5M428.2 296v9M431.2 301v4M431.2 310v4M432.8 319v4M434.2 337v5M437.2 296v5M437.2 355v5M441.8 310v4M441.8 346v5M441.8 355v5M443.2 305v5M443.2 355v5M444.8 319v4M446.2 328v5M447.8 333v4M449.2 282v5M449.2 328v5M449.2 346v5M450.8 296v5M450.8 305v5M452.2 296v5M455.2 301v4M455.2 310v4M455.2 337v5M456.8 323v5M456.8 333v4M459.8 333v4M461.2 287v4M462.8 287v4M464.2 296v5M465.8 351v4M467.2 287v9M467.2 310v4M467.2 319v4M468.8 287v4M468.8 328v9M470.2 314v9M471.8 264v5M471.8 333v9M471.8 346v5M473.2 287v4M473.2 314v5M473.2 333v4M474.8 337v5M476.2 310v4M476.2 337v5M477.8 296v5M477.8 342v4M479.2 296v5M479.2 310v4M479.2 342v4M482.2 296v5M482.2 337v5M483.8 287v4M483.8 355v5M486.8 342v4M488.2 351v4M489.8 287v4M489.8 310v4M492.8 287v4M492.8 301v4M492.8 337v9M494.2 296v9M495.8 301v4M495.8 319v14M497.2 291v5M497.2 342v4M498.8 310v4M498.8 346v5M500.2 301v9M500.2 346v9M501.8 282v5M501.8 355v5M503.2 287v9M506.2 305v5M506.2 314v9M506.2 351v4M507.8 278v4M510.8 337v5M513.8 301v4M513.8 323v5M515.2 342v4M516.8 296v5M516.8 310v4M518.2 278v13M519.8 291v5M519.8 346v9M524.2 273v9M524.2 296v5M524.2 333v9M525.8 291v5M525.8 310v4M525.8 328v5M525.8 342v4M527.2 291v5M528.8 296v5M528.8 351v4M530.2 328v9M531.8 291v5M531.8 337v5M533.2 355v5M537.8 296v5M539.2 282v5M539.2 351v9M540.8 273v5M540.8 305v5M540.8 346v5M542.2 287v4M543.8 282v5M543.8 291v5M543.8 351v4M545.2 291v5M545.2 314v5M546.8 310v4M546.8 333v4M548.2 301v4M548.2 310v9M549.8 287v4M549.8 301v4M552.8 346v5M554.2 351v4M555.8 282v5M555.8 351v4M560.2 287v4M560.2 296v5M560.2 351v4M563.2 351v4M564.8 351v4M566.2 282v5M567.8 296v9M569.2 273v5M569.2 355v5M572.2 346v5M573.8 328v5M573.8 337v5M575.2 269v4M575.2 282v5M579.8 296v14M582.8 273v5M582.8 351v4M584.2 278v4M584.2 287v4M585.8 355v5M587.2 273v5M590.2 287v9M590.2 323v10M590.2 342v4M591.8 314v9M593.2 305v18M594.8 291v5M596.2 269v4M597.8 282v5M597.8 333v4M600.8 255v4M600.8 305v9M600.8 342v4M603.8 287v4M606.8 273v5M608.2 291v5M608.2 328v5M608.2 342v4M612.8 328v5M615.8 296v9M617.2 269v4M617.2 305v5M618.8 273v5M618.8 301v4M620.2 287v4M620.2 296v5M624.8 269v4M624.8 282v5M626.2 287v9M626.2 337v5M626.2 346v5M627.8 273v5M627.8 282v5M627.8 323v5M627.8 337v9M629.2 319v4M630.8 296v5M630.8 333v4M632.2 282v5M635.2 301v4M635.2 337v5M636.8 301v4M638.2 296v5M638.2 337v5M641.2 278v4M642.8 246v9M642.8 259v5M642.8 278v4M644.2 241v5M644.2 346v5M648.8 351v4M650.2 355v5M651.8 278v4M653.2 273v5M653.2 287v4M654.8 259v5M656.2 346v5M657.8 319v4M657.8 346v5M659.2 278v4M659.2 337v5M659.2 351v4M662.2 296v5M662.2 305v5M662.2 319v4M662.2 328v9M663.8 301v4M663.8 310v4M663.8 319v4M666.8 291v5M666.8 328v14M668.2 264v5M668.2 273v5M668.2 355v5M671.2 264v5M671.2 351v9M674.2 250v5M680.2 273v5"/>
<path stroke="#004dff" d="M162.8 328v5M167.2 246v4M167.2 296v5M167.2 305v5M167.2 314v5M170.2 319v4M171.8 310v4M176.2 333v4M177.8 337v5M182.2 337v5M183.8 342v4M186.8 209v5M186.8 218v5M192.8 319v4M192.8 346v5M194.2 328v5M194.2 351v4M197.2 337v5M200.2 328v5M204.8 346v9M206.2 346v14M207.8 328v5M209.2 314v5M210.8 323v5M221.2 333v4M221.2 346v5M225.8 323v5M228.8 328v5M228.8 351v9M230.2 346v5M231.8 351v4M239.2 346v5M240.8 342v9M242.2 319v4M245.2 328v5M248.2 314v5M249.8 291v5M251.2 323v5M254.2 328v5M255.8 346v5M257.2 319v4M257.2 351v4M258.8 342v4M260.2 346v5M261.8 319v4M264.8 342v9M264.8 355v5M267.8 342v13M270.8 337v9M272.2 355v5M273.8 337v5M275.2 314v5M275.2 342v4M275.2 351v4M276.8 337v5M278.2 337v9M284.2 337v5M285.8 346v5M288.8 319v4M291.8 323v5M291.8 337v5M291.8 355v5M293.2 287v4M293.2 319v4M293.2 355v5M296.2 310v4M296.2 333v9M299.2 301v9M299.2 314v5M299.2 337v5M299.2 351v4M302.2 351v4M303.8 305v5M303.8 346v5M305.2 337v5M306.8 314v5M308.2 310v4M311.2 301v4M312.8 337v5M312.8 351v4M314.2 314v5M315.8 342v4M318.8 333v9M323.2 337v5M323.2 351v4M324.8 333v4M327.8 351v4M329.2 328v5M332.2 328v9M332.2 342v4M338.2 337v9M341.2 342v4M342.8 333v4M342.8 351v4M345.8 355v5M347.2 305v5M347.2 337v5M347.2 346v5M348.8 346v5M350.2 291v5M350.2 337v5M353.2 310v9M354.8 323v5M354.8 333v4M356.2 310v4M357.8 351v4M359.2 314v5M360.8 323v5M363.8 323v5M365.2 269v4M366.8 355v5M368.2 337v9M369.8 346v5M371.2 355v5M372.8 310v4M372.8 337v5M372.8 355v5M374.2 310v9M374.2 323v5M375.8 355v5M377.2 328v5M377.2 351v4M378.8 301v4M378.8 355v5M380.2 310v4M380.2 323v5M380.2 333v4M381.8 328v14M381.8 351v4M386.2 301v4M386.2 319v4M389.2 333v4M389.2 342v4M390.8 328v14M392.2 351v4M393.8 337v5M393.8 351v4M395.2 351v4M396.8 319v4M398.2 351v4M399.8 342v4M407.2 310v4M407.2 346v9M408.8 291v5M408.8 355v5M410.2 282v5M411.8 346v5M414.8 328v5M416.2 278v4M417.8 319v4M422.2 296v5M422.2 351v4M423.8 351v4M426.8 301v4M428.2 314v5M428.2 351v4M432.8 291v5M432.8 346v5M434.2 291v5M434.2 333v4M435.8 301v4M435.8 314v5M435.8 328v14M435.8 346v5M437.2 301v9M440.2 296v9M446.2 301v4M446.2 342v4M450.8 355v5M452.2 301v9M453.8 296v14M453.8 314v9M455.2 351v4M458.2 323v5M461.2 291v5M461.2 333v9M462.8 346v5M465.8 287v4M465.8 333v4M465.8 342v9M465.8 355v5M467.2 333v18M468.8 296v5M468.8 310v4M468.8 346v5M471.8 314v9M473.2 337v5M474.8 310v4M474.8 346v5M476.2 291v5M476.2 319v4M476.2 342v9M477.8 346v5M480.8 291v5M483.8 291v10M486.8 278v4M488.2 301v4M491.2 301v4M492.8 328v9M492.8 346v5M494.2 287v4M495.8 291v5M495.8 305v5M495.8 314v5M497.2 351v4M501.8 291v5M503.2 355v5M504.8 355v5M506.2 310v4M507.8 333v4M509.2 291v5M509.2 328v5M510.8 342v4M510.8 351v4M512.2 351v4M513.8 291v10M513.8 319v4M513.8 328v5M515.2 314v5M515.2 328v5M515.2 346v5M516.8 305v5M516.8 314v5M516.8 337v5M518.2 319v4M519.8 278v4M521.2 278v4M522.8 273v5M522.8 301v4M524.2 301v4M525.8 282v5M530.2 296v9M531.8 301v4M531.8 342v4M534.8 296v5M534.8 355v5M536.2 355v5M537.8 355v5M540.8 328v5M542.2 351v4M545.2 337v5M546.8 314v5M546.8 337v5M549.8 296v5M551.2 301v4M555.8 287v4M557.2 269v4M558.8 259v5M560.2 301v4M560.2 310v4M561.8 351v4M563.2 296v5M564.8 296v5M567.8 355v5M569.2 287v4M570.8 273v5M572.2 351v4M573.8 314v5M575.2 278v4M575.2 355v5M576.8 282v5M578.2 305v5M579.8 291v5M581.2 342v4M590.2 282v5M590.2 333v4M590.2 346v5M591.8 337v5M593.2 273v5M594.8 255v4M594.8 351v4M596.2 273v9M596.2 319v4M596.2 328v5M596.2 337v5M597.8 346v5M599.2 273v5M600.8 259v5M600.8 337v5M600.8 351v4M602.2 273v5M605.2 287v4M608.2 264v5M609.8 278v4M609.8 291v5M609.8 323v5M611.2 301v4M611.2 314v9M614.2 278v4M614.2 296v5M614.2 333v9M615.8 287v9M615.8 342v4M617.2 291v5M617.2 342v9M618.8 282v5M618.8 296v5M618.8 333v4M620.2 310v4M621.8 314v5M627.8 291v5M629.2 291v10M629.2 314v5M629.2 323v10M629.2 337v9M630.8 287v4M636.8 264v5M636.8 305v5M638.2 282v5M641.2 273v5M644.2 246v4M645.8 269v4M645.8 282v5M645.8 351v4M647.2 278v4M653.2 278v9M654.8 264v5M654.8 282v5M654.8 355v5M656.2 255v4M656.2 282v5M657.8 282v5M657.8 337v5M660.8 355v5M662.2 310v4M663.8 264v5M663.8 305v5M663.8 346v5M666.8 351v4M669.8 255v4M669.8 351v4M671.2 269v9M672.8 255v4M680.2 269v4"/>
<path stroke="#0061ff" d="M164.2 323v5M165.8 333v4M167.2 301v4M167.2 319v4M168.8 323v5M171.8 305v5M171.8 319v4M180.8 337v5M182.2 351v4M186.8 301v4M186.8 310v4M186.8 319v4M188.2 333v4M191.2 333v4M192.8 355v5M198.8 346v5M200.2 346v5M200.2 355v5M204.8 355v5M221.2 342v4M224.2 328v5M225.8 355v5M228.8 346v5M231.8 342v4M233.2 351v4M234.8 333v4M242.2 351v4M245.2 346v5M248.2 346v5M249.8 346v5M254.2 346v5M255.8 328v5M257.2 323v5M258.8 323v5M260.2 342v4M264.8 323v5M264.8 351v4M267.8 355v5M275.2 319v14M278.2 328v5M278.2 346v5M279.8 323v5M284.2 346v9M285.8 337v9M285.8 351v4M287.2 323v5M293.2 323v5M294.8 305v5M296.2 346v5M300.8 337v5M302.2 333v9M303.8 351v4M305.2 333v4M309.8 301v4M312.8 333v4M312.8 342v4M314.2 337v9M314.2 351v9M315.8 337v5M315.8 355v5M317.2 346v5M318.8 351v4M320.2 310v4M324.8 323v10M326.2 314v5M329.2 346v5M330.8 328v5M332.2 337v5M333.8 310v4M336.8 319v9M338.2 333v4M341.2 310v4M341.2 351v4M342.8 355v5M347.2 328v5M347.2 351v4M350.2 296v5M351.8 305v5M353.2 346v5M354.8 310v9M354.8 346v5M357.8 319v4M362.2 355v5M368.2 333v4M371.2 310v4M372.8 305v5M374.2 355v5M375.8 323v5M380.2 328v5M380.2 346v5M381.8 323v5M381.8 342v4M383.2 319v4M383.2 337v5M386.2 296v5M386.2 337v5M387.8 301v4M389.2 296v5M389.2 319v9M390.8 296v5M390.8 319v4M390.8 342v4M395.2 305v5M395.2 319v4M395.2 346v5M398.2 305v5M398.2 314v5M398.2 355v5M401.2 305v5M405.8 319v4M405.8 351v4M410.2 355v5M411.8 355v5M413.2 337v5M414.8 333v9M419.2 305v5M419.2 328v9M419.2 346v5M420.8 333v13M423.8 296v5M423.8 342v9M423.8 355v5M425.2 291v5M425.2 355v5M429.8 351v4M431.2 305v5M434.2 296v5M434.2 319v14M434.2 346v5M438.8 305v5M441.8 296v5M444.8 301v4M447.8 319v4M449.2 287v4M449.2 305v5M450.8 301v4M452.2 351v4M453.8 323v10M456.8 328v5M459.8 355v5M461.2 328v5M464.2 319v4M464.2 351v4M465.8 310v4M465.8 337v5M468.8 301v4M468.8 337v5M470.2 342v9M471.8 273v9M471.8 301v13M471.8 351v4M473.2 305v9M473.2 346v5M474.8 351v4M477.8 291v5M477.8 351v4M485.2 291v5M485.2 351v4M489.8 351v4M491.2 355v5M492.8 351v4M494.2 291v5M497.2 305v5M498.8 351v4M500.2 355v5M501.8 287v4M503.2 296v5M506.2 287v4M506.2 333v9M506.2 346v5M507.8 282v5M507.8 328v5M507.8 337v5M510.8 333v4M515.2 291v14M515.2 319v4M516.8 291v5M516.8 301v4M516.8 333v4M518.2 291v5M519.8 296v5M524.2 346v5M525.8 314v5M530.2 305v5M531.8 296v5M531.8 351v4M536.2 296v5M539.2 287v4M540.8 278v4M540.8 291v5M540.8 301v4M543.8 355v5M545.2 296v5M546.8 296v5M548.2 296v5M548.2 346v5M549.8 291v5M549.8 314v5M552.8 296v5M552.8 355v5M554.2 291v5M554.2 346v5M557.2 278v4M557.2 296v5M560.2 291v5M560.2 355v5M564.8 291v5M564.8 355v5M569.2 278v4M570.8 287v4M572.2 342v4M573.8 301v4M573.8 342v4M575.2 273v5M576.8 351v4M579.8 333v4M579.8 342v4M582.8 278v4M584.2 282v5M587.2 278v4M590.2 337v5M591.8 301v4M591.8 323v5M591.8 333v4M593.2 278v4M593.2 328v9M594.8 259v5M594.8 287v4M596.2 259v10M596.2 282v5M596.2 323v5M596.2 333v4M596.2 342v4M597.8 342v4M602.2 278v9M605.2 355v5M608.2 355v5M609.8 264v5M609.8 296v5M609.8 342v9M611.2 305v9M612.8 305v14M612.8 337v5M614.2 291v5M614.2 301v4M614.2 342v4M617.2 287v4M617.2 351v4M618.8 305v9M618.8 319v9M620.2 346v5M621.8 310v4M621.8 319v4M623.2 273v5M626.2 273v9M626.2 351v4M629.2 287v4M629.2 333v4M629.2 346v5M630.8 291v5M635.2 282v5M635.2 342v4M638.2 264v5M644.2 250v5M644.2 351v4M645.8 355v5M647.2 273v5M647.2 355v5M648.8 355v5M650.2 269v4M654.8 269v9M657.8 351v4M659.2 333v4M662.2 301v4M663.8 351v4M665.2 264v5M665.2 278v4M668.2 259v5M668.2 278v4M669.8 269v13M671.2 278v4M672.8 259v5M675.8 351v4M677.2 355v5"/>
<path stroke="#0075ff" d="M164.2 328v5M165.8 323v5M167.2 333v4M168.8 351v9M170.2 355v5M182.2 342v4M183.8 351v4M186.8 305v5M186.8 314v5M192.8 323v5M198.8 337v5M200.2 351v4M201.8 333v4M203.2 337v5M209.2 346v5M215.2 328v5M216.8 346v5M216.8 355v5M219.8 328v5M221.2 337v5M221.2 355v5M224.2 355v5M227.2 355v5M230.2 351v4M237.8 355v5M239.2 351v4M242.2 323v5M242.2 342v4M245.2 351v4M249.8 351v9M252.8 328v5M255.8 351v9M257.2 342v4M260.2 314v5M263.2 323v5M266.2 342v4M267.8 333v4M269.2 323v5M269.2 346v5M273.8 323v5M275.2 310v4M275.2 355v5M276.8 355v5M284.2 333v4M284.2 342v4M284.2 355v5M290.2 319v4M291.8 333v4M293.2 310v9M294.8 351v4M302.2 314v5M303.8 337v5M305.2 342v9M308.2 319v4M312.8 355v5M314.2 333v4M315.8 333v4M315.8 351v4M321.8 355v5M324.8 355v5M327.8 314v5M327.8 355v5M330.8 333v4M330.8 342v4M335.2 342v4M335.2 355v5M339.8 314v5M339.8 328v9M341.2 323v10M341.2 355v5M342.8 342v4M344.2 310v4M345.8 314v5M347.2 355v5M348.8 301v4M350.2 301v4M351.8 351v4M353.2 333v4M353.2 342v4M353.2 351v4M354.8 328v5M354.8 355v5M356.2 337v5M356.2 346v5M366.8 282v5M368.2 310v4M368.2 346v9M369.8 310v4M372.8 314v5M372.8 328v5M374.2 328v5M375.8 305v5M377.2 305v5M380.2 337v5M380.2 351v4M381.8 355v5M383.2 296v9M383.2 333v4M387.8 323v5M387.8 333v4M390.8 323v5M392.2 319v4M399.8 346v9M401.2 328v5M411.8 291v5M414.8 259v10M414.8 319v4M416.2 282v5M417.8 296v5M417.8 323v5M419.2 310v4M420.8 296v5M420.8 346v5M420.8 355v5M426.8 310v4M429.8 310v4M435.8 305v9M441.8 301v9M444.8 314v5M446.2 319v9M449.2 337v5M453.8 333v4M455.2 328v9M455.2 355v5M456.8 296v5M458.2 355v5M459.8 328v5M461.2 296v5M461.2 342v9M462.8 301v4M462.8 319v4M462.8 337v5M464.2 323v5M465.8 291v5M467.2 296v5M468.8 342v4M470.2 310v4M470.2 337v5M470.2 351v4M474.8 296v14M476.2 296v5M477.8 305v5M477.8 319v4M477.8 355v5M479.2 301v4M480.8 296v5M480.8 305v5M485.2 278v4M486.8 282v5M486.8 301v4M488.2 291v10M488.2 355v5M489.8 301v4M491.2 291v5M492.8 291v5M494.2 319v4M495.8 296v5M495.8 342v4M497.2 296v5M500.2 287v4M506.2 342v4M506.2 355v5M509.2 314v5M509.2 323v5M513.8 351v4M515.2 351v4M516.8 323v10M518.2 296v5M518.2 314v5M518.2 323v5M524.2 291v5M524.2 351v4M525.8 287v4M525.8 301v4M528.8 355v5M530.2 346v5M531.8 305v5M540.8 351v4M549.8 305v9M549.8 355v5M551.2 282v5M551.2 355v5M552.8 282v5M557.2 355v5M558.8 264v5M558.8 273v5M561.8 291v5M567.8 282v14M570.8 278v9M573.8 305v9M576.8 355v5M578.2 282v5M578.2 296v9M578.2 310v4M579.8 278v9M579.8 310v4M579.8 337v5M579.8 346v5M581.2 346v9M582.8 287v4M587.2 282v5M593.2 301v4M593.2 337v9M594.8 355v5M599.2 351v4M606.8 355v5M609.8 273v5M609.8 301v4M609.8 319v4M609.8 333v4M611.2 296v5M611.2 328v9M612.8 296v9M612.8 333v4M615.8 273v5M617.2 282v5M618.8 278v4M618.8 291v5M618.8 337v5M623.2 269v4M626.2 355v5M630.8 346v5M635.2 346v5M636.8 269v4M636.8 287v4M636.8 342v4M644.2 255v4M644.2 355v5M650.2 273v5M656.2 351v4M657.8 333v4M659.2 319v4M663.8 273v5M665.2 273v5M665.2 346v5M666.8 278v4M666.8 355v5M669.8 259v5"/>
<path stroke="#008aff" d="M167.2 328v5M170.2 333v4M171.8 301v4M171.8 323v5M176.2 337v5M180.8 342v4M182.2 355v5M185.2 351v4M189.8 333v4M198.8 342v4M207.8 342v4M209.2 351v9M215.2 351v4M216.8 328v5M216.8 342v4M219.8 351v4M222.8 337v5M224.2 346v5M225.8 346v9M228.8 342v4M233.2 342v4M239.2 319v4M245.2 342v4M254.2 355v5M257.2 355v5M258.8 333v9M260.2 337v5M260.2 351v4M261.8 323v5M264.8 337v5M266.2 323v5M266.2 333v4M266.2 355v5M267.8 319v4M270.8 351v4M273.8 355v5M275.2 337v5M276.8 333v4M278.2 333v4M282.8 355v5M285.8 319v4M287.2 346v5M291.8 328v5M293.2 337v5M294.8 310v4M294.8 342v4M296.2 355v5M300.8 355v5M303.8 310v4M303.8 333v4M306.8 323v5M306.8 351v4M309.8 305v14M311.2 305v5M312.8 310v4M314.2 328v5M317.2 319v4M317.2 337v9M323.2 342v4M324.8 342v4M329.2 323v5M335.2 319v9M338.2 346v9M339.8 342v9M347.2 323v5M347.2 333v4M348.8 351v4M350.2 342v4M351.8 328v9M351.8 342v9M353.2 319v4M353.2 328v5M354.8 351v4M356.2 328v5M357.8 323v5M359.2 319v4M363.8 305v5M365.2 287v4M365.2 296v5M369.8 314v5M371.2 314v5M371.2 328v5M377.2 323v5M377.2 355v5M378.8 305v5M386.2 305v5M392.2 310v4M393.8 319v4M398.2 310v4M401.2 333v9M405.8 314v5M407.2 355v5M410.2 291v5M413.2 314v5M413.2 342v4M414.8 342v13M417.8 333v4M419.2 337v5M420.8 351v4M425.2 310v4M426.8 305v5M428.2 355v5M432.8 296v5M432.8 355v5M434.2 314v5M434.2 342v4M435.8 342v4M444.8 310v4M447.8 314v5M447.8 337v5M449.2 296v5M449.2 351v4M458.2 328v9M462.8 291v5M462.8 323v5M462.8 342v4M462.8 351v4M464.2 346v5M467.2 301v4M471.8 269v4M485.2 282v9M485.2 296v9M485.2 355v5M489.8 291v5M492.8 296v5M494.2 305v9M495.8 346v9M497.2 301v4M498.8 291v5M501.8 296v5M506.2 301v4M506.2 323v10M507.8 314v5M507.8 323v5M509.2 310v4M512.2 355v5M516.8 351v4M519.8 355v5M521.2 282v19M525.8 346v9M540.8 282v9M540.8 296v5M540.8 355v5M551.2 305v5M551.2 314v5M558.8 269v4M558.8 278v4M563.2 355v5M569.2 282v5M573.8 346v5M578.2 287v4M578.2 333v4M579.8 287v4M579.8 323v5M579.8 351v4M582.8 282v5M590.2 351v4M591.8 282v5M591.8 296v5M591.8 328v5M591.8 342v4M593.2 351v4M597.8 287v4M599.2 287v4M600.8 287v4M600.8 355v5M609.8 269v4M609.8 287v4M609.8 314v5M609.8 351v4M611.2 291v5M614.2 287v4M615.8 351v4M617.2 273v5M618.8 314v5M620.2 314v5M620.2 333v4M623.2 278v4M624.8 273v5M626.2 282v5M627.8 351v4M629.2 282v5M630.8 282v5M635.2 351v4M636.8 346v9M638.2 351v4M644.2 259v5M654.8 278v4M656.2 259v5M662.2 355v5M663.8 269v4M665.2 269v4M665.2 351v9M674.2 255v4M680.2 355v5"/>
<path stroke="#009eff" d="M167.2 310v4M170.2 323v10M179.2 342v4M183.8 355v5M185.2 355v5M194.2 355v5M198.8 351v9M227.2 328v5M227.2 351v4M230.2 342v4M231.8 355v5M234.8 337v5M236.2 333v9M236.2 355v5M237.8 328v5M237.8 351v4M239.2 323v5M242.2 346v5M249.8 305v5M254.2 351v4M255.8 342v4M258.8 328v5M258.8 355v5M260.2 355v5M266.2 337v5M267.8 328v5M269.2 351v4M276.8 351v4M278.2 355v5M281.2 323v5M285.8 333v4M287.2 328v5M294.8 323v5M294.8 333v4M294.8 355v5M296.2 351v4M299.2 328v5M303.8 355v5M305.2 310v4M306.8 319v4M315.8 319v4M317.2 333v4M318.8 319v4M318.8 355v5M323.2 346v5M324.8 346v5M327.8 319v4M329.2 319v4M330.8 346v5M333.8 314v5M333.8 337v5M342.8 323v10M348.8 305v5M348.8 333v4M350.2 333v4M356.2 314v5M356.2 333v4M365.2 291v5M368.2 314v9M369.8 328v5M371.2 323v5M380.2 319v4M381.8 305v5M386.2 351v4M395.2 355v5M399.8 355v5M401.2 319v9M405.8 355v5M410.2 287v4M410.2 314v5M413.2 351v9M414.8 255v4M414.8 269v9M416.2 323v5M417.8 337v5M417.8 346v5M419.2 342v4M423.8 301v4M429.8 355v5M434.2 305v5M444.8 355v5M447.8 323v10M447.8 342v4M449.2 291v5M453.8 337v5M461.2 351v4M462.8 314v5M462.8 333v4M464.2 314v5M465.8 296v9M467.2 305v5M467.2 351v4M468.8 351v4M471.8 282v5M473.2 291v5M473.2 301v4M473.2 351v4M476.2 301v9M476.2 351v4M477.8 301v4M479.2 305v5M480.8 301v4M482.2 301v4M483.8 301v4M485.2 346v5M486.8 291v5M489.8 355v5M491.2 296v5M494.2 328v14M507.8 342v4M509.2 319v4M510.8 355v5M515.2 323v5M516.8 346v5M518.2 310v4M518.2 328v5M518.2 337v5M522.8 355v5M530.2 351v4M542.2 355v5M545.2 346v5M551.2 291v5M551.2 310v4M555.8 291v5M558.8 282v5M563.2 291v5M572.2 355v5M578.2 314v5M578.2 323v10M578.2 337v5M579.8 314v5M579.8 328v5M581.2 355v5M585.8 287v4M591.8 287v4M594.8 264v5M594.8 278v4M596.2 287v4M597.8 351v4M599.2 278v4M608.2 269v4M609.8 310v4M609.8 337v5M611.2 337v9M612.8 291v5M612.8 342v4M615.8 346v5M615.8 355v5M620.2 319v14M620.2 337v5M623.2 282v5M636.8 296v5M638.2 269v4M638.2 355v5M644.2 264v5M657.8 278v4M657.8 355v5M669.8 264v5M672.8 264v5M675.8 273v5M675.8 355v5"/>
<path stroke="#00b2ff" d="M168.8 337v5M171.8 355v5M180.8 351v9M182.2 346v5M194.2 346v5M197.2 342v4M203.2 346v5M207.8 333v4M209.2 319v4M210.8 346v9M218.2 351v4M222.8 346v5M224.2 342v4M224.2 351v4M234.8 351v4M240.8 323v5M243.8 346v9M248.2 351v9M249.8 342v4M254.2 342v4M257.2 337v5M260.2 319v9M266.2 328v5M273.8 328v9M275.2 333v4M278.2 351v4M279.8 337v5M284.2 319v4M287.2 333v13M293.2 333v4M294.8 319v4M294.8 337v5M299.2 355v5M300.8 319v4M303.8 314v5M305.2 328v5M312.8 328v5M327.8 323v5M329.2 351v4M332.2 310v4M332.2 346v5M333.8 333v4M333.8 342v4M338.2 323v5M350.2 328v5M350.2 346v5M353.2 355v5M357.8 355v5M363.8 355v5M366.8 301v4M368.2 328v5M369.8 355v5M371.2 319v4M380.2 355v5M384.8 296v5M386.2 355v5M387.8 314v5M387.8 342v4M390.8 351v4M401.2 342v4M407.2 314v5M408.8 296v5M413.2 346v5M414.8 278v4M414.8 355v5M416.2 287v4M416.2 319v4M416.2 346v5M417.8 301v4M417.8 342v4M419.2 314v5M419.2 351v4M422.2 314v5M423.8 305v5M432.8 314v5M434.2 301v4M435.8 351v4M438.8 296v5M444.8 305v5M446.2 305v9M446.2 346v9M447.8 346v5M462.8 296v5M462.8 305v5M464.2 328v5M464.2 342v4M468.8 305v5M471.8 287v4M486.8 296v5M486.8 351v4M489.8 296v5M494.2 323v5M494.2 346v5M498.8 301v4M507.8 319v4M507.8 346v9M509.2 333v4M515.2 355v5M518.2 333v4M522.8 278v4M530.2 337v9M545.2 342v4M546.8 342v4M551.2 287v4M551.2 296v5M552.8 287v4M554.2 355v5M557.2 282v5M561.8 355v5M573.8 296v5M578.2 291v5M578.2 342v4M585.8 282v5M593.2 282v5M594.8 269v4M594.8 346v5M599.2 355v5M600.8 264v9M611.2 346v5M614.2 346v5M615.8 282v5M617.2 355v5M618.8 287v4M620.2 342v4M627.8 355v5M636.8 273v5M636.8 282v5M644.2 273v9M659.2 355v5M675.8 264v9"/>
<path stroke="#00c7ff" d="M165.8 355v5M167.2 323v5M170.2 351v4M177.8 342v4M186.8 323v5M192.8 328v5M195.8 333v4M200.2 333v4M207.8 351v4M210.8 355v5M219.8 342v4M219.8 355v5M225.8 342v4M227.2 346v5M230.2 333v4M230.2 355v5M236.2 351v4M237.8 346v5M242.2 337v5M243.8 333v4M245.2 333v4M246.8 346v5M248.2 342v4M249.8 314v5M254.2 333v4M255.8 333v4M261.8 328v5M264.8 333v4M269.2 337v5M281.2 328v5M285.8 355v5M294.8 314v5M296.2 314v5M300.8 328v9M305.2 351v9M311.2 310v4M314.2 319v9M315.8 328v5M320.2 314v5M323.2 355v5M333.8 328v5M339.8 351v4M342.8 314v5M344.2 314v5M345.8 319v4M348.8 328v5M348.8 355v5M353.2 323v5M354.8 319v4M356.2 342v4M356.2 351v4M360.8 310v4M365.2 301v4M366.8 291v5M366.8 305v5M366.8 319v4M372.8 319v4M384.8 314v5M386.2 310v4M387.8 310v4M389.2 314v5M389.2 337v5M389.2 346v5M392.2 314v5M399.8 314v5M401.2 310v4M408.8 314v5M413.2 291v5M414.8 314v5M423.8 314v5M425.2 296v5M425.2 305v5M428.2 310v4M429.8 305v5M432.8 351v4M447.8 310v4M449.2 355v5M452.2 355v5M453.8 342v4M456.8 301v4M462.8 310v4M464.2 333v9M467.2 355v5M470.2 305v5M471.8 291v10M474.8 355v5M486.8 287v4M486.8 346v5M494.2 314v5M494.2 342v4M497.2 355v5M498.8 305v5M507.8 310v4M509.2 296v5M509.2 337v5M513.8 355v5M516.8 355v5M518.2 301v9M524.2 282v5M531.8 355v5M546.8 346v5M548.2 351v4M557.2 291v5M573.8 291v5M579.8 319v4M579.8 355v5M585.8 273v5M593.2 346v5M593.2 355v5M594.8 273v5M599.2 282v5M609.8 328v5M611.2 351v4M617.2 278v4M620.2 351v9M624.8 278v4M632.2 351v9M635.2 355v5M644.2 269v4M645.8 273v5M656.2 278v4M656.2 355v5M663.8 355v5M672.8 269v4"/>
<path stroke="#00dbff" d="M162.8 355v5M164.2 355v5M165.8 337v5M165.8 351v4M171.8 351v4M173.2 342v4M176.2 355v5M189.8 337v5M191.2 337v5M194.2 333v4M203.2 351v9M207.8 346v5M207.8 355v5M218.2 355v5M219.8 346v5M222.8 342v4M222.8 351v4M234.8 346v5M236.2 346v5M239.2 342v4M239.2 355v5M240.8 319v4M246.8 319v4M248.2 319v4M249.8 310v4M249.8 337v5M261.8 333v4M263.2 333v4M266.2 346v9M267.8 323v5M269.2 328v5M269.2 342v4M281.2 337v5M290.2 323v5M293.2 328v5M294.8 346v5M299.2 323v5M302.2 355v5M309.8 319v9M317.2 351v4M326.2 323v5M329.2 355v5M330.8 351v4M339.8 319v4M347.2 314v9M350.2 351v4M366.8 287v4M366.8 296v5M366.8 310v4M369.8 323v5M381.8 314v5M386.2 314v5M387.8 305v5M387.8 319v4M387.8 346v5M389.2 301v4M389.2 310v4M389.2 351v4M390.8 346v5M392.2 355v5M393.8 314v5M395.2 310v4M408.8 301v4M416.2 342v4M420.8 301v4M420.8 314v5M422.2 301v4M428.2 305v5M434.2 310v4M446.2 314v5M453.8 310v4M453.8 346v5M456.8 305v5M461.2 355v5M462.8 328v5M495.8 355v5M500.2 291v5M509.2 305v5M516.8 342v4M518.2 342v4M524.2 287v4M545.2 351v4M555.8 355v5M578.2 319v4M591.8 346v5M593.2 296v5M609.8 305v5M612.8 346v5M614.2 351v4M618.8 328v5M629.2 351v4M638.2 273v9M656.2 273v5M675.8 259v5"/>
<path stroke="#00f0ff" d="M167.2 337v5M183.8 346v5M210.8 342v4M215.2 346v5M215.2 355v5M218.2 342v9M224.2 333v4M233.2 355v5M240.8 355v5M248.2 337v5M260.2 328v9M263.2 328v5M270.8 323v5M279.8 328v5M281.2 342v4M282.8 319v4M282.8 328v5M287.2 351v4M294.8 328v5M300.8 323v5M303.8 328v5M311.2 319v4M315.8 323v5M326.2 319v4M330.8 319v4M330.8 355v5M332.2 351v4M348.8 310v4M351.8 310v4M360.8 314v5M362.2 310v4M365.2 305v5M374.2 319v4M375.8 310v4M378.8 310v9M381.8 310v4M381.8 319v4M390.8 301v4M393.8 310v4M399.8 305v5M401.2 346v5M410.2 296v9M411.8 296v5M414.8 282v5M416.2 291v5M416.2 328v9M416.2 351v4M417.8 305v5M417.8 328v5M423.8 310v4M438.8 301v4M447.8 301v9M447.8 351v4M449.2 301v4M461.2 301v9M464.2 355v5M465.8 305v5M470.2 355v5M471.8 355v5M486.8 355v5M492.8 355v5M494.2 351v4M498.8 296v5M498.8 355v5M507.8 305v5M509.2 346v5M524.2 355v5M525.8 355v5M557.2 287v4M573.8 351v4M585.8 278v4M590.2 355v5M615.8 278v4M618.8 346v5M636.8 278v4M656.2 264v5M672.8 273v5M674.2 259v14"/>
<path stroke="#05fffa" d="M164.2 333v4M164.2 351v4M185.2 346v5M186.8 355v5M192.8 333v4M212.2 333v4M218.2 328v5M234.8 342v4M240.8 337v5M242.2 355v5M245.2 337v5M249.8 319v4M251.2 351v4M255.8 337v5M257.2 328v5M264.8 328v5M269.2 333v4M270.8 333v4M272.2 323v5M281.2 346v5M288.8 323v5M290.2 351v4M299.2 333v4M303.8 319v4M311.2 314v5M318.8 328v5M321.8 323v5M330.8 323v5M333.8 323v5M333.8 346v5M338.2 355v5M339.8 323v5M348.8 323v5M362.2 314v9M365.2 319v4M366.8 314v5M368.2 323v5M368.2 355v5M375.8 314v5M377.2 319v4M384.8 301v4M387.8 337v5M389.2 305v5M393.8 355v5M395.2 314v5M411.8 301v4M432.8 305v5M434.2 351v4M435.8 355v5M473.2 296v5M509.2 342v4M518.2 346v5M558.8 291v5M594.8 282v5M596.2 346v5M609.8 355v5M611.2 287v4M618.8 342v4M645.8 278v4M656.2 269v4"/>
<path stroke="#1affe5" d="M162.8 351v4M186.8 333v4M188.2 355v5M191.2 355v5M201.8 337v9M207.8 337v5M212.2 355v5M222.8 355v5M231.8 333v4M233.2 333v4M239.2 337v5M245.2 355v5M279.8 355v5M285.8 323v10M288.8 342v9M290.2 342v9M296.2 328v5M299.2 319v4M302.2 328v5M317.2 355v5M318.8 323v5M333.8 319v4M344.2 319v4M356.2 319v9M363.8 319v4M365.2 314v5M375.8 319v4M399.8 310v4M401.2 351v4M416.2 337v5M419.2 355v5M422.2 305v5M464.2 310v4M468.8 355v5M473.2 355v5M506.2 291v5M530.2 355v5M545.2 355v5M591.8 291v5M593.2 287v4M597.8 355v5M608.2 273v5M608.2 282v5M612.8 287v4M612.8 351v4"/>
<path stroke="#2effd1" d="M171.8 328v5M173.2 346v5M176.2 346v5M191.2 346v5M209.2 323v5M210.8 328v5M212.2 346v5M215.2 342v4M219.8 333v4M227.2 342v4M228.8 337v5M230.2 337v5M246.8 351v4M257.2 333v4M279.8 342v9M281.2 351v4M290.2 328v5M321.8 319v4M350.2 323v5M351.8 355v5M369.8 319v4M377.2 310v4M408.8 305v5M417.8 310v9M417.8 351v4M425.2 301v4M432.8 301v4M434.2 355v5M462.8 355v5M546.8 351v4M552.8 291v5M591.8 351v4M600.8 273v5M618.8 351v4M629.2 355v5M630.8 355v5M636.8 355v5"/>
<path stroke="#42ffbd" d="M162.8 333v4M164.2 337v5M164.2 346v5M176.2 342v4M176.2 351v4M186.8 328v5M186.8 351v4M191.2 351v4M219.8 337v5M225.8 328v5M228.8 333v4M246.8 323v5M272.2 333v4M279.8 351v4M288.8 351v4M290.2 337v5M302.2 319v9M303.8 323v5M305.2 314v5M342.8 319v4M350.2 355v5M360.8 319v4M365.2 310v4M387.8 351v4M401.2 314v5M401.2 355v5M413.2 296v5M420.8 310v4M422.2 310v4M432.8 310v4M446.2 355v5M476.2 355v5M507.8 287v4M509.2 351v4M518.2 351v4M522.8 291v10M578.2 346v5M593.2 291v5M596.2 351v4M600.8 278v4M630.8 351v4M674.2 273v5"/>
<path stroke="#57ffa8" d="M164.2 342v4M174.8 342v4M188.2 351v4M195.8 351v4M212.2 337v5M212.2 351v4M215.2 337v5M227.2 337v5M240.8 328v5M243.8 342v4M246.8 342v4M270.8 355v5M279.8 333v4M288.8 333v9M290.2 333v4M297.8 319v4M297.8 328v5M305.2 323v5M311.2 323v5M332.2 355v5M333.8 351v4M339.8 355v5M350.2 305v5M351.8 323v5M356.2 355v5M363.8 314v5M377.2 314v5M390.8 355v5M414.8 287v4M416.2 310v4M420.8 305v5M507.8 301v4M507.8 355v5M548.2 355v5M558.8 287v4M600.8 282v5M611.2 355v5M614.2 355v5"/>
<path stroke="#6bff94" d="M167.2 351v9M173.2 355v5M177.8 355v5M180.8 346v5M186.8 337v5M189.8 351v9M195.8 337v5M197.2 346v9M212.2 342v4M213.8 333v4M227.2 333v4M233.2 337v5M239.2 328v5M242.2 328v5M243.8 355v5M251.2 328v5M251.2 346v5M254.2 337v5M270.8 328v5M281.2 333v4M290.2 355v5M296.2 323v5M312.8 314v5M332.2 314v5M341.2 314v5M363.8 310v4M384.8 310v4M390.8 305v5M408.8 310v4M411.8 310v4M414.8 291v5M416.2 314v5M500.2 296v5M509.2 301v4M522.8 282v5M608.2 278v4M618.8 355v5"/>
<path stroke="#80ff80" d="M186.8 346v5M188.2 346v5M189.8 346v5M191.2 342v4M194.2 337v5M195.8 355v5M209.2 328v5M209.2 342v4M213.8 337v5M216.8 337v5M224.2 337v5M234.8 355v5M236.2 342v4M237.8 337v9M240.8 333v4M246.8 337v5M246.8 355v5M251.2 342v4M251.2 355v5M252.8 333v4M281.2 355v5M284.2 328v5M287.2 355v5M296.2 319v4M297.8 323v5M305.2 319v4M320.2 319v9M333.8 355v5M348.8 314v5M351.8 314v5M383.2 305v5M447.8 355v5M453.8 351v4M494.2 355v5M506.2 296v5M522.8 287v4M578.2 351v9M591.8 355v5M596.2 355v5"/>
<path stroke="#94ff6b" d="M173.2 351v4M177.8 351v4M179.2 351v9M188.2 337v5M189.8 342v4M192.8 337v5M195.8 346v5M197.2 355v5M200.2 337v9M201.8 346v14M209.2 333v4M213.8 355v5M215.2 333v4M216.8 333v4M231.8 337v5M237.8 333v4M248.2 323v5M269.2 355v5M282.8 323v5M284.2 323v5M288.8 328v5M312.8 319v4M317.2 323v10M383.2 314v5M384.8 305v5M387.8 355v5M389.2 355v5M390.8 310v4M411.8 305v5M413.2 301v4M414.8 310v4M416.2 296v5M416.2 305v5M416.2 355v5M417.8 355v5M453.8 355v5M518.2 355v5M546.8 355v5M573.8 355v5M612.8 355v5"/>
<path stroke="#a8ff57" d="M162.8 337v9M165.8 342v9M171.8 333v4M174.8 346v5M186.8 342v4M195.8 342v4M209.2 337v5M210.8 333v4M213.8 346v9M218.2 333v4M225.8 333v9M239.2 333v4M242.2 333v4M243.8 337v5M246.8 328v9M248.2 333v4M251.2 337v5M252.8 346v9M272.2 328v5M288.8 355v5M312.8 323v5M332.2 319v9M348.8 319v4M351.8 319v4M383.2 310v4M390.8 314v5M410.2 305v5M413.2 310v4M414.8 296v14M416.2 301v4M507.8 291v5M509.2 355v5"/>
<path stroke="#bdff42" d="M162.8 346v5M168.8 342v4M170.2 337v5M174.8 355v5M177.8 346v5M192.8 342v4M194.2 342v4M210.8 337v5M213.8 342v4M218.2 337v5M248.2 328v5M249.8 323v14M251.2 333v4M252.8 337v9M252.8 355v5M341.2 319v4M350.2 310v13M410.2 310v4M413.2 305v5M507.8 296v5"/>
<path stroke="#d1ff2e" d="M167.2 342v4M168.8 346v5M170.2 342v4M171.8 337v9M179.2 346v5M188.2 342v4"/>
<path stroke="#e5ff1a" d="M167.2 346v5M170.2 346v5M171.8 346v5M174.8 351v4"/>
</g>
</g>
</g>
<line x1="112" y1="357" x2="682" y2="275.2" stroke="#000" stroke-width="0.75" opacity="0.85"/>
<rect x="112.5" y="40.5" width="698" height="319" fill="none" stroke="#000" stroke-width="1" opacity="0.72"/>
<path d="M802.5 359.5v-3M810.5 360.5h-3M810.5 323.5h-3M810.5 286.5h-3M810.5 249.5h-3M810.5 213.5h-3M810.5 176.5h-3M810.5 139.5h-3M810.5 102.5h-3M810.5 66.5h-3" stroke="#000" stroke-width="0.6" fill="none" opacity="0.7"/>
<text transform="translate(236 373.4) scale(1.075 1)" text-anchor="middle">0.2</text>
<text transform="translate(377.5 373.4) scale(1.075 1)" text-anchor="middle">0.4</text>
<text transform="translate(519 373.4) scale(1.075 1)" text-anchor="middle">0.6</text>
<text transform="translate(661.5 373.4) scale(1.075 1)" text-anchor="middle">0.8</text>
<text transform="translate(802 373.4) scale(1.075 1)" text-anchor="middle">1.0</text>
<text transform="translate(237 36.5) scale(1.075 1)" text-anchor="middle">200</text>
<text transform="translate(380 36.5) scale(1.075 1)" text-anchor="middle">400</text>
<text transform="translate(523.5 36.5) scale(1.075 1)" text-anchor="middle">600</text>
<text transform="translate(667 36.5) scale(1.075 1)" text-anchor="middle">800</text>
<text transform="translate(110 364.1) scale(1.075 1)" text-anchor="end">0.0</text>
<text transform="translate(110 327.38) scale(1.075 1)" text-anchor="end">0.2</text>
<text transform="translate(110 290.66) scale(1.075 1)" text-anchor="end">0.4</text>
<text transform="translate(110 253.94) scale(1.075 1)" text-anchor="end">0.6</text>
<text transform="translate(110 217.22) scale(1.075 1)" text-anchor="end">0.8</text>
<text transform="translate(110 180.5) scale(1.075 1)" text-anchor="end">1.0</text>
<text transform="translate(110 143.78) scale(1.075 1)" text-anchor="end">1.2</text>
<text transform="translate(110 107.06) scale(1.075 1)" text-anchor="end">1.4</text>
<text transform="translate(110 70.34) scale(1.075 1)" text-anchor="end">1.6</text>
<text class="lb" transform="translate(461.5 22) scale(1.04 1)" text-anchor="middle">baseline length [<tspan class="it">λ</tspan>]</text>
<text class="lb" transform="translate(461 392.8) scale(1.04 1)" text-anchor="middle"><tspan class="it">k</tspan><tspan class="sm" dy="4">⊥</tspan><tspan dy="-4"> [hMpc</tspan><tspan class="sm" dy="-6">−1</tspan><tspan dy="6" dx="1.5">]</tspan></text>
<text class="lb" transform="translate(76.3 200) rotate(-90) scale(1 1.04)" text-anchor="middle"><tspan class="it">k</tspan><tspan class="sm" dy="4">∥</tspan><tspan dy="-4"> [hMpc</tspan><tspan class="sm" dy="-6">−1</tspan><tspan dy="6" dx="1.5">]</tspan></text>
<g clip-path="url(#inset)">
<rect x="675" y="88" width="226" height="225" fill="#1b1a40"/>
<g clip-path="url(#sky)">
<rect x="675" y="88" width="226" height="225" fill="url(#skyl)"/>
<circle cx="787.5" cy="200" r="112" fill="url(#skyg)"/>
<path d="M790 86C792.0 87.5 796.2 90.5 802 95C807.8 99.5 818.7 106.5 825 113C831.3 119.5 835.8 127.0 840 134C844.2 141.0 847.6 148.0 850.5 155C853.4 162.0 855.8 168.5 857.5 176C859.2 183.5 859.6 190.0 860.5 200C861.4 210.0 863.2 225.5 862.6 236C862.0 246.5 859.6 254.5 856.6 263C853.6 271.5 848.8 280.5 844.5 287C840.2 293.5 835.8 298.2 831 302C826.2 305.8 821.2 307.3 816 309.6C810.8 311.9 802.7 314.9 800 316" fill="none" stroke="url(#glow1)" stroke-width="50" filter="url(#b12)"/>
<path d="M790 86C792.0 87.5 796.2 90.5 802 95C807.8 99.5 818.7 106.5 825 113C831.3 119.5 835.8 127.0 840 134C844.2 141.0 847.6 148.0 850.5 155C853.4 162.0 855.8 168.5 857.5 176C859.2 183.5 859.6 190.0 860.5 200C861.4 210.0 863.2 225.5 862.6 236C862.0 246.5 859.6 254.5 856.6 263C853.6 271.5 848.8 280.5 844.5 287C840.2 293.5 835.8 298.2 831 302C826.2 305.8 821.2 307.3 816 309.6C810.8 311.9 802.7 314.9 800 316" fill="none" stroke="url(#glow2)" stroke-width="17" filter="url(#b6)"/>
<path d="M802 95C805.8 98.0 818.7 106.5 825 113C831.3 119.5 835.8 127.0 840 134C844.2 141.0 847.6 148.0 850.5 155C853.4 162.0 855.8 168.5 857.5 176C859.2 183.5 859.6 190.0 860.5 200C861.4 210.0 863.2 225.5 862.6 236C862.0 246.5 859.6 254.5 856.6 263C853.6 271.5 848.8 280.5 844.5 287C840.2 293.5 835.8 298.2 831 302C826.2 305.8 821.2 307.3 816 309.6C810.8 311.9 802.7 314.9 800 316" fill="none" stroke="url(#coreg)" stroke-width="3.2" filter="url(#b2)"/>
<path d="M857.5 176C858.0 180.0 859.6 190.0 860.5 200C861.4 210.0 863.2 225.5 862.6 236C862.0 246.5 859.6 254.5 856.6 263C853.6 271.5 846.5 283.0 844.5 287" fill="none" stroke="url(#hotg)" stroke-width="1.5" filter="url(#b1)"/>
<ellipse cx="800" cy="97" rx="22" ry="7" fill="#3f9058" opacity="0.5" filter="url(#b6)"/>
<ellipse cx="806" cy="96.5" rx="6" ry="1.5" fill="#b0bc48" opacity="0.7" filter="url(#b1)" transform="rotate(14 806 96.5)"/>
<ellipse cx="814.3" cy="98.3" rx="1.6" ry="1.1" fill="#ffc8b0"/>
<ellipse cx="720" cy="235" rx="40" ry="45" fill="#121c42" opacity="0.55" filter="url(#b12)"/>
<ellipse cx="745" cy="165" rx="30" ry="18" fill="#121c42" opacity="0.35" filter="url(#b12)"/>
<ellipse cx="775" cy="118" rx="40" ry="18" fill="#24586a" opacity="0.45" filter="url(#b12)"/>
<ellipse cx="775" cy="296" rx="40" ry="16" fill="#121c42" opacity="0.5" filter="url(#b12)"/>
<rect x="675" y="88" width="226" height="225" filter="url(#grain)" opacity="0.22"/>
<circle cx="865" cy="219" r="2.6" fill="#ffe0a0" opacity="0.45" filter="url(#b1)"/><circle cx="865" cy="219.5" r="1" fill="#fff" opacity="0.95"/><circle cx="866" cy="214" r="0.8" fill="#ff9080" opacity="0.9"/>
<circle cx="859" cy="258" r="0.7" fill="#fff" opacity="0.6"/><circle cx="695.5" cy="262" r="1" fill="#5fd0c0" opacity="0.6"/><circle cx="751" cy="268" r="0.8" fill="#5fd0c0" opacity="0.5"/><circle cx="780" cy="277" r="0.8" fill="#5fd0c0" opacity="0.5"/><circle cx="756" cy="304.5" r="1" fill="#5fd0c0" opacity="0.45"/><circle cx="705" cy="218" r="0.8" fill="#0a0a20" opacity="0.8"/>
</g>
<circle cx="787.5" cy="200" r="111.5" fill="none" stroke="#0e0e2c" stroke-width="1.4" opacity="0.55"/>
<path d="M711.1 213.5 C711.1 203.988 717.568 197.1 726.5 197.1 S741.9 203.988 741.9 213.5 S735.432 229.9 726.5 229.9 S711.1 223.012 711.1 213.5ZM700 213.5 C700 192.908 707.28 184.9 726 184.9 S752 192.908 752 213.5 S744.72 242.1 726 242.1 S700 234.092 700 213.5ZM695.2 213.5 C695.2 186.78 701.28 180.1 725.6 180.1 S756 186.78 756 213.5 S749.92 246.9 725.6 246.9 S695.2 240.22 695.2 213.5ZM690.4 213.2 C690.4 181.38 695.216 176.2 724.8 176.2 S759.2 181.38 759.2 213.2 S754.384 250.2 724.8 250.2 S690.4 245.02 690.4 213.2ZM708 152.8 C708 142.72 714.44 138.8 731 138.8 S754 142.72 754 152.8 S747.56 166.8 731 166.8 S708 162.88 708 152.8ZM722.8 153 C722.8 150.1 725.992 148 730.4 148 S738 150.1 738 153 S734.808 158 730.4 158 S722.8 155.9 722.8 153ZM716 272.4 C716 265.328 720.992 262 731.6 262 S747.2 265.328 747.2 272.4 S742.208 282.8 731.6 282.8 S716 279.472 716 272.4Z" fill="none" stroke="#b81c2e" stroke-width="0.75" opacity="0.85"/>
<path d="M773 212 C773 200.84 776.42 194 782 194 S791 200.84 791 212 S787.58 230 782 230 S773 223.16 773 212ZM767.2 212 C767.2 189.38 770.368 183 781.6 183 S796 189.38 796 212 S792.832 241 781.6 241 S767.2 234.62 767.2 212ZM812.5 213 C812.5 197.6 816.4 191 825.5 191 S838.5 197.6 838.5 213 S834.6 235 825.5 235 S812.5 228.4 812.5 213ZM807.5 213.7 C807.5 188.9 811.1 182.7 825.5 182.7 S843.5 188.9 843.5 213.7 S839.9 244.7 825.5 244.7 S807.5 238.5 807.5 213.7ZM865 212.4 C865 204.6 868.6 199.4 874 199.4 S883 204.6 883 212.4 S879.4 225.4 874 225.4 S865 220.2 865 212.4ZM857.5 213 C857.5 192.86 861.58 186.5 874.5 186.5 S891.5 192.86 891.5 213 S887.42 239.5 874.5 239.5 S857.5 233.14 857.5 213ZM852 213 C852 185.28 855.52 180 874 180 S896 185.28 896 213 S892.48 246 874 246 S852 240.72 852 213Z" fill="none" stroke="#d02a36" stroke-width="0.75" stroke-dasharray="1.1 1" opacity="0.85"/>
<text class="id" x="899.5" y="310.3" text-anchor="end">1061306296</text>
</g>
</svg>
</body></html>
